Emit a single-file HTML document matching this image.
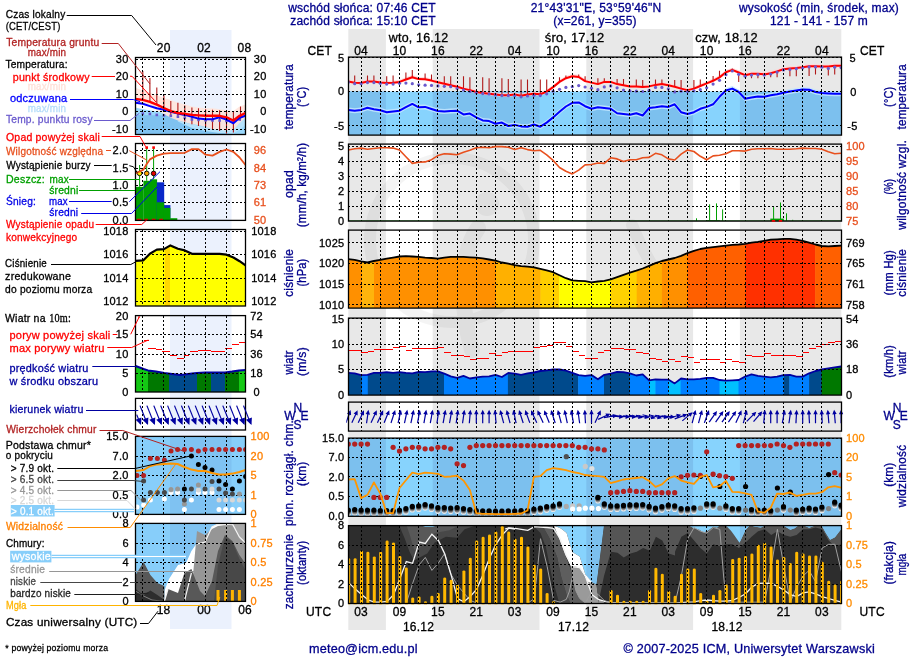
<!DOCTYPE html>
<html><head><meta charset="utf-8"><title>Meteogram</title>
<style>html,body{margin:0;padding:0;background:#fff}svg{display:block}text{font-family:"Liberation Sans",Arial,sans-serif;letter-spacing:0.2px;stroke-width:0.3px}</style>
</head><body>
<svg width="910" height="660" viewBox="0 0 910 660">
<rect width="910" height="660" fill="#fff"/>
<rect x="348.3" y="29" width="37.6" height="601" fill="#e8e8e8" />
<rect x="432.7" y="29" width="106.8" height="601" fill="#e8e8e8" />
<rect x="586.3" y="29" width="106.8" height="601" fill="#e8e8e8" />
<rect x="739.9" y="29" width="101.4" height="601" fill="#e8e8e8" />
<rect x="170" y="30" width="61.5" height="599" fill="#ebf1fd" />
<g fill="none" stroke="#000" stroke-width="12" opacity="0.04" stroke-linecap="round"><circle cx="452" cy="240" r="82"/><path d="M478 228 C462 250 458 300 472 350" stroke-width="16"/><circle cx="487" cy="204" r="12" fill="#000" stroke="none"/><path d="M632 225 C640 245 650 262 656 272"/></g>
<clipPath id="cT"><rect x="348.3" y="57" width="492.99999999999994" height="78"/></clipPath>
<g>
<rect x="348.3" y="91.5" width="493" height="43.5" fill="#87d3fd" />
<rect x="348.3" y="91.5" width="37.6" height="43.5" fill="#7cc0ee" />
<rect x="432.7" y="91.5" width="106.8" height="43.5" fill="#7cc0ee" />
<rect x="586.3" y="91.5" width="106.8" height="43.5" fill="#7cc0ee" />
<rect x="739.9" y="91.5" width="101.4" height="43.5" fill="#7cc0ee" />
</g>
<g clip-path="url(#cT)">
<polygon points="348.3,79.3 354.7,80.6 361.1,80.8 367.5,79.3 373.9,79.3 380.3,80.3 386.7,80.8 393.1,80.6 399.5,79.7 405.9,77.3 412.3,75 418.7,76.9 425.1,77.1 431.5,78.4 437.9,80.1 444.3,81.6 450.7,83.1 457.1,84.5 463.5,86.4 469.9,87.9 476.3,89.8 482.7,90.9 489.1,91.6 495.5,92.4 501.9,93.1 508.3,93.1 514.7,92.4 521.1,93.5 527.5,92.4 533.9,91.6 540.3,92 546.7,89.4 553.1,84.9 559.5,79.7 565.9,76 572.3,74.1 578.7,74.8 585.1,78.9 591.5,80.4 597.9,81.9 604.3,79.7 610.7,79.7 617.1,81.9 623.5,83.1 629.9,84.2 636.3,84.2 642.7,84.9 649.1,84.2 655.5,82.7 661.9,81.9 668.3,83.1 674.7,84.5 681.1,86.4 687.5,87.9 693.9,86.4 700.3,83.8 706.7,81.2 713.1,78.6 719.5,75.2 725.9,70 732.3,67.7 738.7,70.3 745.1,73 751.5,71.5 757.9,71.5 764.3,72.2 770.7,71.1 777.1,69.2 783.5,67 789.9,66.2 796.3,65.9 802.7,65.1 809.1,64 815.5,64 821.9,64.4 828.3,64.4 834.7,63.6 841.1,63.6 841.1,67.3 834.7,67.3 828.3,68.1 821.9,68.1 815.5,67.7 809.1,67.7 802.7,68.8 796.3,69.6 789.9,69.9 783.5,70.7 777.1,72.9 770.7,74.8 764.3,75.9 757.9,75.2 751.5,75.2 745.1,76.7 738.7,74 732.3,71.4 725.9,73.7 719.5,78.9 713.1,82.3 706.7,84.9 700.3,87.5 693.9,90.1 687.5,91.6 681.1,90.1 674.7,88.2 668.3,86.8 661.9,85.6 655.5,86.4 649.1,87.9 642.7,88.6 636.3,87.9 629.9,87.9 623.5,86.8 617.1,85.6 610.7,83.4 604.3,83.4 597.9,85.6 591.5,84.1 585.1,82.6 578.7,78.5 572.3,77.8 565.9,79.7 559.5,83.4 553.1,88.6 546.7,93.1 540.3,95.7 533.9,95.3 527.5,96.1 521.1,97.2 514.7,96.1 508.3,96.8 501.9,96.8 495.5,96.1 489.1,95.3 482.7,94.6 476.3,93.5 469.9,91.6 463.5,90.1 457.1,88.2 450.7,86.8 444.3,85.3 437.9,83.8 431.5,82.1 425.1,80.8 418.7,80.6 412.3,78.7 405.9,81 399.5,83.4 393.1,84.3 386.7,84.5 380.3,84 373.9,83 367.5,83 361.1,84.5 354.7,84.3 348.3,83" fill="#ffd6d6" opacity="0.8"/>
<polygon points="348.3,107.4 354.7,108.2 361.1,107.4 367.5,105.2 373.9,106.7 380.3,107.8 386.7,109.7 393.1,108.9 399.5,108.2 405.9,104.6 412.3,101.4 418.7,104.8 425.1,104.4 431.5,106.5 437.9,108.5 444.3,108.9 450.7,108.5 457.1,108.2 463.5,111.9 469.9,111.1 476.3,114.9 482.7,117.9 489.1,118.6 495.5,121.2 501.9,120.1 508.3,123.5 514.7,122.4 521.1,123.9 527.5,124.2 533.9,122 540.3,124.2 546.7,120.1 553.1,114.9 559.5,109.3 565.9,104 572.3,100.3 578.7,99.9 585.1,103.7 591.5,106.3 597.9,104.8 604.3,105.5 610.7,106.3 617.1,110.8 623.5,111.5 629.9,112.3 636.3,110.8 642.7,113 649.1,105.5 655.5,104.8 661.9,103.7 668.3,104.4 674.7,101.8 681.1,109.7 687.5,111.5 693.9,109.7 700.3,106.3 706.7,104.4 713.1,101.8 719.5,94.3 725.9,88 732.3,86.1 738.7,89.5 745.1,96.2 751.5,95.1 757.9,94 764.3,94.3 770.7,92.8 777.1,91.7 783.5,90.2 789.9,89.1 796.3,88 802.7,86.9 809.1,87.2 815.5,89.5 821.9,90.6 828.3,91 834.7,91.3 841.1,91.3 841.1,96.3 834.7,96.3 828.3,96 821.9,95.6 815.5,94.5 809.1,92.2 802.7,91.9 796.3,93 789.9,94.1 783.5,95.2 777.1,96.7 770.7,97.8 764.3,99.3 757.9,99 751.5,100.1 745.1,101.2 738.7,94.5 732.3,91.1 725.9,93 719.5,99.3 713.1,106.8 706.7,109.4 700.3,111.3 693.9,114.7 687.5,116.5 681.1,114.7 674.7,106.8 668.3,109.4 661.9,108.7 655.5,109.8 649.1,110.5 642.7,118 636.3,115.8 629.9,117.3 623.5,116.5 617.1,115.8 610.7,111.3 604.3,110.5 597.9,109.8 591.5,111.3 585.1,108.7 578.7,104.9 572.3,105.3 565.9,109 559.5,114.3 553.1,119.9 546.7,125.1 540.3,129.2 533.9,127 527.5,129.2 521.1,128.9 514.7,127.4 508.3,128.5 501.9,125.1 495.5,126.2 489.1,123.6 482.7,122.9 476.3,119.9 469.9,116.1 463.5,116.9 457.1,113.2 450.7,113.5 444.3,113.9 437.9,113.5 431.5,111.5 425.1,109.4 418.7,109.8 412.3,106.4 405.9,109.6 399.5,113.2 393.1,113.9 386.7,114.7 380.3,112.8 373.9,111.7 367.5,110.2 361.1,112.4 354.7,113.2 348.3,112.4" fill="#c4e6ff" opacity="0.85"/>
<line x1="348.3" y1="75.4" x2="348.3" y2="81.5" stroke="#b01818" stroke-width="1.1" />
<line x1="354.7" y1="75.4" x2="354.7" y2="82.8" stroke="#b01818" stroke-width="1.1" />
<line x1="367.5" y1="75.4" x2="367.5" y2="81.5" stroke="#b01818" stroke-width="1.1" />
<line x1="373.9" y1="75.4" x2="373.9" y2="81.5" stroke="#b01818" stroke-width="1.1" />
<line x1="386.7" y1="76.3" x2="386.7" y2="83" stroke="#b01818" stroke-width="1.1" />
<line x1="393.1" y1="75.5" x2="393.1" y2="82.8" stroke="#b01818" stroke-width="1.1" />
<line x1="405.9" y1="72.5" x2="405.9" y2="79.5" stroke="#b01818" stroke-width="1.1" />
<line x1="412.3" y1="70.1" x2="412.3" y2="77.2" stroke="#b01818" stroke-width="1.1" />
<line x1="425.1" y1="73.5" x2="425.1" y2="79.3" stroke="#b01818" stroke-width="1.1" />
<line x1="431.5" y1="74.4" x2="431.5" y2="80.6" stroke="#b01818" stroke-width="1.1" />
<line x1="444.3" y1="76.3" x2="444.3" y2="83.8" stroke="#b01818" stroke-width="1.1" />
<line x1="450.7" y1="76.3" x2="450.7" y2="85.3" stroke="#b01818" stroke-width="1.1" />
<line x1="463.5" y1="76.3" x2="463.5" y2="88.6" stroke="#b01818" stroke-width="1.1" />
<line x1="469.9" y1="77.2" x2="469.9" y2="90.1" stroke="#b01818" stroke-width="1.1" />
<line x1="482.7" y1="77.2" x2="482.7" y2="93.1" stroke="#b01818" stroke-width="1.1" />
<line x1="489.1" y1="78.2" x2="489.1" y2="93.8" stroke="#b01818" stroke-width="1.1" />
<line x1="501.9" y1="78.2" x2="501.9" y2="95.3" stroke="#b01818" stroke-width="1.1" />
<line x1="508.3" y1="79.1" x2="508.3" y2="95.3" stroke="#b01818" stroke-width="1.1" />
<line x1="521.1" y1="79.6" x2="521.1" y2="95.7" stroke="#b01818" stroke-width="1.1" />
<line x1="527.5" y1="79.6" x2="527.5" y2="94.6" stroke="#b01818" stroke-width="1.1" />
<line x1="540.3" y1="79.6" x2="540.3" y2="94.2" stroke="#b01818" stroke-width="1.1" />
<line x1="546.7" y1="79.6" x2="546.7" y2="91.6" stroke="#b01818" stroke-width="1.1" />
<line x1="559.5" y1="77.2" x2="559.5" y2="81.9" stroke="#b01818" stroke-width="1.1" />
<line x1="565.9" y1="75.4" x2="565.9" y2="78.2" stroke="#b01818" stroke-width="1.1" />
<line x1="578.7" y1="74.4" x2="578.7" y2="77" stroke="#b01818" stroke-width="1.1" />
<line x1="585.1" y1="76.3" x2="585.1" y2="81.1" stroke="#b01818" stroke-width="1.1" />
<line x1="597.9" y1="78.2" x2="597.9" y2="84.1" stroke="#b01818" stroke-width="1.1" />
<line x1="604.3" y1="78.2" x2="604.3" y2="81.9" stroke="#b01818" stroke-width="1.1" />
<line x1="617.1" y1="79.1" x2="617.1" y2="84.1" stroke="#b01818" stroke-width="1.1" />
<line x1="623.5" y1="79.1" x2="623.5" y2="85.3" stroke="#b01818" stroke-width="1.1" />
<line x1="636.3" y1="79.6" x2="636.3" y2="86.4" stroke="#b01818" stroke-width="1.1" />
<line x1="642.7" y1="80" x2="642.7" y2="87.1" stroke="#b01818" stroke-width="1.1" />
<line x1="655.5" y1="79.6" x2="655.5" y2="84.9" stroke="#b01818" stroke-width="1.1" />
<line x1="661.9" y1="79.6" x2="661.9" y2="84.1" stroke="#b01818" stroke-width="1.1" />
<line x1="674.7" y1="80" x2="674.7" y2="86.7" stroke="#b01818" stroke-width="1.1" />
<line x1="681.1" y1="80" x2="681.1" y2="88.6" stroke="#b01818" stroke-width="1.1" />
<line x1="693.9" y1="80" x2="693.9" y2="88.6" stroke="#b01818" stroke-width="1.1" />
<line x1="700.3" y1="79.6" x2="700.3" y2="86" stroke="#b01818" stroke-width="1.1" />
<line x1="713.1" y1="75.9" x2="713.1" y2="80.8" stroke="#b01818" stroke-width="1.1" />
<line x1="719.5" y1="70.7" x2="719.5" y2="77.4" stroke="#b01818" stroke-width="1.1" />
<line x1="732.3" y1="68.4" x2="732.3" y2="69.9" stroke="#b01818" stroke-width="1.1" />
<line x1="738.7" y1="81.9" x2="738.7" y2="72.5" stroke="#b01818" stroke-width="1.1" />
<line x1="751.5" y1="78.2" x2="751.5" y2="73.7" stroke="#b01818" stroke-width="1.1" />
<line x1="757.9" y1="78.2" x2="757.9" y2="73.7" stroke="#b01818" stroke-width="1.1" />
<line x1="770.7" y1="77.2" x2="770.7" y2="73.3" stroke="#b01818" stroke-width="1.1" />
<line x1="777.1" y1="77.2" x2="777.1" y2="71.4" stroke="#b01818" stroke-width="1.1" />
<line x1="789.9" y1="76.3" x2="789.9" y2="68.4" stroke="#b01818" stroke-width="1.1" />
<line x1="796.3" y1="76.3" x2="796.3" y2="68.1" stroke="#b01818" stroke-width="1.1" />
<line x1="809.1" y1="75.9" x2="809.1" y2="66.2" stroke="#b01818" stroke-width="1.1" />
<line x1="815.5" y1="74.4" x2="815.5" y2="66.2" stroke="#b01818" stroke-width="1.1" />
<line x1="828.3" y1="75.4" x2="828.3" y2="66.6" stroke="#b01818" stroke-width="1.1" />
<line x1="834.7" y1="74.4" x2="834.7" y2="65.8" stroke="#b01818" stroke-width="1.1" />
<polyline points="348.3,109.9 354.7,110.7 361.1,109.9 367.5,107.7 373.9,109.2 380.3,110.3 386.7,112.2 393.1,111.4 399.5,110.7 405.9,107.1 412.3,103.9 418.7,107.3 425.1,106.9 431.5,109 437.9,111 444.3,111.4 450.7,111 457.1,110.7 463.5,114.4 469.9,113.6 476.3,117.4 482.7,120.4 489.1,121.1 495.5,123.7 501.9,122.6 508.3,126 514.7,124.9 521.1,126.4 527.5,126.7 533.9,124.5 540.3,126.7 546.7,122.6 553.1,117.4 559.5,111.8 565.9,106.5 572.3,102.8 578.7,102.4 585.1,106.2 591.5,108.8 597.9,107.3 604.3,108 610.7,108.8 617.1,113.3 623.5,114 629.9,114.8 636.3,113.3 642.7,115.5 649.1,108 655.5,107.3 661.9,106.2 668.3,106.9 674.7,104.3 681.1,112.2 687.5,114 693.9,112.2 700.3,108.8 706.7,106.9 713.1,104.3 719.5,96.8 725.9,90.5 732.3,88.6 738.7,92 745.1,98.7 751.5,97.6 757.9,96.5 764.3,96.8 770.7,95.3 777.1,94.2 783.5,92.7 789.9,91.6 796.3,90.5 802.7,89.4 809.1,89.7 815.5,92 821.9,93.1 828.3,93.5 834.7,93.8 841.1,93.8" fill="none" stroke="#0000ff" stroke-width="2" stroke-linejoin="round"/>
<polyline points="348.3,81.5 354.7,82.8 361.1,83 367.5,81.5 373.9,81.5 380.3,82.5 386.7,83 393.1,82.8 399.5,81.9 405.9,79.5 412.3,77.2 418.7,79.1 425.1,79.3 431.5,80.6 437.9,82.3 444.3,83.8 450.7,85.3 457.1,86.7 463.5,88.6 469.9,90.1 476.3,92 482.7,93.1 489.1,93.8 495.5,94.6 501.9,95.3 508.3,95.3 514.7,94.6 521.1,95.7 527.5,94.6 533.9,93.8 540.3,94.2 546.7,91.6 553.1,87.1 559.5,81.9 565.9,78.2 572.3,76.3 578.7,77 585.1,81.1 591.5,82.6 597.9,84.1 604.3,81.9 610.7,81.9 617.1,84.1 623.5,85.3 629.9,86.4 636.3,86.4 642.7,87.1 649.1,86.4 655.5,84.9 661.9,84.1 668.3,85.3 674.7,86.7 681.1,88.6 687.5,90.1 693.9,88.6 700.3,86 706.7,83.4 713.1,80.8 719.5,77.4 725.9,72.2 732.3,69.9 738.7,72.5 745.1,75.2 751.5,73.7 757.9,73.7 764.3,74.4 770.7,73.3 777.1,71.4 783.5,69.2 789.9,68.4 796.3,68.1 802.7,67.3 809.1,66.2 815.5,66.2 821.9,66.6 828.3,66.6 834.7,65.8 841.1,65.8" fill="none" stroke="#ff0000" stroke-width="2" stroke-linejoin="round"/>
<circle cx="348.3" cy="82.2" r="1.6" fill="#6a5acd" />
<circle cx="354.7" cy="83.7" r="1.6" fill="#6a5acd" />
<circle cx="361.1" cy="83.7" r="1.6" fill="#6a5acd" />
<circle cx="367.5" cy="82.6" r="1.6" fill="#6a5acd" />
<circle cx="373.9" cy="82.6" r="1.6" fill="#6a5acd" />
<circle cx="380.3" cy="83.3" r="1.6" fill="#6a5acd" />
<circle cx="386.7" cy="84.1" r="1.6" fill="#6a5acd" />
<circle cx="393.1" cy="84.1" r="1.6" fill="#6a5acd" />
<circle cx="399.5" cy="83.3" r="1.6" fill="#6a5acd" />
<circle cx="405.9" cy="83.1" r="1.6" fill="#6a5acd" />
<circle cx="412.3" cy="83.7" r="1.6" fill="#6a5acd" />
<circle cx="418.7" cy="84.8" r="1.6" fill="#6a5acd" />
<circle cx="425.1" cy="85.2" r="1.6" fill="#6a5acd" />
<circle cx="431.5" cy="85.4" r="1.6" fill="#6a5acd" />
<circle cx="437.9" cy="85.9" r="1.6" fill="#6a5acd" />
<circle cx="444.3" cy="86.3" r="1.6" fill="#6a5acd" />
<circle cx="450.7" cy="86.7" r="1.6" fill="#6a5acd" />
<circle cx="457.1" cy="88.5" r="1.6" fill="#6a5acd" />
<circle cx="463.5" cy="90" r="1.6" fill="#6a5acd" />
<circle cx="469.9" cy="91.5" r="1.6" fill="#6a5acd" />
<circle cx="476.3" cy="92.7" r="1.6" fill="#6a5acd" />
<circle cx="482.7" cy="93.6" r="1.6" fill="#6a5acd" />
<circle cx="489.1" cy="94" r="1.6" fill="#6a5acd" />
<circle cx="495.5" cy="94.9" r="1.6" fill="#6a5acd" />
<circle cx="501.9" cy="95.6" r="1.6" fill="#6a5acd" />
<circle cx="508.3" cy="95.6" r="1.6" fill="#6a5acd" />
<circle cx="514.7" cy="95.6" r="1.6" fill="#6a5acd" />
<circle cx="521.1" cy="96.8" r="1.6" fill="#6a5acd" />
<circle cx="527.5" cy="96" r="1.6" fill="#6a5acd" />
<circle cx="533.9" cy="95.3" r="1.6" fill="#6a5acd" />
<circle cx="540.3" cy="95.6" r="1.6" fill="#6a5acd" />
<circle cx="546.7" cy="93.8" r="1.6" fill="#6a5acd" />
<circle cx="553.1" cy="91.2" r="1.6" fill="#6a5acd" />
<circle cx="559.5" cy="89.3" r="1.6" fill="#6a5acd" />
<circle cx="565.9" cy="87.4" r="1.6" fill="#6a5acd" />
<circle cx="572.3" cy="86.7" r="1.6" fill="#6a5acd" />
<circle cx="578.7" cy="85.6" r="1.6" fill="#6a5acd" />
<circle cx="585.1" cy="87" r="1.6" fill="#6a5acd" />
<circle cx="591.5" cy="88.2" r="1.6" fill="#6a5acd" />
<circle cx="597.9" cy="89.7" r="1.6" fill="#6a5acd" />
<circle cx="604.3" cy="86.9" r="1.6" fill="#6a5acd" />
<circle cx="610.7" cy="85.9" r="1.6" fill="#6a5acd" />
<circle cx="617.1" cy="87.8" r="1.6" fill="#6a5acd" />
<circle cx="623.5" cy="90" r="1.6" fill="#6a5acd" />
<circle cx="629.9" cy="90.8" r="1.6" fill="#6a5acd" />
<circle cx="636.3" cy="91.2" r="1.6" fill="#6a5acd" />
<circle cx="642.7" cy="91.5" r="1.6" fill="#6a5acd" />
<circle cx="649.1" cy="90.4" r="1.6" fill="#6a5acd" />
<circle cx="655.5" cy="87.4" r="1.6" fill="#6a5acd" />
<circle cx="661.9" cy="87.4" r="1.6" fill="#6a5acd" />
<circle cx="668.3" cy="88.9" r="1.6" fill="#6a5acd" />
<circle cx="674.7" cy="91.9" r="1.6" fill="#6a5acd" />
<circle cx="681.1" cy="91.2" r="1.6" fill="#6a5acd" />
<circle cx="687.5" cy="91.5" r="1.6" fill="#6a5acd" />
<circle cx="693.9" cy="90.8" r="1.6" fill="#6a5acd" />
<circle cx="700.3" cy="89.7" r="1.6" fill="#6a5acd" />
<circle cx="706.7" cy="87.8" r="1.6" fill="#6a5acd" />
<circle cx="713.1" cy="84.1" r="1.6" fill="#6a5acd" />
<circle cx="719.5" cy="80.3" r="1.6" fill="#6a5acd" />
<circle cx="725.9" cy="74.7" r="1.6" fill="#6a5acd" />
<circle cx="732.3" cy="71" r="1.6" fill="#6a5acd" />
<circle cx="738.7" cy="74.3" r="1.6" fill="#6a5acd" />
<circle cx="745.1" cy="76.2" r="1.6" fill="#6a5acd" />
<circle cx="751.5" cy="75.1" r="1.6" fill="#6a5acd" />
<circle cx="757.9" cy="74.7" r="1.6" fill="#6a5acd" />
<circle cx="764.3" cy="75.1" r="1.6" fill="#6a5acd" />
<circle cx="770.7" cy="74" r="1.6" fill="#6a5acd" />
<circle cx="777.1" cy="72.1" r="1.6" fill="#6a5acd" />
<circle cx="783.5" cy="69.9" r="1.6" fill="#6a5acd" />
<circle cx="789.9" cy="69.5" r="1.6" fill="#6a5acd" />
<circle cx="796.3" cy="68.7" r="1.6" fill="#6a5acd" />
<circle cx="802.7" cy="68" r="1.6" fill="#6a5acd" />
<circle cx="809.1" cy="66.9" r="1.6" fill="#6a5acd" />
<circle cx="815.5" cy="66.9" r="1.6" fill="#6a5acd" />
<circle cx="821.9" cy="67.2" r="1.6" fill="#6a5acd" />
<circle cx="828.3" cy="68.4" r="1.6" fill="#6a5acd" />
<circle cx="834.7" cy="67.2" r="1.6" fill="#6a5acd" />
<circle cx="841.1" cy="67.6" r="1.6" fill="#6a5acd" />
</g>
<g stroke="#000" stroke-width="1" stroke-dasharray="2 2" shape-rendering="crispEdges">
<line x1="361.5" y1="57" x2="361.5" y2="135" stroke="#000" stroke-width="1" />
<line x1="380.5" y1="57" x2="380.5" y2="135" stroke="#000" stroke-width="1" />
<line x1="399.5" y1="57" x2="399.5" y2="135" stroke="#000" stroke-width="1" />
<line x1="418.5" y1="57" x2="418.5" y2="135" stroke="#000" stroke-width="1" />
<line x1="437.5" y1="57" x2="437.5" y2="135" stroke="#000" stroke-width="1" />
<line x1="457.5" y1="57" x2="457.5" y2="135" stroke="#000" stroke-width="1" />
<line x1="476.5" y1="57" x2="476.5" y2="135" stroke="#000" stroke-width="1" />
<line x1="495.5" y1="57" x2="495.5" y2="135" stroke="#000" stroke-width="1" />
<line x1="514.5" y1="57" x2="514.5" y2="135" stroke="#000" stroke-width="1" />
<line x1="533.5" y1="57" x2="533.5" y2="135" stroke="#000" stroke-width="1" />
<line x1="553.5" y1="57" x2="553.5" y2="135" stroke="#000" stroke-width="1" />
<line x1="572.5" y1="57" x2="572.5" y2="135" stroke="#000" stroke-width="1" />
<line x1="591.5" y1="57" x2="591.5" y2="135" stroke="#000" stroke-width="1" />
<line x1="610.5" y1="57" x2="610.5" y2="135" stroke="#000" stroke-width="1" />
<line x1="629.5" y1="57" x2="629.5" y2="135" stroke="#000" stroke-width="1" />
<line x1="649.5" y1="57" x2="649.5" y2="135" stroke="#000" stroke-width="1" />
<line x1="668.5" y1="57" x2="668.5" y2="135" stroke="#000" stroke-width="1" />
<line x1="687.5" y1="57" x2="687.5" y2="135" stroke="#000" stroke-width="1" />
<line x1="706.5" y1="57" x2="706.5" y2="135" stroke="#000" stroke-width="1" />
<line x1="725.5" y1="57" x2="725.5" y2="135" stroke="#000" stroke-width="1" />
<line x1="745.5" y1="57" x2="745.5" y2="135" stroke="#000" stroke-width="1" />
<line x1="764.5" y1="57" x2="764.5" y2="135" stroke="#000" stroke-width="1" />
<line x1="783.5" y1="57" x2="783.5" y2="135" stroke="#000" stroke-width="1" />
<line x1="802.5" y1="57" x2="802.5" y2="135" stroke="#000" stroke-width="1" />
<line x1="821.5" y1="57" x2="821.5" y2="135" stroke="#000" stroke-width="1" />
<line x1="841.5" y1="57" x2="841.5" y2="135" stroke="#000" stroke-width="1" />
<line x1="348.3" y1="91.5" x2="841.3" y2="91.5" stroke="#000" stroke-width="1" />
<line x1="348.3" y1="125.5" x2="841.3" y2="125.5" stroke="#000" stroke-width="1" />
<line x1="348.3" y1="57.5" x2="841.3" y2="57.5" stroke="#000" stroke-width="1" />
</g>
<rect x="348.5" y="57.1" width="493" height="78" fill="none" stroke="#000" stroke-width="1.3"/>
<clipPath id="cP"><rect x="348.3" y="144" width="492.99999999999994" height="77"/></clipPath>
<g stroke="#000" stroke-width="1" stroke-dasharray="2 2" shape-rendering="crispEdges">
<line x1="361.5" y1="144" x2="361.5" y2="221" stroke="#000" stroke-width="1" />
<line x1="380.5" y1="144" x2="380.5" y2="221" stroke="#000" stroke-width="1" />
<line x1="399.5" y1="144" x2="399.5" y2="221" stroke="#000" stroke-width="1" />
<line x1="418.5" y1="144" x2="418.5" y2="221" stroke="#000" stroke-width="1" />
<line x1="437.5" y1="144" x2="437.5" y2="221" stroke="#000" stroke-width="1" />
<line x1="457.5" y1="144" x2="457.5" y2="221" stroke="#000" stroke-width="1" />
<line x1="476.5" y1="144" x2="476.5" y2="221" stroke="#000" stroke-width="1" />
<line x1="495.5" y1="144" x2="495.5" y2="221" stroke="#000" stroke-width="1" />
<line x1="514.5" y1="144" x2="514.5" y2="221" stroke="#000" stroke-width="1" />
<line x1="533.5" y1="144" x2="533.5" y2="221" stroke="#000" stroke-width="1" />
<line x1="553.5" y1="144" x2="553.5" y2="221" stroke="#000" stroke-width="1" />
<line x1="572.5" y1="144" x2="572.5" y2="221" stroke="#000" stroke-width="1" />
<line x1="591.5" y1="144" x2="591.5" y2="221" stroke="#000" stroke-width="1" />
<line x1="610.5" y1="144" x2="610.5" y2="221" stroke="#000" stroke-width="1" />
<line x1="629.5" y1="144" x2="629.5" y2="221" stroke="#000" stroke-width="1" />
<line x1="649.5" y1="144" x2="649.5" y2="221" stroke="#000" stroke-width="1" />
<line x1="668.5" y1="144" x2="668.5" y2="221" stroke="#000" stroke-width="1" />
<line x1="687.5" y1="144" x2="687.5" y2="221" stroke="#000" stroke-width="1" />
<line x1="706.5" y1="144" x2="706.5" y2="221" stroke="#000" stroke-width="1" />
<line x1="725.5" y1="144" x2="725.5" y2="221" stroke="#000" stroke-width="1" />
<line x1="745.5" y1="144" x2="745.5" y2="221" stroke="#000" stroke-width="1" />
<line x1="764.5" y1="144" x2="764.5" y2="221" stroke="#000" stroke-width="1" />
<line x1="783.5" y1="144" x2="783.5" y2="221" stroke="#000" stroke-width="1" />
<line x1="802.5" y1="144" x2="802.5" y2="221" stroke="#000" stroke-width="1" />
<line x1="821.5" y1="144" x2="821.5" y2="221" stroke="#000" stroke-width="1" />
<line x1="841.5" y1="144" x2="841.5" y2="221" stroke="#000" stroke-width="1" />
<line x1="348.3" y1="146.5" x2="841.3" y2="146.5" stroke="#000" stroke-width="1" />
<line x1="348.3" y1="161.5" x2="841.3" y2="161.5" stroke="#000" stroke-width="1" />
<line x1="348.3" y1="176.5" x2="841.3" y2="176.5" stroke="#000" stroke-width="1" />
<line x1="348.3" y1="191.5" x2="841.3" y2="191.5" stroke="#000" stroke-width="1" />
<line x1="348.3" y1="206.5" x2="841.3" y2="206.5" stroke="#000" stroke-width="1" />
</g>
<g clip-path="url(#cP)">
<line x1="696.5" y1="218.3" x2="696.5" y2="221" stroke="#00a000" stroke-width="1" />
<line x1="709.6" y1="204.3" x2="709.6" y2="221" stroke="#00a000" stroke-width="1" />
<line x1="716.5" y1="203.4" x2="716.5" y2="221" stroke="#00a000" stroke-width="1" />
<line x1="722.6" y1="209.4" x2="722.6" y2="221" stroke="#00a000" stroke-width="1" />
<line x1="773.6" y1="207.1" x2="773.6" y2="221" stroke="#00a000" stroke-width="1" />
<line x1="780.5" y1="202.5" x2="780.5" y2="221" stroke="#00a000" stroke-width="1" />
<line x1="786.5" y1="213.3" x2="786.5" y2="221" stroke="#00a000" stroke-width="1" />
<line x1="792.7" y1="219.8" x2="792.7" y2="221" stroke="#00a000" stroke-width="1" />
<rect x="706.8" y="220.2" width="13.1" height="2" fill="#00a000" />
<rect x="770.3" y="218.6" width="13.5" height="2.4" fill="#00a000" />
<line x1="348.3" y1="220.7" x2="841.3" y2="220.7" stroke="#1a7a1a" stroke-width="0.8" />
<polyline points="348.3,150 354.7,148.8 361.1,148.1 367.5,149.2 373.9,148.5 380.3,147.7 386.7,147.7 393.1,148.1 399.5,150 405.9,156.7 412.3,163.4 418.7,162.3 425.1,161.9 431.5,159.7 437.9,155.6 444.3,153.7 450.7,154.1 457.1,154.8 463.5,152.2 469.9,150.3 476.3,147.7 482.7,147.3 489.1,147.7 495.5,146.6 501.9,146.6 508.3,147.3 514.7,149.6 521.1,147.7 527.5,149.6 533.9,150.7 540.3,150.3 546.7,154.8 553.1,160.4 559.5,167.5 565.9,171.3 572.3,173.9 578.7,170.1 585.1,164.9 591.5,164.5 597.9,163 604.3,163.4 610.7,157.8 617.1,158.9 623.5,161.5 629.9,159.7 636.3,159.7 642.7,157.8 649.1,157.4 655.5,153.3 661.9,154.8 668.3,158.9 674.7,160 681.1,154.1 687.5,150 693.9,151.5 700.3,156.3 706.7,159.7 713.1,155.9 719.5,155.2 725.9,153.7 732.3,150.7 738.7,150.7 745.1,151.1 751.5,149.2 757.9,148.8 764.3,148.8 770.7,148.5 777.1,149.2 783.5,149.2 789.9,149.2 796.3,148.8 802.7,148.1 809.1,148.5 815.5,148.5 821.9,149.2 828.3,151.8 834.7,153.7 841.1,153.3" fill="none" stroke="#e8501e" stroke-width="1.6" stroke-linejoin="round"/>
</g>
<rect x="348.5" y="144.1" width="493" height="77" fill="none" stroke="#000" stroke-width="1.3"/>
<rect x="771.8" y="220" width="3.4" height="1.8" fill="#e80000" />
<rect x="778.8" y="220" width="3.4" height="1.8" fill="#e80000" />
<clipPath id="cR"><polygon points="348.3,259.1 354.7,259.9 361.1,261.4 367.5,262.5 373.9,261 380.3,259.9 386.7,258.7 393.1,257.6 399.5,256.5 405.9,256.1 412.3,256.5 418.7,256.9 425.1,257.6 431.5,258 437.9,258.7 444.3,257.6 450.7,256.9 457.1,256.9 463.5,256.9 469.9,257.3 476.3,257.6 482.7,258.4 489.1,259.5 495.5,260.6 501.9,262.5 508.3,263.6 514.7,265.1 521.1,266.2 527.5,266.6 533.9,267.3 540.3,268.8 546.7,270.3 553.1,272.2 559.5,275.2 565.9,278.2 572.3,280.4 578.7,280.8 585.1,281.2 591.5,282.3 597.9,281.5 604.3,280.8 610.7,279.3 617.1,277.1 623.5,274.8 629.9,272.6 636.3,270.7 642.7,268.5 649.1,265.8 655.5,263.2 661.9,261 668.3,259.5 674.7,258 681.1,255.8 687.5,253.1 693.9,250.9 700.3,249 706.7,247.9 713.1,247.2 719.5,246.4 725.9,245.7 732.3,244.9 738.7,244.5 745.1,243.8 751.5,242.7 757.9,241.9 764.3,240.8 770.7,239.7 777.1,239.3 783.5,238.9 789.9,238.9 796.3,239.7 802.7,240.8 809.1,242.7 815.5,244.5 821.9,246 828.3,246.4 834.7,246 841.1,245.7 841.3,308 348.3,308"/></clipPath>
<g clip-path="url(#cR)">
<rect x="349" y="230" width="13.3" height="78" fill="#ff9000" />
<rect x="361.8" y="230" width="12.6" height="78" fill="#ffb40c" />
<rect x="374" y="230" width="122.5" height="78" fill="#ff9000" />
<rect x="495.9" y="230" width="45" height="78" fill="#ffb000" />
<rect x="540.5" y="230" width="19.2" height="78" fill="#ffcf00" />
<rect x="559.2" y="230" width="52.2" height="78" fill="#ffff00" />
<rect x="610.9" y="230" width="26.3" height="78" fill="#ffd200" />
<rect x="636.7" y="230" width="25.7" height="78" fill="#ffaf00" />
<rect x="661.9" y="230" width="26.3" height="78" fill="#ff9000" />
<rect x="687.7" y="230" width="58.4" height="78" fill="#ff6000" />
<rect x="745.6" y="230" width="70" height="78" fill="#ff3000" />
<rect x="815.1" y="230" width="27.4" height="78" fill="#ff6000" />
</g>
<polyline points="348.3,259.1 354.7,259.9 361.1,261.4 367.5,262.5 373.9,261 380.3,259.9 386.7,258.7 393.1,257.6 399.5,256.5 405.9,256.1 412.3,256.5 418.7,256.9 425.1,257.6 431.5,258 437.9,258.7 444.3,257.6 450.7,256.9 457.1,256.9 463.5,256.9 469.9,257.3 476.3,257.6 482.7,258.4 489.1,259.5 495.5,260.6 501.9,262.5 508.3,263.6 514.7,265.1 521.1,266.2 527.5,266.6 533.9,267.3 540.3,268.8 546.7,270.3 553.1,272.2 559.5,275.2 565.9,278.2 572.3,280.4 578.7,280.8 585.1,281.2 591.5,282.3 597.9,281.5 604.3,280.8 610.7,279.3 617.1,277.1 623.5,274.8 629.9,272.6 636.3,270.7 642.7,268.5 649.1,265.8 655.5,263.2 661.9,261 668.3,259.5 674.7,258 681.1,255.8 687.5,253.1 693.9,250.9 700.3,249 706.7,247.9 713.1,247.2 719.5,246.4 725.9,245.7 732.3,244.9 738.7,244.5 745.1,243.8 751.5,242.7 757.9,241.9 764.3,240.8 770.7,239.7 777.1,239.3 783.5,238.9 789.9,238.9 796.3,239.7 802.7,240.8 809.1,242.7 815.5,244.5 821.9,246 828.3,246.4 834.7,246 841.1,245.7" fill="none" stroke="#000" stroke-width="1.8" stroke-linejoin="round"/>
<g stroke="#000" stroke-width="1" stroke-dasharray="2 2" shape-rendering="crispEdges">
<line x1="361.5" y1="230" x2="361.5" y2="308" stroke="#000" stroke-width="1" />
<line x1="380.5" y1="230" x2="380.5" y2="308" stroke="#000" stroke-width="1" />
<line x1="399.5" y1="230" x2="399.5" y2="308" stroke="#000" stroke-width="1" />
<line x1="418.5" y1="230" x2="418.5" y2="308" stroke="#000" stroke-width="1" />
<line x1="437.5" y1="230" x2="437.5" y2="308" stroke="#000" stroke-width="1" />
<line x1="457.5" y1="230" x2="457.5" y2="308" stroke="#000" stroke-width="1" />
<line x1="476.5" y1="230" x2="476.5" y2="308" stroke="#000" stroke-width="1" />
<line x1="495.5" y1="230" x2="495.5" y2="308" stroke="#000" stroke-width="1" />
<line x1="514.5" y1="230" x2="514.5" y2="308" stroke="#000" stroke-width="1" />
<line x1="533.5" y1="230" x2="533.5" y2="308" stroke="#000" stroke-width="1" />
<line x1="553.5" y1="230" x2="553.5" y2="308" stroke="#000" stroke-width="1" />
<line x1="572.5" y1="230" x2="572.5" y2="308" stroke="#000" stroke-width="1" />
<line x1="591.5" y1="230" x2="591.5" y2="308" stroke="#000" stroke-width="1" />
<line x1="610.5" y1="230" x2="610.5" y2="308" stroke="#000" stroke-width="1" />
<line x1="629.5" y1="230" x2="629.5" y2="308" stroke="#000" stroke-width="1" />
<line x1="649.5" y1="230" x2="649.5" y2="308" stroke="#000" stroke-width="1" />
<line x1="668.5" y1="230" x2="668.5" y2="308" stroke="#000" stroke-width="1" />
<line x1="687.5" y1="230" x2="687.5" y2="308" stroke="#000" stroke-width="1" />
<line x1="706.5" y1="230" x2="706.5" y2="308" stroke="#000" stroke-width="1" />
<line x1="725.5" y1="230" x2="725.5" y2="308" stroke="#000" stroke-width="1" />
<line x1="745.5" y1="230" x2="745.5" y2="308" stroke="#000" stroke-width="1" />
<line x1="764.5" y1="230" x2="764.5" y2="308" stroke="#000" stroke-width="1" />
<line x1="783.5" y1="230" x2="783.5" y2="308" stroke="#000" stroke-width="1" />
<line x1="802.5" y1="230" x2="802.5" y2="308" stroke="#000" stroke-width="1" />
<line x1="821.5" y1="230" x2="821.5" y2="308" stroke="#000" stroke-width="1" />
<line x1="841.5" y1="230" x2="841.5" y2="308" stroke="#000" stroke-width="1" />
<line x1="348.3" y1="242.5" x2="841.3" y2="242.5" stroke="#000" stroke-width="1" />
<line x1="348.3" y1="263.5" x2="841.3" y2="263.5" stroke="#000" stroke-width="1" />
<line x1="348.3" y1="284.5" x2="841.3" y2="284.5" stroke="#000" stroke-width="1" />
<line x1="348.3" y1="304.5" x2="841.3" y2="304.5" stroke="#000" stroke-width="1" />
</g>
<rect x="348.5" y="230.1" width="493" height="78" fill="none" stroke="#000" stroke-width="1.3"/>
<clipPath id="cW"><polygon points="348.3,372.9 354.7,373.3 361.1,375.1 367.5,374.8 373.9,372.9 380.3,372.9 386.7,372.2 393.1,372.9 399.5,372.2 405.9,372.9 412.3,373.3 418.7,371.8 425.1,372.2 431.5,371.4 437.9,371.4 444.3,373.6 450.7,376.3 457.1,377.8 463.5,375.9 469.9,378.5 476.3,377.4 482.7,376.6 489.1,376.3 495.5,374.8 501.9,377 508.3,372.9 514.7,373.6 521.1,374.8 527.5,373.3 533.9,372.5 540.3,371 546.7,370.3 553.1,369.5 559.5,369.5 565.9,370.7 572.3,372.9 578.7,375.1 585.1,375.9 591.5,375.1 597.9,379.3 604.3,374.8 610.7,373.6 617.1,371.8 623.5,372.2 629.9,373.3 636.3,375.5 642.7,374.4 649.1,380.4 655.5,379.3 661.9,379.6 668.3,379.6 674.7,383.4 681.1,378.5 687.5,379.3 693.9,379.3 700.3,378.9 706.7,377.8 713.1,377.8 719.5,380 725.9,380.7 732.3,380.4 738.7,380 745.1,376.6 751.5,374.4 757.9,375.9 764.3,376.6 770.7,377.4 777.1,376.6 783.5,375.1 789.9,374.8 796.3,376.6 802.7,376.6 809.1,373.3 815.5,371 821.9,369.5 828.3,368.4 834.7,367.3 841.1,366.5 841.3,395 348.3,395"/></clipPath>
<g clip-path="url(#cW)">
<rect x="349" y="318" width="13.3" height="77" fill="#004a8c" />
<rect x="361.8" y="318" width="6.5" height="77" fill="#0080ff" />
<rect x="367.8" y="318" width="76.7" height="77" fill="#004a8c" />
<rect x="444" y="318" width="64.4" height="77" fill="#0080ff" />
<rect x="507.9" y="318" width="70.8" height="77" fill="#004a8c" />
<rect x="578.2" y="318" width="26.3" height="77" fill="#0080ff" />
<rect x="604" y="318" width="26.3" height="77" fill="#004a8c" />
<rect x="629.8" y="318" width="20.5" height="77" fill="#0080ff" />
<rect x="649.8" y="318" width="6.1" height="77" fill="#00c0ff" />
<rect x="655.4" y="318" width="13.8" height="77" fill="#0080ff" />
<rect x="668.6" y="318" width="12.5" height="77" fill="#00c0ff" />
<rect x="680.6" y="318" width="39.4" height="77" fill="#0080ff" />
<rect x="719.5" y="318" width="19.6" height="77" fill="#00c0ff" />
<rect x="738.5" y="318" width="45.9" height="77" fill="#0080ff" />
<rect x="783.9" y="318" width="5.9" height="77" fill="#004a8c" />
<rect x="789.3" y="318" width="20.3" height="77" fill="#0080ff" />
<rect x="809.1" y="318" width="13" height="77" fill="#004a8c" />
<rect x="821.6" y="318" width="20.9" height="77" fill="#007800" />
</g>
<polyline points="348.3,372.9 354.7,373.3 361.1,375.1 367.5,374.8 373.9,372.9 380.3,372.9 386.7,372.2 393.1,372.9 399.5,372.2 405.9,372.9 412.3,373.3 418.7,371.8 425.1,372.2 431.5,371.4 437.9,371.4 444.3,373.6 450.7,376.3 457.1,377.8 463.5,375.9 469.9,378.5 476.3,377.4 482.7,376.6 489.1,376.3 495.5,374.8 501.9,377 508.3,372.9 514.7,373.6 521.1,374.8 527.5,373.3 533.9,372.5 540.3,371 546.7,370.3 553.1,369.5 559.5,369.5 565.9,370.7 572.3,372.9 578.7,375.1 585.1,375.9 591.5,375.1 597.9,379.3 604.3,374.8 610.7,373.6 617.1,371.8 623.5,372.2 629.9,373.3 636.3,375.5 642.7,374.4 649.1,380.4 655.5,379.3 661.9,379.6 668.3,379.6 674.7,383.4 681.1,378.5 687.5,379.3 693.9,379.3 700.3,378.9 706.7,377.8 713.1,377.8 719.5,380 725.9,380.7 732.3,380.4 738.7,380 745.1,376.6 751.5,374.4 757.9,375.9 764.3,376.6 770.7,377.4 777.1,376.6 783.5,375.1 789.9,374.8 796.3,376.6 802.7,376.6 809.1,373.3 815.5,371 821.9,369.5 828.3,368.4 834.7,367.3 841.1,366.5" fill="none" stroke="#0000a0" stroke-width="1.8" stroke-linejoin="round"/>
<g stroke="#ff0000" stroke-width="1" shape-rendering="crispEdges">
<line x1="348.3" y1="350.5" x2="354.7" y2="350.5" stroke="#ff0000" stroke-width="1" />
<line x1="354.7" y1="350.5" x2="361.1" y2="350.5" stroke="#ff0000" stroke-width="1" />
<line x1="361.1" y1="352.5" x2="367.5" y2="352.5" stroke="#ff0000" stroke-width="1" />
<line x1="367.5" y1="351.5" x2="373.9" y2="351.5" stroke="#ff0000" stroke-width="1" />
<line x1="373.9" y1="349.5" x2="380.3" y2="349.5" stroke="#ff0000" stroke-width="1" />
<line x1="380.3" y1="349.5" x2="386.7" y2="349.5" stroke="#ff0000" stroke-width="1" />
<line x1="386.7" y1="349.5" x2="393.1" y2="349.5" stroke="#ff0000" stroke-width="1" />
<line x1="393.1" y1="347.5" x2="399.5" y2="347.5" stroke="#ff0000" stroke-width="1" />
<line x1="399.5" y1="346.5" x2="405.9" y2="346.5" stroke="#ff0000" stroke-width="1" />
<line x1="405.9" y1="350.5" x2="412.3" y2="350.5" stroke="#ff0000" stroke-width="1" />
<line x1="412.3" y1="348.5" x2="418.7" y2="348.5" stroke="#ff0000" stroke-width="1" />
<line x1="418.7" y1="348.5" x2="425.1" y2="348.5" stroke="#ff0000" stroke-width="1" />
<line x1="425.1" y1="348.5" x2="431.5" y2="348.5" stroke="#ff0000" stroke-width="1" />
<line x1="431.5" y1="348.5" x2="437.9" y2="348.5" stroke="#ff0000" stroke-width="1" />
<line x1="437.9" y1="347.5" x2="444.3" y2="347.5" stroke="#ff0000" stroke-width="1" />
<line x1="444.3" y1="352.5" x2="450.7" y2="352.5" stroke="#ff0000" stroke-width="1" />
<line x1="450.7" y1="355.5" x2="457.1" y2="355.5" stroke="#ff0000" stroke-width="1" />
<line x1="457.1" y1="355.5" x2="463.5" y2="355.5" stroke="#ff0000" stroke-width="1" />
<line x1="463.5" y1="356.5" x2="469.9" y2="356.5" stroke="#ff0000" stroke-width="1" />
<line x1="469.9" y1="359.5" x2="476.3" y2="359.5" stroke="#ff0000" stroke-width="1" />
<line x1="476.3" y1="358.5" x2="482.7" y2="358.5" stroke="#ff0000" stroke-width="1" />
<line x1="482.7" y1="358.5" x2="489.1" y2="358.5" stroke="#ff0000" stroke-width="1" />
<line x1="489.1" y1="353.5" x2="495.5" y2="353.5" stroke="#ff0000" stroke-width="1" />
<line x1="495.5" y1="355.5" x2="501.9" y2="355.5" stroke="#ff0000" stroke-width="1" />
<line x1="501.9" y1="352.5" x2="508.3" y2="352.5" stroke="#ff0000" stroke-width="1" />
<line x1="508.3" y1="351.5" x2="514.7" y2="351.5" stroke="#ff0000" stroke-width="1" />
<line x1="514.7" y1="351.5" x2="521.1" y2="351.5" stroke="#ff0000" stroke-width="1" />
<line x1="521.1" y1="351.5" x2="527.5" y2="351.5" stroke="#ff0000" stroke-width="1" />
<line x1="527.5" y1="351.5" x2="533.9" y2="351.5" stroke="#ff0000" stroke-width="1" />
<line x1="533.9" y1="347.5" x2="540.3" y2="347.5" stroke="#ff0000" stroke-width="1" />
<line x1="540.3" y1="346.5" x2="546.7" y2="346.5" stroke="#ff0000" stroke-width="1" />
<line x1="546.7" y1="345.5" x2="553.1" y2="345.5" stroke="#ff0000" stroke-width="1" />
<line x1="553.1" y1="342.5" x2="559.5" y2="342.5" stroke="#ff0000" stroke-width="1" />
<line x1="559.5" y1="342.5" x2="565.9" y2="342.5" stroke="#ff0000" stroke-width="1" />
<line x1="565.9" y1="346.5" x2="572.3" y2="346.5" stroke="#ff0000" stroke-width="1" />
<line x1="572.3" y1="351.5" x2="578.7" y2="351.5" stroke="#ff0000" stroke-width="1" />
<line x1="578.7" y1="355.5" x2="585.1" y2="355.5" stroke="#ff0000" stroke-width="1" />
<line x1="585.1" y1="358.5" x2="591.5" y2="358.5" stroke="#ff0000" stroke-width="1" />
<line x1="591.5" y1="358.5" x2="597.9" y2="358.5" stroke="#ff0000" stroke-width="1" />
<line x1="597.9" y1="352.5" x2="604.3" y2="352.5" stroke="#ff0000" stroke-width="1" />
<line x1="604.3" y1="350.5" x2="610.7" y2="350.5" stroke="#ff0000" stroke-width="1" />
<line x1="610.7" y1="348.5" x2="617.1" y2="348.5" stroke="#ff0000" stroke-width="1" />
<line x1="617.1" y1="348.5" x2="623.5" y2="348.5" stroke="#ff0000" stroke-width="1" />
<line x1="623.5" y1="349.5" x2="629.9" y2="349.5" stroke="#ff0000" stroke-width="1" />
<line x1="629.9" y1="349.5" x2="636.3" y2="349.5" stroke="#ff0000" stroke-width="1" />
<line x1="636.3" y1="352.5" x2="642.7" y2="352.5" stroke="#ff0000" stroke-width="1" />
<line x1="642.7" y1="353.5" x2="649.1" y2="353.5" stroke="#ff0000" stroke-width="1" />
<line x1="649.1" y1="358.5" x2="655.5" y2="358.5" stroke="#ff0000" stroke-width="1" />
<line x1="655.5" y1="359.5" x2="661.9" y2="359.5" stroke="#ff0000" stroke-width="1" />
<line x1="661.9" y1="361.5" x2="668.3" y2="361.5" stroke="#ff0000" stroke-width="1" />
<line x1="668.3" y1="359.5" x2="674.7" y2="359.5" stroke="#ff0000" stroke-width="1" />
<line x1="674.7" y1="361.5" x2="681.1" y2="361.5" stroke="#ff0000" stroke-width="1" />
<line x1="681.1" y1="356.5" x2="687.5" y2="356.5" stroke="#ff0000" stroke-width="1" />
<line x1="687.5" y1="357.5" x2="693.9" y2="357.5" stroke="#ff0000" stroke-width="1" />
<line x1="693.9" y1="362.5" x2="700.3" y2="362.5" stroke="#ff0000" stroke-width="1" />
<line x1="700.3" y1="359.5" x2="706.7" y2="359.5" stroke="#ff0000" stroke-width="1" />
<line x1="706.7" y1="359.5" x2="713.1" y2="359.5" stroke="#ff0000" stroke-width="1" />
<line x1="713.1" y1="359.5" x2="719.5" y2="359.5" stroke="#ff0000" stroke-width="1" />
<line x1="719.5" y1="362.5" x2="725.9" y2="362.5" stroke="#ff0000" stroke-width="1" />
<line x1="725.9" y1="359.5" x2="732.3" y2="359.5" stroke="#ff0000" stroke-width="1" />
<line x1="732.3" y1="361.5" x2="738.7" y2="361.5" stroke="#ff0000" stroke-width="1" />
<line x1="738.7" y1="362.5" x2="745.1" y2="362.5" stroke="#ff0000" stroke-width="1" />
<line x1="745.1" y1="355.5" x2="751.5" y2="355.5" stroke="#ff0000" stroke-width="1" />
<line x1="751.5" y1="356.5" x2="757.9" y2="356.5" stroke="#ff0000" stroke-width="1" />
<line x1="757.9" y1="356.5" x2="764.3" y2="356.5" stroke="#ff0000" stroke-width="1" />
<line x1="764.3" y1="353.5" x2="770.7" y2="353.5" stroke="#ff0000" stroke-width="1" />
<line x1="770.7" y1="355.5" x2="777.1" y2="355.5" stroke="#ff0000" stroke-width="1" />
<line x1="777.1" y1="355.5" x2="783.5" y2="355.5" stroke="#ff0000" stroke-width="1" />
<line x1="783.5" y1="355.5" x2="789.9" y2="355.5" stroke="#ff0000" stroke-width="1" />
<line x1="789.9" y1="355.5" x2="796.3" y2="355.5" stroke="#ff0000" stroke-width="1" />
<line x1="796.3" y1="356.5" x2="802.7" y2="356.5" stroke="#ff0000" stroke-width="1" />
<line x1="802.7" y1="352.5" x2="809.1" y2="352.5" stroke="#ff0000" stroke-width="1" />
<line x1="809.1" y1="348.5" x2="815.5" y2="348.5" stroke="#ff0000" stroke-width="1" />
<line x1="815.5" y1="346.5" x2="821.9" y2="346.5" stroke="#ff0000" stroke-width="1" />
<line x1="821.9" y1="344.5" x2="828.3" y2="344.5" stroke="#ff0000" stroke-width="1" />
<line x1="828.3" y1="342.5" x2="834.7" y2="342.5" stroke="#ff0000" stroke-width="1" />
<line x1="834.7" y1="341.5" x2="841.1" y2="341.5" stroke="#ff0000" stroke-width="1" />
</g>
<g stroke="#000" stroke-width="1" stroke-dasharray="2 2" shape-rendering="crispEdges">
<line x1="361.5" y1="318" x2="361.5" y2="395" stroke="#000" stroke-width="1" />
<line x1="380.5" y1="318" x2="380.5" y2="395" stroke="#000" stroke-width="1" />
<line x1="399.5" y1="318" x2="399.5" y2="395" stroke="#000" stroke-width="1" />
<line x1="418.5" y1="318" x2="418.5" y2="395" stroke="#000" stroke-width="1" />
<line x1="437.5" y1="318" x2="437.5" y2="395" stroke="#000" stroke-width="1" />
<line x1="457.5" y1="318" x2="457.5" y2="395" stroke="#000" stroke-width="1" />
<line x1="476.5" y1="318" x2="476.5" y2="395" stroke="#000" stroke-width="1" />
<line x1="495.5" y1="318" x2="495.5" y2="395" stroke="#000" stroke-width="1" />
<line x1="514.5" y1="318" x2="514.5" y2="395" stroke="#000" stroke-width="1" />
<line x1="533.5" y1="318" x2="533.5" y2="395" stroke="#000" stroke-width="1" />
<line x1="553.5" y1="318" x2="553.5" y2="395" stroke="#000" stroke-width="1" />
<line x1="572.5" y1="318" x2="572.5" y2="395" stroke="#000" stroke-width="1" />
<line x1="591.5" y1="318" x2="591.5" y2="395" stroke="#000" stroke-width="1" />
<line x1="610.5" y1="318" x2="610.5" y2="395" stroke="#000" stroke-width="1" />
<line x1="629.5" y1="318" x2="629.5" y2="395" stroke="#000" stroke-width="1" />
<line x1="649.5" y1="318" x2="649.5" y2="395" stroke="#000" stroke-width="1" />
<line x1="668.5" y1="318" x2="668.5" y2="395" stroke="#000" stroke-width="1" />
<line x1="687.5" y1="318" x2="687.5" y2="395" stroke="#000" stroke-width="1" />
<line x1="706.5" y1="318" x2="706.5" y2="395" stroke="#000" stroke-width="1" />
<line x1="725.5" y1="318" x2="725.5" y2="395" stroke="#000" stroke-width="1" />
<line x1="745.5" y1="318" x2="745.5" y2="395" stroke="#000" stroke-width="1" />
<line x1="764.5" y1="318" x2="764.5" y2="395" stroke="#000" stroke-width="1" />
<line x1="783.5" y1="318" x2="783.5" y2="395" stroke="#000" stroke-width="1" />
<line x1="802.5" y1="318" x2="802.5" y2="395" stroke="#000" stroke-width="1" />
<line x1="821.5" y1="318" x2="821.5" y2="395" stroke="#000" stroke-width="1" />
<line x1="841.5" y1="318" x2="841.5" y2="395" stroke="#000" stroke-width="1" />
<line x1="348.3" y1="344.5" x2="841.3" y2="344.5" stroke="#000" stroke-width="1" />
<line x1="348.3" y1="369.5" x2="841.3" y2="369.5" stroke="#000" stroke-width="1" />
<line x1="348.3" y1="318.5" x2="841.3" y2="318.5" stroke="#000" stroke-width="1" />
</g>
<rect x="348.5" y="318.1" width="493" height="77" fill="none" stroke="#000" stroke-width="1.3"/>
<g stroke="#000" stroke-width="1" stroke-dasharray="2 2" shape-rendering="crispEdges">
<line x1="361.5" y1="402" x2="361.5" y2="431" stroke="#000" stroke-width="1" />
<line x1="380.5" y1="402" x2="380.5" y2="431" stroke="#000" stroke-width="1" />
<line x1="399.5" y1="402" x2="399.5" y2="431" stroke="#000" stroke-width="1" />
<line x1="418.5" y1="402" x2="418.5" y2="431" stroke="#000" stroke-width="1" />
<line x1="437.5" y1="402" x2="437.5" y2="431" stroke="#000" stroke-width="1" />
<line x1="457.5" y1="402" x2="457.5" y2="431" stroke="#000" stroke-width="1" />
<line x1="476.5" y1="402" x2="476.5" y2="431" stroke="#000" stroke-width="1" />
<line x1="495.5" y1="402" x2="495.5" y2="431" stroke="#000" stroke-width="1" />
<line x1="514.5" y1="402" x2="514.5" y2="431" stroke="#000" stroke-width="1" />
<line x1="533.5" y1="402" x2="533.5" y2="431" stroke="#000" stroke-width="1" />
<line x1="553.5" y1="402" x2="553.5" y2="431" stroke="#000" stroke-width="1" />
<line x1="572.5" y1="402" x2="572.5" y2="431" stroke="#000" stroke-width="1" />
<line x1="591.5" y1="402" x2="591.5" y2="431" stroke="#000" stroke-width="1" />
<line x1="610.5" y1="402" x2="610.5" y2="431" stroke="#000" stroke-width="1" />
<line x1="629.5" y1="402" x2="629.5" y2="431" stroke="#000" stroke-width="1" />
<line x1="649.5" y1="402" x2="649.5" y2="431" stroke="#000" stroke-width="1" />
<line x1="668.5" y1="402" x2="668.5" y2="431" stroke="#000" stroke-width="1" />
<line x1="687.5" y1="402" x2="687.5" y2="431" stroke="#000" stroke-width="1" />
<line x1="706.5" y1="402" x2="706.5" y2="431" stroke="#000" stroke-width="1" />
<line x1="725.5" y1="402" x2="725.5" y2="431" stroke="#000" stroke-width="1" />
<line x1="745.5" y1="402" x2="745.5" y2="431" stroke="#000" stroke-width="1" />
<line x1="764.5" y1="402" x2="764.5" y2="431" stroke="#000" stroke-width="1" />
<line x1="783.5" y1="402" x2="783.5" y2="431" stroke="#000" stroke-width="1" />
<line x1="802.5" y1="402" x2="802.5" y2="431" stroke="#000" stroke-width="1" />
<line x1="821.5" y1="402" x2="821.5" y2="431" stroke="#000" stroke-width="1" />
<line x1="841.5" y1="402" x2="841.5" y2="431" stroke="#000" stroke-width="1" />
</g>
<clipPath id="cD"><rect x="346.3" y="402" width="496.99999999999994" height="29"/></clipPath>
<g clip-path="url(#cD)">
<g transform="translate(348.3 416.5) rotate(20)"><line x1="0" y1="6.8" x2="0" y2="-4.8" stroke="#0000a0" stroke-width="1.2"/><polygon points="0,-6.8 -2.2,-2.2 2.2,-2.2" fill="#0000a0"/></g>
<g transform="translate(354.7 416.5) rotate(25)"><line x1="0" y1="6.8" x2="0" y2="-4.8" stroke="#0000a0" stroke-width="1.2"/><polygon points="0,-6.8 -2.2,-2.2 2.2,-2.2" fill="#0000a0"/></g>
<g transform="translate(361.1 416.5) rotate(25)"><line x1="0" y1="6.8" x2="0" y2="-4.8" stroke="#0000a0" stroke-width="1.2"/><polygon points="0,-6.8 -2.2,-2.2 2.2,-2.2" fill="#0000a0"/></g>
<g transform="translate(367.5 416.5) rotate(8)"><line x1="0" y1="6.8" x2="0" y2="-4.8" stroke="#0000a0" stroke-width="1.2"/><polygon points="0,-6.8 -2.2,-2.2 2.2,-2.2" fill="#0000a0"/></g>
<g transform="translate(373.9 416.5) rotate(25)"><line x1="0" y1="6.8" x2="0" y2="-4.8" stroke="#0000a0" stroke-width="1.2"/><polygon points="0,-6.8 -2.2,-2.2 2.2,-2.2" fill="#0000a0"/></g>
<g transform="translate(380.3 416.5) rotate(25)"><line x1="0" y1="6.8" x2="0" y2="-4.8" stroke="#0000a0" stroke-width="1.2"/><polygon points="0,-6.8 -2.2,-2.2 2.2,-2.2" fill="#0000a0"/></g>
<g transform="translate(386.7 416.5) rotate(22)"><line x1="0" y1="6.8" x2="0" y2="-4.8" stroke="#0000a0" stroke-width="1.2"/><polygon points="0,-6.8 -2.2,-2.2 2.2,-2.2" fill="#0000a0"/></g>
<g transform="translate(393.1 416.5) rotate(18)"><line x1="0" y1="6.8" x2="0" y2="-4.8" stroke="#0000a0" stroke-width="1.2"/><polygon points="0,-6.8 -2.2,-2.2 2.2,-2.2" fill="#0000a0"/></g>
<g transform="translate(399.5 416.5) rotate(12)"><line x1="0" y1="6.8" x2="0" y2="-4.8" stroke="#0000a0" stroke-width="1.2"/><polygon points="0,-6.8 -2.2,-2.2 2.2,-2.2" fill="#0000a0"/></g>
<g transform="translate(405.9 416.5) rotate(12)"><line x1="0" y1="6.8" x2="0" y2="-4.8" stroke="#0000a0" stroke-width="1.2"/><polygon points="0,-6.8 -2.2,-2.2 2.2,-2.2" fill="#0000a0"/></g>
<g transform="translate(412.3 416.5) rotate(12)"><line x1="0" y1="6.8" x2="0" y2="-4.8" stroke="#0000a0" stroke-width="1.2"/><polygon points="0,-6.8 -2.2,-2.2 2.2,-2.2" fill="#0000a0"/></g>
<g transform="translate(418.7 416.5) rotate(10)"><line x1="0" y1="6.8" x2="0" y2="-4.8" stroke="#0000a0" stroke-width="1.2"/><polygon points="0,-6.8 -2.2,-2.2 2.2,-2.2" fill="#0000a0"/></g>
<g transform="translate(425.1 416.5) rotate(10)"><line x1="0" y1="6.8" x2="0" y2="-4.8" stroke="#0000a0" stroke-width="1.2"/><polygon points="0,-6.8 -2.2,-2.2 2.2,-2.2" fill="#0000a0"/></g>
<g transform="translate(431.5 416.5) rotate(10)"><line x1="0" y1="6.8" x2="0" y2="-4.8" stroke="#0000a0" stroke-width="1.2"/><polygon points="0,-6.8 -2.2,-2.2 2.2,-2.2" fill="#0000a0"/></g>
<g transform="translate(437.9 416.5) rotate(8)"><line x1="0" y1="6.8" x2="0" y2="-4.8" stroke="#0000a0" stroke-width="1.2"/><polygon points="0,-6.8 -2.2,-2.2 2.2,-2.2" fill="#0000a0"/></g>
<g transform="translate(444.3 416.5) rotate(10)"><line x1="0" y1="6.8" x2="0" y2="-4.8" stroke="#0000a0" stroke-width="1.2"/><polygon points="0,-6.8 -2.2,-2.2 2.2,-2.2" fill="#0000a0"/></g>
<g transform="translate(450.7 416.5) rotate(10)"><line x1="0" y1="6.8" x2="0" y2="-4.8" stroke="#0000a0" stroke-width="1.2"/><polygon points="0,-6.8 -2.2,-2.2 2.2,-2.2" fill="#0000a0"/></g>
<g transform="translate(457.1 416.5) rotate(8)"><line x1="0" y1="6.8" x2="0" y2="-4.8" stroke="#0000a0" stroke-width="1.2"/><polygon points="0,-6.8 -2.2,-2.2 2.2,-2.2" fill="#0000a0"/></g>
<g transform="translate(463.5 416.5) rotate(8)"><line x1="0" y1="6.8" x2="0" y2="-4.8" stroke="#0000a0" stroke-width="1.2"/><polygon points="0,-6.8 -2.2,-2.2 2.2,-2.2" fill="#0000a0"/></g>
<g transform="translate(469.9 416.5) rotate(5)"><line x1="0" y1="6.8" x2="0" y2="-4.8" stroke="#0000a0" stroke-width="1.2"/><polygon points="0,-6.8 -2.2,-2.2 2.2,-2.2" fill="#0000a0"/></g>
<g transform="translate(476.3 416.5) rotate(0)"><line x1="0" y1="6.8" x2="0" y2="-4.8" stroke="#0000a0" stroke-width="1.2"/><polygon points="0,-6.8 -2.2,-2.2 2.2,-2.2" fill="#0000a0"/></g>
<g transform="translate(482.7 416.5) rotate(0)"><line x1="0" y1="6.8" x2="0" y2="-4.8" stroke="#0000a0" stroke-width="1.2"/><polygon points="0,-6.8 -2.2,-2.2 2.2,-2.2" fill="#0000a0"/></g>
<g transform="translate(489.1 416.5) rotate(0)"><line x1="0" y1="6.8" x2="0" y2="-4.8" stroke="#0000a0" stroke-width="1.2"/><polygon points="0,-6.8 -2.2,-2.2 2.2,-2.2" fill="#0000a0"/></g>
<g transform="translate(495.5 416.5) rotate(-5)"><line x1="0" y1="6.8" x2="0" y2="-4.8" stroke="#0000a0" stroke-width="1.2"/><polygon points="0,-6.8 -2.2,-2.2 2.2,-2.2" fill="#0000a0"/></g>
<g transform="translate(501.9 416.5) rotate(-15)"><line x1="0" y1="6.8" x2="0" y2="-4.8" stroke="#0000a0" stroke-width="1.2"/><polygon points="0,-6.8 -2.2,-2.2 2.2,-2.2" fill="#0000a0"/></g>
<g transform="translate(508.3 416.5) rotate(-15)"><line x1="0" y1="6.8" x2="0" y2="-4.8" stroke="#0000a0" stroke-width="1.2"/><polygon points="0,-6.8 -2.2,-2.2 2.2,-2.2" fill="#0000a0"/></g>
<g transform="translate(514.7 416.5) rotate(-12)"><line x1="0" y1="6.8" x2="0" y2="-4.8" stroke="#0000a0" stroke-width="1.2"/><polygon points="0,-6.8 -2.2,-2.2 2.2,-2.2" fill="#0000a0"/></g>
<g transform="translate(521.1 416.5) rotate(-18)"><line x1="0" y1="6.8" x2="0" y2="-4.8" stroke="#0000a0" stroke-width="1.2"/><polygon points="0,-6.8 -2.2,-2.2 2.2,-2.2" fill="#0000a0"/></g>
<g transform="translate(527.5 416.5) rotate(-20)"><line x1="0" y1="6.8" x2="0" y2="-4.8" stroke="#0000a0" stroke-width="1.2"/><polygon points="0,-6.8 -2.2,-2.2 2.2,-2.2" fill="#0000a0"/></g>
<g transform="translate(533.9 416.5) rotate(-25)"><line x1="0" y1="6.8" x2="0" y2="-4.8" stroke="#0000a0" stroke-width="1.2"/><polygon points="0,-6.8 -2.2,-2.2 2.2,-2.2" fill="#0000a0"/></g>
<g transform="translate(540.3 416.5) rotate(-25)"><line x1="0" y1="6.8" x2="0" y2="-4.8" stroke="#0000a0" stroke-width="1.2"/><polygon points="0,-6.8 -2.2,-2.2 2.2,-2.2" fill="#0000a0"/></g>
<g transform="translate(546.7 416.5) rotate(-22)"><line x1="0" y1="6.8" x2="0" y2="-4.8" stroke="#0000a0" stroke-width="1.2"/><polygon points="0,-6.8 -2.2,-2.2 2.2,-2.2" fill="#0000a0"/></g>
<g transform="translate(553.1 416.5) rotate(-18)"><line x1="0" y1="6.8" x2="0" y2="-4.8" stroke="#0000a0" stroke-width="1.2"/><polygon points="0,-6.8 -2.2,-2.2 2.2,-2.2" fill="#0000a0"/></g>
<g transform="translate(559.5 416.5) rotate(-15)"><line x1="0" y1="6.8" x2="0" y2="-4.8" stroke="#0000a0" stroke-width="1.2"/><polygon points="0,-6.8 -2.2,-2.2 2.2,-2.2" fill="#0000a0"/></g>
<g transform="translate(565.9 416.5) rotate(-12)"><line x1="0" y1="6.8" x2="0" y2="-4.8" stroke="#0000a0" stroke-width="1.2"/><polygon points="0,-6.8 -2.2,-2.2 2.2,-2.2" fill="#0000a0"/></g>
<g transform="translate(572.3 416.5) rotate(-10)"><line x1="0" y1="6.8" x2="0" y2="-4.8" stroke="#0000a0" stroke-width="1.2"/><polygon points="0,-6.8 -2.2,-2.2 2.2,-2.2" fill="#0000a0"/></g>
<g transform="translate(578.7 416.5) rotate(-8)"><line x1="0" y1="6.8" x2="0" y2="-4.8" stroke="#0000a0" stroke-width="1.2"/><polygon points="0,-6.8 -2.2,-2.2 2.2,-2.2" fill="#0000a0"/></g>
<g transform="translate(585.1 416.5) rotate(-3)"><line x1="0" y1="6.8" x2="0" y2="-4.8" stroke="#0000a0" stroke-width="1.2"/><polygon points="0,-6.8 -2.2,-2.2 2.2,-2.2" fill="#0000a0"/></g>
<g transform="translate(591.5 416.5) rotate(0)"><line x1="0" y1="6.8" x2="0" y2="-4.8" stroke="#0000a0" stroke-width="1.2"/><polygon points="0,-6.8 -2.2,-2.2 2.2,-2.2" fill="#0000a0"/></g>
<g transform="translate(597.9 416.5) rotate(25)"><line x1="0" y1="6.8" x2="0" y2="-4.8" stroke="#0000a0" stroke-width="1.2"/><polygon points="0,-6.8 -2.2,-2.2 2.2,-2.2" fill="#0000a0"/></g>
<g transform="translate(604.3 416.5) rotate(65)"><line x1="0" y1="6.8" x2="0" y2="-4.8" stroke="#0000a0" stroke-width="1.2"/><polygon points="0,-6.8 -2.2,-2.2 2.2,-2.2" fill="#0000a0"/></g>
<g transform="translate(610.7 416.5) rotate(80)"><line x1="0" y1="6.8" x2="0" y2="-4.8" stroke="#0000a0" stroke-width="1.2"/><polygon points="0,-6.8 -2.2,-2.2 2.2,-2.2" fill="#0000a0"/></g>
<g transform="translate(617.1 416.5) rotate(95)"><line x1="0" y1="6.8" x2="0" y2="-4.8" stroke="#0000a0" stroke-width="1.2"/><polygon points="0,-6.8 -2.2,-2.2 2.2,-2.2" fill="#0000a0"/></g>
<g transform="translate(623.5 416.5) rotate(95)"><line x1="0" y1="6.8" x2="0" y2="-4.8" stroke="#0000a0" stroke-width="1.2"/><polygon points="0,-6.8 -2.2,-2.2 2.2,-2.2" fill="#0000a0"/></g>
<g transform="translate(629.9 416.5) rotate(95)"><line x1="0" y1="6.8" x2="0" y2="-4.8" stroke="#0000a0" stroke-width="1.2"/><polygon points="0,-6.8 -2.2,-2.2 2.2,-2.2" fill="#0000a0"/></g>
<g transform="translate(636.3 416.5) rotate(100)"><line x1="0" y1="6.8" x2="0" y2="-4.8" stroke="#0000a0" stroke-width="1.2"/><polygon points="0,-6.8 -2.2,-2.2 2.2,-2.2" fill="#0000a0"/></g>
<g transform="translate(642.7 416.5) rotate(100)"><line x1="0" y1="6.8" x2="0" y2="-4.8" stroke="#0000a0" stroke-width="1.2"/><polygon points="0,-6.8 -2.2,-2.2 2.2,-2.2" fill="#0000a0"/></g>
<g transform="translate(649.1 416.5) rotate(105)"><line x1="0" y1="6.8" x2="0" y2="-4.8" stroke="#0000a0" stroke-width="1.2"/><polygon points="0,-6.8 -2.2,-2.2 2.2,-2.2" fill="#0000a0"/></g>
<g transform="translate(655.5 416.5) rotate(105)"><line x1="0" y1="6.8" x2="0" y2="-4.8" stroke="#0000a0" stroke-width="1.2"/><polygon points="0,-6.8 -2.2,-2.2 2.2,-2.2" fill="#0000a0"/></g>
<g transform="translate(661.9 416.5) rotate(100)"><line x1="0" y1="6.8" x2="0" y2="-4.8" stroke="#0000a0" stroke-width="1.2"/><polygon points="0,-6.8 -2.2,-2.2 2.2,-2.2" fill="#0000a0"/></g>
<g transform="translate(668.3 416.5) rotate(95)"><line x1="0" y1="6.8" x2="0" y2="-4.8" stroke="#0000a0" stroke-width="1.2"/><polygon points="0,-6.8 -2.2,-2.2 2.2,-2.2" fill="#0000a0"/></g>
<g transform="translate(674.7 416.5) rotate(75)"><line x1="0" y1="6.8" x2="0" y2="-4.8" stroke="#0000a0" stroke-width="1.2"/><polygon points="0,-6.8 -2.2,-2.2 2.2,-2.2" fill="#0000a0"/></g>
<g transform="translate(681.1 416.5) rotate(70)"><line x1="0" y1="6.8" x2="0" y2="-4.8" stroke="#0000a0" stroke-width="1.2"/><polygon points="0,-6.8 -2.2,-2.2 2.2,-2.2" fill="#0000a0"/></g>
<g transform="translate(687.5 416.5) rotate(50)"><line x1="0" y1="6.8" x2="0" y2="-4.8" stroke="#0000a0" stroke-width="1.2"/><polygon points="0,-6.8 -2.2,-2.2 2.2,-2.2" fill="#0000a0"/></g>
<g transform="translate(693.9 416.5) rotate(15)"><line x1="0" y1="6.8" x2="0" y2="-4.8" stroke="#0000a0" stroke-width="1.2"/><polygon points="0,-6.8 -2.2,-2.2 2.2,-2.2" fill="#0000a0"/></g>
<g transform="translate(700.3 416.5) rotate(15)"><line x1="0" y1="6.8" x2="0" y2="-4.8" stroke="#0000a0" stroke-width="1.2"/><polygon points="0,-6.8 -2.2,-2.2 2.2,-2.2" fill="#0000a0"/></g>
<g transform="translate(706.7 416.5) rotate(20)"><line x1="0" y1="6.8" x2="0" y2="-4.8" stroke="#0000a0" stroke-width="1.2"/><polygon points="0,-6.8 -2.2,-2.2 2.2,-2.2" fill="#0000a0"/></g>
<g transform="translate(713.1 416.5) rotate(35)"><line x1="0" y1="6.8" x2="0" y2="-4.8" stroke="#0000a0" stroke-width="1.2"/><polygon points="0,-6.8 -2.2,-2.2 2.2,-2.2" fill="#0000a0"/></g>
<g transform="translate(719.5 416.5) rotate(35)"><line x1="0" y1="6.8" x2="0" y2="-4.8" stroke="#0000a0" stroke-width="1.2"/><polygon points="0,-6.8 -2.2,-2.2 2.2,-2.2" fill="#0000a0"/></g>
<g transform="translate(725.9 416.5) rotate(35)"><line x1="0" y1="6.8" x2="0" y2="-4.8" stroke="#0000a0" stroke-width="1.2"/><polygon points="0,-6.8 -2.2,-2.2 2.2,-2.2" fill="#0000a0"/></g>
<g transform="translate(732.3 416.5) rotate(35)"><line x1="0" y1="6.8" x2="0" y2="-4.8" stroke="#0000a0" stroke-width="1.2"/><polygon points="0,-6.8 -2.2,-2.2 2.2,-2.2" fill="#0000a0"/></g>
<g transform="translate(738.7 416.5) rotate(25)"><line x1="0" y1="6.8" x2="0" y2="-4.8" stroke="#0000a0" stroke-width="1.2"/><polygon points="0,-6.8 -2.2,-2.2 2.2,-2.2" fill="#0000a0"/></g>
<g transform="translate(745.1 416.5) rotate(15)"><line x1="0" y1="6.8" x2="0" y2="-4.8" stroke="#0000a0" stroke-width="1.2"/><polygon points="0,-6.8 -2.2,-2.2 2.2,-2.2" fill="#0000a0"/></g>
<g transform="translate(751.5 416.5) rotate(45)"><line x1="0" y1="6.8" x2="0" y2="-4.8" stroke="#0000a0" stroke-width="1.2"/><polygon points="0,-6.8 -2.2,-2.2 2.2,-2.2" fill="#0000a0"/></g>
<g transform="translate(757.9 416.5) rotate(40)"><line x1="0" y1="6.8" x2="0" y2="-4.8" stroke="#0000a0" stroke-width="1.2"/><polygon points="0,-6.8 -2.2,-2.2 2.2,-2.2" fill="#0000a0"/></g>
<g transform="translate(764.3 416.5) rotate(5)"><line x1="0" y1="6.8" x2="0" y2="-4.8" stroke="#0000a0" stroke-width="1.2"/><polygon points="0,-6.8 -2.2,-2.2 2.2,-2.2" fill="#0000a0"/></g>
<g transform="translate(770.7 416.5) rotate(0)"><line x1="0" y1="6.8" x2="0" y2="-4.8" stroke="#0000a0" stroke-width="1.2"/><polygon points="0,-6.8 -2.2,-2.2 2.2,-2.2" fill="#0000a0"/></g>
<g transform="translate(777.1 416.5) rotate(0)"><line x1="0" y1="6.8" x2="0" y2="-4.8" stroke="#0000a0" stroke-width="1.2"/><polygon points="0,-6.8 -2.2,-2.2 2.2,-2.2" fill="#0000a0"/></g>
<g transform="translate(783.5 416.5) rotate(10)"><line x1="0" y1="6.8" x2="0" y2="-4.8" stroke="#0000a0" stroke-width="1.2"/><polygon points="0,-6.8 -2.2,-2.2 2.2,-2.2" fill="#0000a0"/></g>
<g transform="translate(789.9 416.5) rotate(8)"><line x1="0" y1="6.8" x2="0" y2="-4.8" stroke="#0000a0" stroke-width="1.2"/><polygon points="0,-6.8 -2.2,-2.2 2.2,-2.2" fill="#0000a0"/></g>
<g transform="translate(796.3 416.5) rotate(3)"><line x1="0" y1="6.8" x2="0" y2="-4.8" stroke="#0000a0" stroke-width="1.2"/><polygon points="0,-6.8 -2.2,-2.2 2.2,-2.2" fill="#0000a0"/></g>
<g transform="translate(802.7 416.5) rotate(0)"><line x1="0" y1="6.8" x2="0" y2="-4.8" stroke="#0000a0" stroke-width="1.2"/><polygon points="0,-6.8 -2.2,-2.2 2.2,-2.2" fill="#0000a0"/></g>
<g transform="translate(809.1 416.5) rotate(-3)"><line x1="0" y1="6.8" x2="0" y2="-4.8" stroke="#0000a0" stroke-width="1.2"/><polygon points="0,-6.8 -2.2,-2.2 2.2,-2.2" fill="#0000a0"/></g>
<g transform="translate(815.5 416.5) rotate(0)"><line x1="0" y1="6.8" x2="0" y2="-4.8" stroke="#0000a0" stroke-width="1.2"/><polygon points="0,-6.8 -2.2,-2.2 2.2,-2.2" fill="#0000a0"/></g>
<g transform="translate(821.9 416.5) rotate(-3)"><line x1="0" y1="6.8" x2="0" y2="-4.8" stroke="#0000a0" stroke-width="1.2"/><polygon points="0,-6.8 -2.2,-2.2 2.2,-2.2" fill="#0000a0"/></g>
<g transform="translate(828.3 416.5) rotate(-5)"><line x1="0" y1="6.8" x2="0" y2="-4.8" stroke="#0000a0" stroke-width="1.2"/><polygon points="0,-6.8 -2.2,-2.2 2.2,-2.2" fill="#0000a0"/></g>
<g transform="translate(834.7 416.5) rotate(-5)"><line x1="0" y1="6.8" x2="0" y2="-4.8" stroke="#0000a0" stroke-width="1.2"/><polygon points="0,-6.8 -2.2,-2.2 2.2,-2.2" fill="#0000a0"/></g>
<g transform="translate(841.1 416.5) rotate(0)"><line x1="0" y1="6.8" x2="0" y2="-4.8" stroke="#0000a0" stroke-width="1.2"/><polygon points="0,-6.8 -2.2,-2.2 2.2,-2.2" fill="#0000a0"/></g>
</g>
<rect x="348.5" y="402.1" width="493" height="29" fill="none" stroke="#000" stroke-width="1.3"/>
<g>
<rect x="348.3" y="438" width="493" height="78.2" fill="#87d3fd" />
<rect x="348.3" y="438" width="37.6" height="78.2" fill="#7cc0ee" />
<rect x="432.7" y="438" width="106.8" height="78.2" fill="#7cc0ee" />
<rect x="586.3" y="438" width="106.8" height="78.2" fill="#7cc0ee" />
<rect x="739.9" y="438" width="101.4" height="78.2" fill="#7cc0ee" />
</g>
<clipPath id="cB"><rect x="348.3" y="438" width="492.99999999999994" height="78.20000000000005"/></clipPath>
<g stroke="#000" stroke-width="1" stroke-dasharray="2 2" shape-rendering="crispEdges">
<line x1="361.5" y1="438" x2="361.5" y2="516.2" stroke="#000" stroke-width="1" />
<line x1="380.5" y1="438" x2="380.5" y2="516.2" stroke="#000" stroke-width="1" />
<line x1="399.5" y1="438" x2="399.5" y2="516.2" stroke="#000" stroke-width="1" />
<line x1="418.5" y1="438" x2="418.5" y2="516.2" stroke="#000" stroke-width="1" />
<line x1="437.5" y1="438" x2="437.5" y2="516.2" stroke="#000" stroke-width="1" />
<line x1="457.5" y1="438" x2="457.5" y2="516.2" stroke="#000" stroke-width="1" />
<line x1="476.5" y1="438" x2="476.5" y2="516.2" stroke="#000" stroke-width="1" />
<line x1="495.5" y1="438" x2="495.5" y2="516.2" stroke="#000" stroke-width="1" />
<line x1="514.5" y1="438" x2="514.5" y2="516.2" stroke="#000" stroke-width="1" />
<line x1="533.5" y1="438" x2="533.5" y2="516.2" stroke="#000" stroke-width="1" />
<line x1="553.5" y1="438" x2="553.5" y2="516.2" stroke="#000" stroke-width="1" />
<line x1="572.5" y1="438" x2="572.5" y2="516.2" stroke="#000" stroke-width="1" />
<line x1="591.5" y1="438" x2="591.5" y2="516.2" stroke="#000" stroke-width="1" />
<line x1="610.5" y1="438" x2="610.5" y2="516.2" stroke="#000" stroke-width="1" />
<line x1="629.5" y1="438" x2="629.5" y2="516.2" stroke="#000" stroke-width="1" />
<line x1="649.5" y1="438" x2="649.5" y2="516.2" stroke="#000" stroke-width="1" />
<line x1="668.5" y1="438" x2="668.5" y2="516.2" stroke="#000" stroke-width="1" />
<line x1="687.5" y1="438" x2="687.5" y2="516.2" stroke="#000" stroke-width="1" />
<line x1="706.5" y1="438" x2="706.5" y2="516.2" stroke="#000" stroke-width="1" />
<line x1="725.5" y1="438" x2="725.5" y2="516.2" stroke="#000" stroke-width="1" />
<line x1="745.5" y1="438" x2="745.5" y2="516.2" stroke="#000" stroke-width="1" />
<line x1="764.5" y1="438" x2="764.5" y2="516.2" stroke="#000" stroke-width="1" />
<line x1="783.5" y1="438" x2="783.5" y2="516.2" stroke="#000" stroke-width="1" />
<line x1="802.5" y1="438" x2="802.5" y2="516.2" stroke="#000" stroke-width="1" />
<line x1="821.5" y1="438" x2="821.5" y2="516.2" stroke="#000" stroke-width="1" />
<line x1="841.5" y1="438" x2="841.5" y2="516.2" stroke="#000" stroke-width="1" />
<line x1="348.3" y1="457.5" x2="841.3" y2="457.5" stroke="#000" stroke-width="1" />
<line x1="348.3" y1="476.5" x2="841.3" y2="476.5" stroke="#000" stroke-width="1" />
<line x1="348.3" y1="496.5" x2="841.3" y2="496.5" stroke="#000" stroke-width="1" />
<line x1="348.3" y1="438.5" x2="841.3" y2="438.5" stroke="#000" stroke-width="1" />
</g>
<g clip-path="url(#cB)">
<circle cx="348.3" cy="513.7" r="2.6" fill="#e8e8e8" />
<circle cx="348.3" cy="512.5" r="2.6" fill="#9a9a9a" />
<circle cx="348.3" cy="511.3" r="2.6" fill="#4a4a4a" />
<circle cx="348.3" cy="510.1" r="2.6" fill="#000" />
<circle cx="354.7" cy="513.1" r="2.6" fill="#e8e8e8" />
<circle cx="354.7" cy="511.9" r="2.6" fill="#9a9a9a" />
<circle cx="354.7" cy="510.7" r="2.6" fill="#4a4a4a" />
<circle cx="354.7" cy="509.5" r="2.6" fill="#000" />
<circle cx="361.1" cy="513.7" r="2.6" fill="#e8e8e8" />
<circle cx="361.1" cy="512.5" r="2.6" fill="#9a9a9a" />
<circle cx="361.1" cy="511.3" r="2.6" fill="#4a4a4a" />
<circle cx="361.1" cy="510.1" r="2.6" fill="#000" />
<circle cx="367.5" cy="513.7" r="2.6" fill="#e8e8e8" />
<circle cx="367.5" cy="512.5" r="2.6" fill="#9a9a9a" />
<circle cx="367.5" cy="511.3" r="2.6" fill="#4a4a4a" />
<circle cx="367.5" cy="510.1" r="2.6" fill="#000" />
<circle cx="373.9" cy="513.7" r="2.6" fill="#e8e8e8" />
<circle cx="373.9" cy="512.5" r="2.6" fill="#9a9a9a" />
<circle cx="373.9" cy="511.3" r="2.6" fill="#4a4a4a" />
<circle cx="373.9" cy="510.1" r="2.6" fill="#000" />
<circle cx="380.3" cy="514.1" r="2.6" fill="#e8e8e8" />
<circle cx="380.3" cy="512.9" r="2.6" fill="#9a9a9a" />
<circle cx="380.3" cy="511.7" r="2.6" fill="#4a4a4a" />
<circle cx="380.3" cy="510.5" r="2.6" fill="#000" />
<circle cx="386.7" cy="514.1" r="2.6" fill="#e8e8e8" />
<circle cx="386.7" cy="512.9" r="2.6" fill="#9a9a9a" />
<circle cx="386.7" cy="511.7" r="2.6" fill="#4a4a4a" />
<circle cx="386.7" cy="510.5" r="2.6" fill="#000" />
<circle cx="393.1" cy="514.1" r="2.6" fill="#e8e8e8" />
<circle cx="393.1" cy="512.9" r="2.6" fill="#9a9a9a" />
<circle cx="393.1" cy="511.7" r="2.6" fill="#4a4a4a" />
<circle cx="393.1" cy="510.5" r="2.6" fill="#000" />
<circle cx="399.5" cy="513.7" r="2.6" fill="#e8e8e8" />
<circle cx="399.5" cy="512.5" r="2.6" fill="#9a9a9a" />
<circle cx="399.5" cy="511.3" r="2.6" fill="#4a4a4a" />
<circle cx="399.5" cy="510.1" r="2.6" fill="#000" />
<circle cx="405.9" cy="512.2" r="2.6" fill="#e8e8e8" />
<circle cx="405.9" cy="511" r="2.6" fill="#9a9a9a" />
<circle cx="405.9" cy="509.8" r="2.6" fill="#4a4a4a" />
<circle cx="405.9" cy="508.6" r="2.6" fill="#000" />
<circle cx="412.3" cy="510" r="2.6" fill="#e8e8e8" />
<circle cx="412.3" cy="508.8" r="2.6" fill="#9a9a9a" />
<circle cx="412.3" cy="507.6" r="2.6" fill="#4a4a4a" />
<circle cx="412.3" cy="506.4" r="2.6" fill="#000" />
<circle cx="418.7" cy="509.4" r="2.6" fill="#e8e8e8" />
<circle cx="418.7" cy="508.2" r="2.6" fill="#9a9a9a" />
<circle cx="418.7" cy="507" r="2.6" fill="#4a4a4a" />
<circle cx="418.7" cy="505.8" r="2.6" fill="#000" />
<circle cx="425.1" cy="508.1" r="2.6" fill="#e8e8e8" />
<circle cx="425.1" cy="506.9" r="2.6" fill="#9a9a9a" />
<circle cx="425.1" cy="505.7" r="2.6" fill="#4a4a4a" />
<circle cx="425.1" cy="504.5" r="2.6" fill="#000" />
<circle cx="431.5" cy="509.4" r="2.6" fill="#e8e8e8" />
<circle cx="431.5" cy="508.2" r="2.6" fill="#9a9a9a" />
<circle cx="431.5" cy="507" r="2.6" fill="#4a4a4a" />
<circle cx="431.5" cy="505.8" r="2.6" fill="#000" />
<circle cx="437.9" cy="511.3" r="2.6" fill="#e8e8e8" />
<circle cx="437.9" cy="510.1" r="2.6" fill="#9a9a9a" />
<circle cx="437.9" cy="508.9" r="2.6" fill="#4a4a4a" />
<circle cx="437.9" cy="507.7" r="2.6" fill="#000" />
<circle cx="444.3" cy="511.3" r="2.6" fill="#e8e8e8" />
<circle cx="444.3" cy="510.1" r="2.6" fill="#9a9a9a" />
<circle cx="444.3" cy="508.9" r="2.6" fill="#4a4a4a" />
<circle cx="444.3" cy="507.7" r="2.6" fill="#000" />
<circle cx="450.7" cy="511.6" r="2.6" fill="#e8e8e8" />
<circle cx="450.7" cy="510.4" r="2.6" fill="#9a9a9a" />
<circle cx="450.7" cy="509.2" r="2.6" fill="#4a4a4a" />
<circle cx="450.7" cy="508" r="2.6" fill="#000" />
<circle cx="457.1" cy="511.3" r="2.6" fill="#e8e8e8" />
<circle cx="457.1" cy="510.1" r="2.6" fill="#9a9a9a" />
<circle cx="457.1" cy="508.9" r="2.6" fill="#4a4a4a" />
<circle cx="457.1" cy="507.7" r="2.6" fill="#000" />
<circle cx="463.5" cy="512.2" r="2.6" fill="#e8e8e8" />
<circle cx="463.5" cy="511" r="2.6" fill="#9a9a9a" />
<circle cx="463.5" cy="509.8" r="2.6" fill="#4a4a4a" />
<circle cx="463.5" cy="508.6" r="2.6" fill="#000" />
<circle cx="469.9" cy="513.1" r="2.6" fill="#e8e8e8" />
<circle cx="469.9" cy="511.9" r="2.6" fill="#9a9a9a" />
<circle cx="469.9" cy="510.7" r="2.6" fill="#4a4a4a" />
<circle cx="469.9" cy="509.5" r="2.6" fill="#000" />
<circle cx="476.3" cy="514.1" r="2.6" fill="#e8e8e8" />
<circle cx="476.3" cy="512.9" r="2.6" fill="#9a9a9a" />
<circle cx="476.3" cy="511.7" r="2.6" fill="#4a4a4a" />
<circle cx="476.3" cy="510.5" r="2.6" fill="#000" />
<circle cx="482.7" cy="514.4" r="2.6" fill="#e8e8e8" />
<circle cx="482.7" cy="513.2" r="2.6" fill="#9a9a9a" />
<circle cx="482.7" cy="512" r="2.6" fill="#4a4a4a" />
<circle cx="482.7" cy="510.8" r="2.6" fill="#000" />
<circle cx="489.1" cy="514.4" r="2.6" fill="#e8e8e8" />
<circle cx="489.1" cy="513.2" r="2.6" fill="#9a9a9a" />
<circle cx="489.1" cy="512" r="2.6" fill="#4a4a4a" />
<circle cx="489.1" cy="510.8" r="2.6" fill="#000" />
<circle cx="495.5" cy="514.8" r="2.6" fill="#e8e8e8" />
<circle cx="495.5" cy="513.6" r="2.6" fill="#9a9a9a" />
<circle cx="495.5" cy="512.4" r="2.6" fill="#4a4a4a" />
<circle cx="495.5" cy="511.2" r="2.6" fill="#000" />
<circle cx="501.9" cy="514.8" r="2.6" fill="#e8e8e8" />
<circle cx="501.9" cy="513.6" r="2.6" fill="#9a9a9a" />
<circle cx="501.9" cy="512.4" r="2.6" fill="#4a4a4a" />
<circle cx="501.9" cy="511.2" r="2.6" fill="#000" />
<circle cx="508.3" cy="514.4" r="2.6" fill="#e8e8e8" />
<circle cx="508.3" cy="513.2" r="2.6" fill="#9a9a9a" />
<circle cx="508.3" cy="512" r="2.6" fill="#4a4a4a" />
<circle cx="508.3" cy="510.8" r="2.6" fill="#000" />
<circle cx="514.7" cy="514.4" r="2.6" fill="#e8e8e8" />
<circle cx="514.7" cy="513.2" r="2.6" fill="#9a9a9a" />
<circle cx="514.7" cy="512" r="2.6" fill="#4a4a4a" />
<circle cx="514.7" cy="510.8" r="2.6" fill="#000" />
<circle cx="521.1" cy="514.1" r="2.6" fill="#e8e8e8" />
<circle cx="521.1" cy="512.9" r="2.6" fill="#9a9a9a" />
<circle cx="521.1" cy="511.7" r="2.6" fill="#4a4a4a" />
<circle cx="521.1" cy="510.5" r="2.6" fill="#000" />
<circle cx="527.5" cy="514.1" r="2.6" fill="#e8e8e8" />
<circle cx="527.5" cy="512.9" r="2.6" fill="#9a9a9a" />
<circle cx="527.5" cy="511.7" r="2.6" fill="#4a4a4a" />
<circle cx="527.5" cy="510.5" r="2.6" fill="#000" />
<circle cx="533.9" cy="512.6" r="2.6" fill="#e8e8e8" />
<circle cx="533.9" cy="511.4" r="2.6" fill="#9a9a9a" />
<circle cx="533.9" cy="510.2" r="2.6" fill="#4a4a4a" />
<circle cx="533.9" cy="509" r="2.6" fill="#000" />
<circle cx="540.3" cy="511.8" r="2.6" fill="#e8e8e8" />
<circle cx="540.3" cy="510.6" r="2.6" fill="#9a9a9a" />
<circle cx="540.3" cy="509.4" r="2.6" fill="#4a4a4a" />
<circle cx="540.3" cy="508.2" r="2.6" fill="#000" />
<circle cx="546.7" cy="510.3" r="2.6" fill="#e8e8e8" />
<circle cx="546.7" cy="509.1" r="2.6" fill="#9a9a9a" />
<circle cx="546.7" cy="507.9" r="2.6" fill="#4a4a4a" />
<circle cx="546.7" cy="506.7" r="2.6" fill="#000" />
<circle cx="553.1" cy="509.4" r="2.6" fill="#e8e8e8" />
<circle cx="553.1" cy="508.2" r="2.6" fill="#9a9a9a" />
<circle cx="553.1" cy="507" r="2.6" fill="#4a4a4a" />
<circle cx="553.1" cy="505.8" r="2.6" fill="#000" />
<circle cx="559.5" cy="507.5" r="2.6" fill="#e8e8e8" />
<circle cx="559.5" cy="506.3" r="2.6" fill="#9a9a9a" />
<circle cx="559.5" cy="505.1" r="2.6" fill="#4a4a4a" />
<circle cx="559.5" cy="503.9" r="2.6" fill="#000" />
<circle cx="597.9" cy="501" r="2.6" fill="#e8e8e8" />
<circle cx="597.9" cy="499.8" r="2.6" fill="#9a9a9a" />
<circle cx="597.9" cy="498.6" r="2.6" fill="#4a4a4a" />
<circle cx="597.9" cy="497.4" r="2.6" fill="#000" />
<circle cx="604.3" cy="507.5" r="2.6" fill="#e8e8e8" />
<circle cx="604.3" cy="506.3" r="2.6" fill="#9a9a9a" />
<circle cx="604.3" cy="505.1" r="2.6" fill="#4a4a4a" />
<circle cx="604.3" cy="503.9" r="2.6" fill="#000" />
<circle cx="610.7" cy="509.4" r="2.6" fill="#e8e8e8" />
<circle cx="610.7" cy="508.2" r="2.6" fill="#9a9a9a" />
<circle cx="610.7" cy="507" r="2.6" fill="#4a4a4a" />
<circle cx="610.7" cy="505.8" r="2.6" fill="#000" />
<circle cx="617.1" cy="509.4" r="2.6" fill="#e8e8e8" />
<circle cx="617.1" cy="508.2" r="2.6" fill="#9a9a9a" />
<circle cx="617.1" cy="507" r="2.6" fill="#4a4a4a" />
<circle cx="617.1" cy="505.8" r="2.6" fill="#000" />
<circle cx="623.5" cy="509" r="2.6" fill="#e8e8e8" />
<circle cx="623.5" cy="507.8" r="2.6" fill="#9a9a9a" />
<circle cx="623.5" cy="506.6" r="2.6" fill="#4a4a4a" />
<circle cx="623.5" cy="505.4" r="2.6" fill="#000" />
<circle cx="629.9" cy="508.5" r="2.6" fill="#e8e8e8" />
<circle cx="629.9" cy="507.3" r="2.6" fill="#9a9a9a" />
<circle cx="629.9" cy="506.1" r="2.6" fill="#4a4a4a" />
<circle cx="629.9" cy="504.9" r="2.6" fill="#000" />
<circle cx="636.3" cy="508.5" r="2.6" fill="#e8e8e8" />
<circle cx="636.3" cy="507.3" r="2.6" fill="#9a9a9a" />
<circle cx="636.3" cy="506.1" r="2.6" fill="#4a4a4a" />
<circle cx="636.3" cy="504.9" r="2.6" fill="#000" />
<circle cx="642.7" cy="508.1" r="2.6" fill="#e8e8e8" />
<circle cx="642.7" cy="506.9" r="2.6" fill="#9a9a9a" />
<circle cx="642.7" cy="505.7" r="2.6" fill="#4a4a4a" />
<circle cx="642.7" cy="504.5" r="2.6" fill="#000" />
<circle cx="649.1" cy="510" r="2.6" fill="#e8e8e8" />
<circle cx="649.1" cy="508.8" r="2.6" fill="#9a9a9a" />
<circle cx="649.1" cy="507.6" r="2.6" fill="#4a4a4a" />
<circle cx="649.1" cy="506.4" r="2.6" fill="#000" />
<circle cx="655.5" cy="511.8" r="2.6" fill="#e8e8e8" />
<circle cx="655.5" cy="510.6" r="2.6" fill="#9a9a9a" />
<circle cx="655.5" cy="509.4" r="2.6" fill="#4a4a4a" />
<circle cx="655.5" cy="508.2" r="2.6" fill="#000" />
<circle cx="661.9" cy="510.3" r="2.6" fill="#e8e8e8" />
<circle cx="661.9" cy="509.1" r="2.6" fill="#9a9a9a" />
<circle cx="661.9" cy="507.9" r="2.6" fill="#4a4a4a" />
<circle cx="661.9" cy="506.7" r="2.6" fill="#000" />
<circle cx="668.3" cy="508.8" r="2.6" fill="#e8e8e8" />
<circle cx="668.3" cy="507.6" r="2.6" fill="#9a9a9a" />
<circle cx="668.3" cy="506.4" r="2.6" fill="#4a4a4a" />
<circle cx="668.3" cy="505.2" r="2.6" fill="#000" />
<circle cx="674.7" cy="509.4" r="2.6" fill="#e8e8e8" />
<circle cx="674.7" cy="508.2" r="2.6" fill="#9a9a9a" />
<circle cx="674.7" cy="507" r="2.6" fill="#4a4a4a" />
<circle cx="674.7" cy="505.8" r="2.6" fill="#000" />
<circle cx="681.1" cy="512.2" r="2.6" fill="#e8e8e8" />
<circle cx="681.1" cy="511" r="2.6" fill="#9a9a9a" />
<circle cx="681.1" cy="509.8" r="2.6" fill="#4a4a4a" />
<circle cx="681.1" cy="508.6" r="2.6" fill="#000" />
<circle cx="687.5" cy="512.2" r="2.6" fill="#e8e8e8" />
<circle cx="687.5" cy="511" r="2.6" fill="#9a9a9a" />
<circle cx="687.5" cy="509.8" r="2.6" fill="#4a4a4a" />
<circle cx="687.5" cy="508.6" r="2.6" fill="#000" />
<circle cx="693.9" cy="511.4" r="2.6" fill="#e8e8e8" />
<circle cx="693.9" cy="510.2" r="2.6" fill="#9a9a9a" />
<circle cx="693.9" cy="509" r="2.6" fill="#4a4a4a" />
<circle cx="693.9" cy="507.8" r="2.6" fill="#000" />
<circle cx="706.7" cy="507.5" r="2.6" fill="#e8e8e8" />
<circle cx="706.7" cy="506.3" r="2.6" fill="#9a9a9a" />
<circle cx="706.7" cy="505.1" r="2.6" fill="#4a4a4a" />
<circle cx="706.7" cy="503.9" r="2.6" fill="#000" />
<circle cx="713.1" cy="507.5" r="2.6" fill="#e8e8e8" />
<circle cx="713.1" cy="506.3" r="2.6" fill="#9a9a9a" />
<circle cx="713.1" cy="505.1" r="2.6" fill="#4a4a4a" />
<circle cx="713.1" cy="503.9" r="2.6" fill="#000" />
<circle cx="725.9" cy="509.4" r="2.6" fill="#e8e8e8" />
<circle cx="725.9" cy="508.2" r="2.6" fill="#9a9a9a" />
<circle cx="725.9" cy="507" r="2.6" fill="#4a4a4a" />
<circle cx="725.9" cy="505.8" r="2.6" fill="#000" />
<circle cx="732.3" cy="512.2" r="2.6" fill="#e8e8e8" />
<circle cx="732.3" cy="511" r="2.6" fill="#9a9a9a" />
<circle cx="732.3" cy="509.8" r="2.6" fill="#4a4a4a" />
<circle cx="732.3" cy="508.6" r="2.6" fill="#000" />
<circle cx="738.7" cy="512.2" r="2.6" fill="#e8e8e8" />
<circle cx="738.7" cy="511" r="2.6" fill="#9a9a9a" />
<circle cx="738.7" cy="509.8" r="2.6" fill="#4a4a4a" />
<circle cx="738.7" cy="508.6" r="2.6" fill="#000" />
<circle cx="751.5" cy="513.1" r="2.6" fill="#e8e8e8" />
<circle cx="751.5" cy="511.9" r="2.6" fill="#9a9a9a" />
<circle cx="751.5" cy="510.7" r="2.6" fill="#4a4a4a" />
<circle cx="751.5" cy="509.5" r="2.6" fill="#000" />
<circle cx="757.9" cy="513.7" r="2.6" fill="#e8e8e8" />
<circle cx="757.9" cy="512.5" r="2.6" fill="#9a9a9a" />
<circle cx="757.9" cy="511.3" r="2.6" fill="#4a4a4a" />
<circle cx="757.9" cy="510.1" r="2.6" fill="#000" />
<circle cx="764.3" cy="513.7" r="2.6" fill="#e8e8e8" />
<circle cx="764.3" cy="512.5" r="2.6" fill="#9a9a9a" />
<circle cx="764.3" cy="511.3" r="2.6" fill="#4a4a4a" />
<circle cx="764.3" cy="510.1" r="2.6" fill="#000" />
<circle cx="770.7" cy="514.1" r="2.6" fill="#e8e8e8" />
<circle cx="770.7" cy="512.9" r="2.6" fill="#9a9a9a" />
<circle cx="770.7" cy="511.7" r="2.6" fill="#4a4a4a" />
<circle cx="770.7" cy="510.5" r="2.6" fill="#000" />
<circle cx="783.5" cy="510.3" r="2.6" fill="#e8e8e8" />
<circle cx="783.5" cy="509.1" r="2.6" fill="#9a9a9a" />
<circle cx="783.5" cy="507.9" r="2.6" fill="#4a4a4a" />
<circle cx="783.5" cy="506.7" r="2.6" fill="#000" />
<circle cx="796.3" cy="513.7" r="2.6" fill="#e8e8e8" />
<circle cx="796.3" cy="512.5" r="2.6" fill="#9a9a9a" />
<circle cx="796.3" cy="511.3" r="2.6" fill="#4a4a4a" />
<circle cx="796.3" cy="510.1" r="2.6" fill="#000" />
<circle cx="802.7" cy="512.6" r="2.6" fill="#e8e8e8" />
<circle cx="802.7" cy="511.4" r="2.6" fill="#9a9a9a" />
<circle cx="802.7" cy="510.2" r="2.6" fill="#4a4a4a" />
<circle cx="802.7" cy="509" r="2.6" fill="#000" />
<circle cx="809.1" cy="511.8" r="2.6" fill="#e8e8e8" />
<circle cx="809.1" cy="510.6" r="2.6" fill="#9a9a9a" />
<circle cx="809.1" cy="509.4" r="2.6" fill="#4a4a4a" />
<circle cx="809.1" cy="508.2" r="2.6" fill="#000" />
<circle cx="815.5" cy="512.6" r="2.6" fill="#e8e8e8" />
<circle cx="815.5" cy="511.4" r="2.6" fill="#9a9a9a" />
<circle cx="815.5" cy="510.2" r="2.6" fill="#4a4a4a" />
<circle cx="815.5" cy="509" r="2.6" fill="#000" />
<circle cx="821.9" cy="510.7" r="2.6" fill="#e8e8e8" />
<circle cx="821.9" cy="509.5" r="2.6" fill="#9a9a9a" />
<circle cx="821.9" cy="508.3" r="2.6" fill="#4a4a4a" />
<circle cx="821.9" cy="507.1" r="2.6" fill="#000" />
<circle cx="834.7" cy="505.8" r="2.6" fill="#e8e8e8" />
<circle cx="834.7" cy="504.6" r="2.6" fill="#9a9a9a" />
<circle cx="834.7" cy="503.4" r="2.6" fill="#4a4a4a" />
<circle cx="834.7" cy="502.2" r="2.6" fill="#000" />
<circle cx="841.1" cy="508.8" r="2.6" fill="#e8e8e8" />
<circle cx="841.1" cy="507.6" r="2.6" fill="#9a9a9a" />
<circle cx="841.1" cy="506.4" r="2.6" fill="#4a4a4a" />
<circle cx="841.1" cy="505.2" r="2.6" fill="#000" />
<circle cx="566.3" cy="456.7" r="2.6" fill="#505050" />
<circle cx="585.3" cy="466.4" r="2.6" fill="#c8c8c8" />
<circle cx="591.9" cy="468.6" r="2.6" fill="#e0e0e0" />
<circle cx="566.3" cy="506.4" r="2.6" fill="#aaaaaa" />
<circle cx="572.6" cy="505.8" r="2.6" fill="#c8c8c8" />
<circle cx="579.2" cy="505.8" r="2.6" fill="#aaaaaa" />
<circle cx="572.6" cy="509" r="2.6" fill="#ffffff" />
<circle cx="579.2" cy="509" r="2.6" fill="#ffffff" />
<circle cx="585.3" cy="508.2" r="2.6" fill="#ffffff" />
<circle cx="591.9" cy="508.2" r="2.6" fill="#ffffff" />
<circle cx="598.4" cy="508.6" r="2.6" fill="#ffffff" />
<circle cx="700.4" cy="508.2" r="2.6" fill="#808080" />
<circle cx="719.8" cy="508.2" r="2.6" fill="#808080" />
<circle cx="745.6" cy="510.1" r="2.6" fill="#707070" />
<circle cx="777.4" cy="510.1" r="2.6" fill="#707070" />
<circle cx="790.3" cy="510.1" r="2.6" fill="#808080" />
<circle cx="828.6" cy="508.6" r="2.6" fill="#808080" />
<circle cx="700.4" cy="476.5" r="2.6" fill="#000" />
<circle cx="719.8" cy="486.5" r="2.6" fill="#000" />
<circle cx="745.6" cy="486.5" r="2.6" fill="#000" />
<circle cx="777.4" cy="488" r="2.6" fill="#000" />
<circle cx="790.3" cy="492.2" r="2.6" fill="#000" />
<circle cx="828.6" cy="474.6" r="2.6" fill="#000" />
<circle cx="348.3" cy="444.1" r="2.6" fill="#b22222" />
<circle cx="354.7" cy="444.1" r="2.6" fill="#b22222" />
<circle cx="361.1" cy="444.1" r="2.6" fill="#b22222" />
<circle cx="367.5" cy="444.1" r="2.6" fill="#b22222" />
<circle cx="373.9" cy="497.4" r="2.6" fill="#b22222" />
<circle cx="380.3" cy="497.4" r="2.6" fill="#b22222" />
<circle cx="386.7" cy="497.4" r="2.6" fill="#b22222" />
<circle cx="393.1" cy="447.3" r="2.6" fill="#b22222" />
<circle cx="399.5" cy="451.1" r="2.6" fill="#b22222" />
<circle cx="405.9" cy="448.8" r="2.6" fill="#b22222" />
<circle cx="412.3" cy="447.3" r="2.6" fill="#b22222" />
<circle cx="418.7" cy="447.3" r="2.6" fill="#b22222" />
<circle cx="425.1" cy="448.8" r="2.6" fill="#b22222" />
<circle cx="431.5" cy="448.8" r="2.6" fill="#b22222" />
<circle cx="437.9" cy="447.3" r="2.6" fill="#b22222" />
<circle cx="444.3" cy="447.3" r="2.6" fill="#b22222" />
<circle cx="450.7" cy="448.8" r="2.6" fill="#b22222" />
<circle cx="457.1" cy="463.8" r="2.6" fill="#b22222" />
<circle cx="463.5" cy="465.6" r="2.6" fill="#b22222" />
<circle cx="469.9" cy="447.3" r="2.6" fill="#b22222" />
<circle cx="476.3" cy="445.6" r="2.6" fill="#b22222" />
<circle cx="482.7" cy="445.6" r="2.6" fill="#b22222" />
<circle cx="489.1" cy="445.6" r="2.6" fill="#b22222" />
<circle cx="495.5" cy="445.6" r="2.6" fill="#b22222" />
<circle cx="501.9" cy="445.6" r="2.6" fill="#b22222" />
<circle cx="508.3" cy="445.6" r="2.6" fill="#b22222" />
<circle cx="514.7" cy="445.6" r="2.6" fill="#b22222" />
<circle cx="521.1" cy="445.6" r="2.6" fill="#b22222" />
<circle cx="527.5" cy="445.6" r="2.6" fill="#b22222" />
<circle cx="533.9" cy="445.6" r="2.6" fill="#b22222" />
<circle cx="540.3" cy="445.6" r="2.6" fill="#b22222" />
<circle cx="546.7" cy="445.6" r="2.6" fill="#b22222" />
<circle cx="553.1" cy="445.6" r="2.6" fill="#b22222" />
<circle cx="559.5" cy="445.6" r="2.6" fill="#b22222" />
<circle cx="565.9" cy="445.6" r="2.6" fill="#b22222" />
<circle cx="572.3" cy="445.6" r="2.6" fill="#b22222" />
<circle cx="578.7" cy="447.3" r="2.6" fill="#b22222" />
<circle cx="585.1" cy="447.3" r="2.6" fill="#b22222" />
<circle cx="591.5" cy="448.8" r="2.6" fill="#b22222" />
<circle cx="597.9" cy="448.8" r="2.6" fill="#b22222" />
<circle cx="604.3" cy="449.9" r="2.6" fill="#b22222" />
<circle cx="610.7" cy="492.7" r="2.6" fill="#b22222" />
<circle cx="617.1" cy="492.2" r="2.6" fill="#b22222" />
<circle cx="623.5" cy="491.4" r="2.6" fill="#b22222" />
<circle cx="629.9" cy="490.7" r="2.6" fill="#b22222" />
<circle cx="636.3" cy="491.4" r="2.6" fill="#b22222" />
<circle cx="642.7" cy="491.4" r="2.6" fill="#b22222" />
<circle cx="649.1" cy="492.7" r="2.6" fill="#b22222" />
<circle cx="655.5" cy="492.7" r="2.6" fill="#b22222" />
<circle cx="661.9" cy="492.7" r="2.6" fill="#b22222" />
<circle cx="668.3" cy="492.7" r="2.6" fill="#b22222" />
<circle cx="674.7" cy="492.7" r="2.6" fill="#b22222" />
<circle cx="681.1" cy="476.8" r="2.6" fill="#b22222" />
<circle cx="687.5" cy="475.3" r="2.6" fill="#b22222" />
<circle cx="693.9" cy="475" r="2.6" fill="#b22222" />
<circle cx="700.3" cy="475.3" r="2.6" fill="#b22222" />
<circle cx="706.7" cy="451.8" r="2.6" fill="#b22222" />
<circle cx="713.1" cy="474.2" r="2.6" fill="#b22222" />
<circle cx="719.5" cy="475.7" r="2.6" fill="#b22222" />
<circle cx="725.9" cy="476.5" r="2.6" fill="#b22222" />
<circle cx="732.3" cy="478.3" r="2.6" fill="#b22222" />
<circle cx="738.7" cy="445.6" r="2.6" fill="#b22222" />
<circle cx="745.1" cy="445.6" r="2.6" fill="#b22222" />
<circle cx="751.5" cy="445.6" r="2.6" fill="#b22222" />
<circle cx="757.9" cy="445.6" r="2.6" fill="#b22222" />
<circle cx="764.3" cy="445.6" r="2.6" fill="#b22222" />
<circle cx="770.7" cy="445.6" r="2.6" fill="#b22222" />
<circle cx="777.1" cy="444" r="2.6" fill="#b22222" />
<circle cx="783.5" cy="445.6" r="2.6" fill="#b22222" />
<circle cx="789.9" cy="447.3" r="2.6" fill="#b22222" />
<circle cx="796.3" cy="444" r="2.6" fill="#b22222" />
<circle cx="802.7" cy="444" r="2.6" fill="#b22222" />
<circle cx="809.1" cy="444" r="2.6" fill="#b22222" />
<circle cx="815.5" cy="444" r="2.6" fill="#b22222" />
<circle cx="821.9" cy="444" r="2.6" fill="#b22222" />
<circle cx="828.3" cy="444" r="2.6" fill="#b22222" />
<circle cx="834.7" cy="472.7" r="2.6" fill="#b22222" />
<circle cx="841.1" cy="475" r="2.6" fill="#b22222" />
<polyline points="348.3,479.5 354.7,479.1 361.1,498.1 367.5,494.8 373.9,482.4 380.3,493.6 386.7,513.1 393.1,513.1 399.5,488 405.9,480.2 412.3,472.7 418.7,474.2 425.1,472.7 431.5,473.1 437.9,473.8 444.3,476.8 450.7,476.5 457.1,475.7 463.5,480.6 469.9,489.9 476.3,513.1 482.7,513.8 489.1,513.8 495.5,514.2 501.9,514.2 508.3,514.2 514.7,513.8 521.1,513.5 527.5,510.5 533.9,476.8 540.3,476.1 546.7,470.1 553.1,468.2 559.5,469 565.9,470.1 572.3,472 578.7,473.1 585.1,475 591.5,475.7 597.9,476.1 604.3,476.8 610.7,483.2 617.1,481.3 623.5,479.5 629.9,478.7 636.3,478 642.7,477.2 649.1,480.9 655.5,486.9 661.9,484.3 668.3,478.3 674.7,476.1 681.1,480.6 687.5,482.4 693.9,483.9 700.3,476.8 706.7,475 713.1,487.3 719.5,486.2 725.9,480.9 732.3,491.8 738.7,492.2 745.1,493.3 751.5,494.8 757.9,511.6 764.3,512.7 770.7,507.8 777.1,493.6 783.5,494 789.9,492.5 796.3,495.9 802.7,494.8 809.1,493.6 815.5,493.6 821.9,492.2 828.3,487.3 834.7,486.2 841.1,487.7" fill="none" stroke="#ff9600" stroke-width="1.8" stroke-linejoin="round"/>
</g>
<rect x="348.5" y="438.1" width="493" height="78.2" fill="none" stroke="#000" stroke-width="1.3"/>
<clipPath id="cC"><rect x="348.3" y="525.5" width="492.99999999999994" height="79.19999999999997"/></clipPath>
<g clip-path="url(#cC)">
<rect x="348.3" y="525.5" width="493" height="77.9" fill="#2d2d2d" />
<polygon points="399.2,525.6 404.8,538.7 409.5,551.8 414.1,560.2 419.7,557.4 427.2,553.6 434.7,542.4 445.9,536.8 457.1,537.7 464.6,529.3 475.8,525.6" fill="#484848" />
<polygon points="406.6,525.6 410.4,536.8 414.1,549.9 419.7,548 427.2,540.5 434.7,533.1 449.6,530.3 459,525.6" fill="#585858" />
<polygon points="533,525.6 542.4,525.6 549.8,538.7 557.3,557.4 561,576 566.6,594.7 570.4,603.1 559.2,603.1 551.7,576 546.1,548 540.5,533.1" fill="#484848" />
<polygon points="542.4,525.6 553.9,525.6 559.2,538.7 564.8,553.6 570.4,568.6 572.6,576 576,591 579.7,598.5 585.3,603.1 570.4,603.1 566.6,594.7 561,576 557.3,557.4 549.8,538.7" fill="#5e5e5e" />
<clipPath id="cS2"><polygon points="553.9,525.6 604,525.6 596.5,584.5 591.9,582 585.3,574.2 579.7,556.6 572.3,552.1 566.6,533.1 561,528.4"/></clipPath>
<g clip-path="url(#cS2)">
<rect x="553.9" y="525.5" width="50.1" height="77.9" fill="#87d3fd" />
<rect x="586.3" y="525.5" width="17.7" height="77.9" fill="#7cc0ee" />
</g>
<polygon points="553.9,525.6 561,528.4 566.6,533.1 572.3,552.1 579.7,556.6 585.3,574.2 591.9,582 592.8,584.5 587.2,581.6 579.7,567.6 570.4,565.8 564.8,553.6 559.2,538.7" fill="#ffffff" />
<polygon points="570.4,565.8 579.7,567.6 587.2,581.6 596.5,584.5 598.4,598.5 604.9,603.1 585.3,603.1 579.7,598.5 576,591 572.6,576" fill="#9a9a9a" />
<polygon points="604,525.6 675,525.6 675,555.5 668.6,553.6 662.3,540.5 655.9,536.8 649.8,550.8 643.2,548 636.7,551.8 630.5,553.6 623.8,557.4 617.5,552.7 610.9,551.8 604,576 598.4,603.1 596.5,584.5" fill="#555555" />
<polygon points="675,525.6 841.6,525.6 841.6,544.3 834.9,546.2 828.6,540.5 822.2,529.3 815.5,527.5 809.1,529.3 803,529.3 796.6,534.9 790.3,536.8 783.9,534.9 777.4,531.2 771.2,534.9 764.7,529.3 758.1,531.2 751.6,536.8 745.6,542.4 738.9,548 732.5,544.3 726.4,544.3 719.8,546.2 713.3,544.3 706.8,553.6 700.4,548 694.1,540.5 687.7,533.1 681.4,536.8 675,551.8" fill="#555555" />
<clipPath id="cS30"><polygon points="689,525.6 719.8,525.6 717,527.8 713.3,526.7 706.8,531.6 703,532.3 699.3,529.7 694.1,528.2"/></clipPath>
<g clip-path="url(#cS30)">
<rect x="689" y="525.5" width="30.8" height="77.9" fill="#87d3fd" />
<rect x="689" y="525.5" width="4.1" height="77.9" fill="#7cc0ee" />
</g>
<clipPath id="cS31"><polygon points="725.8,525.6 749.7,525.6 745.6,529.7 739.5,542.8 734.8,535.9 731,530.8"/></clipPath>
<g clip-path="url(#cS31)">
<rect x="725.8" y="525.5" width="23.9" height="77.9" fill="#87d3fd" />
<rect x="739.9" y="525.5" width="9.9" height="77.9" fill="#7cc0ee" />
</g>
<clipPath id="cS32"><polygon points="750.7,525.6 764.7,525.6 760.9,527.5 755.3,526.7"/></clipPath>
<g clip-path="url(#cS32)">
<rect x="750.7" y="525.5" width="14" height="77.9" fill="#87d3fd" />
<rect x="750.7" y="525.5" width="14" height="77.9" fill="#7cc0ee" />
</g>
<clipPath id="cS33"><polygon points="783.4,525.6 798.3,525.6 794.6,528.2 790.3,529.7"/></clipPath>
<g clip-path="url(#cS33)">
<rect x="783.4" y="525.5" width="14.9" height="77.9" fill="#87d3fd" />
<rect x="783.4" y="525.5" width="14.9" height="77.9" fill="#7cc0ee" />
</g>
<clipPath id="cS34"><polygon points="803.9,525.6 815.1,525.6 809.1,527.8"/></clipPath>
<g clip-path="url(#cS34)">
<rect x="803.9" y="525.5" width="11.2" height="77.9" fill="#87d3fd" />
<rect x="803.9" y="525.5" width="11.2" height="77.9" fill="#7cc0ee" />
</g>
<clipPath id="cS35"><polygon points="821.6,525.6 841.6,525.6 841.6,528.4 834.9,537.2 830.1,539.8 825.9,533.1"/></clipPath>
<g clip-path="url(#cS35)">
<rect x="821.6" y="525.5" width="20" height="77.9" fill="#87d3fd" />
<rect x="821.6" y="525.5" width="19.7" height="77.9" fill="#7cc0ee" />
</g>
<polygon points="421.6,525.6 436.5,525.6 432.8,527.1 425.3,527.1" fill="#87d3fd" />
<polyline points="406.3,603.1 412.6,583.5 419.2,564.8 425.3,557.4 431.9,570.4 438.4,563 444.6,553.6 450.9,574.2 457.5,585.4 463.8,592.9 470.2,600.3 476.7,603.1" fill="none" stroke="#a0a0a0" stroke-width="1" />
<polyline points="349.1,583.1 355.3,589.1 361.8,594.7 368.4,600 374.3,602.2 380.9,602.2 387.2,601.5 393.6,594.7 400.1,577.9 406.3,561.5 412.6,563.3 419.2,542 425.3,543.5 431.9,534.2 438.4,540.5 444.6,553.6 450.9,574.2 457.5,598.5 463.8,601.8 470.2,596.6 476.7,589.1 483.2,574.2 489.8,557.4 495.9,544.3 502.3,534.9 508.6,528.2 515,529" fill="none" stroke="#f4f4f4" stroke-width="1.3" />
<polyline points="505,529 508.7,527.8 515.3,528.4 521.4,529.3 527.8,530.3 534.5,526.7 540.5,527.1 547.2,527.5 553.6,528.4 560.1,538.7 566.3,555.5 572.6,566.7 579.7,567.6 585.3,576 591.9,594.7 598.4,599.4 604.6,601.3 610.9,602.6 675,603.1" fill="none" stroke="#f4f4f4" stroke-width="1.3" />
<polyline points="527.8,603.1 534.5,598.5 540.5,538.7 547.2,566.7 553.6,600.3 560.1,602.2 566.3,599.4 569.5,591 572.6,576 576,591 579.7,598.5 585.3,603.1 591.9,591 598.4,594.7 604,600.3 610.9,603.1" fill="none" stroke="#a0a0a0" stroke-width="1" />
<polyline points="675,603.1 681.4,576 687.7,538.7 694.1,527.5 700.4,531.2 706.8,533.1 713.3,527.5 719.8,529.3 723.6,576 726.4,602.2 764.7,602.2 771.2,566.7 777.4,529.3 783.9,566.7 790.3,602.2 796.6,587.3 803,576 809.1,570.4 815.5,581.6 822.2,548 828.6,544.3 834.9,544.3 841.6,572.3" fill="none" stroke="#a0a0a0" stroke-width="1" />
<polyline points="675,603.1 687.7,602.2 694.1,601.8 700.4,600.7 706.8,600 713.3,600.7 719.8,601.1 726.4,601.1 732.5,600.3 738.9,597.5 745.6,593.8 751.6,587.3 758.1,583.5 764.7,583.1 771.2,583.5 777.4,586.3 783.9,590.1 790.3,594.7 796.6,596.6 803,592.9 809.1,591.9 815.5,593.8 822.2,596.6 828.6,598.5 834.9,600.3 841.6,602.2" fill="none" stroke="#f4f4f4" stroke-width="1.3" />
<path d="M347.2 604.6 V559.5 a1.5 1.2 0 0 1 3 0 V604.6 z" fill="#ffb800"/>
<path d="M353.6 604.6 V559.5 a1.5 1.2 0 0 1 3 0 V604.6 z" fill="#ffb800"/>
<path d="M360 604.6 V552 a1.5 1.2 0 0 1 3 0 V604.6 z" fill="#ffb800"/>
<path d="M366.4 604.6 V553 a1.5 1.2 0 0 1 3 0 V604.6 z" fill="#ffb800"/>
<path d="M372.8 604.6 V557.6 a1.5 1.2 0 0 1 3 0 V604.6 z" fill="#ffb800"/>
<path d="M379.2 604.6 V553 a1.5 1.2 0 0 1 3 0 V604.6 z" fill="#ffb800"/>
<path d="M385.6 604.6 V541.7 a1.5 1.2 0 0 1 3 0 V604.6 z" fill="#ffb800"/>
<path d="M392 604.6 V543.6 a1.5 1.2 0 0 1 3 0 V604.6 z" fill="#ffb800"/>
<path d="M398.4 604.6 V557.1 a1.5 1.2 0 0 1 3 0 V604.6 z" fill="#ffb800"/>
<path d="M404.8 604.6 V568.8 a1.5 1.2 0 0 1 3 0 V604.6 z" fill="#ffb800"/>
<path d="M411.2 604.6 V598.7 a1.5 1.2 0 0 1 3 0 V604.6 z" fill="#ffb800"/>
<path d="M417.6 604.6 V597.8 a1.5 1.2 0 0 1 3 0 V604.6 z" fill="#ffb800"/>
<path d="M424 604.6 V602.5 a1.5 1.2 0 0 1 3 0 V604.6 z" fill="#ffb800"/>
<path d="M430.4 604.6 V596.9 a1.5 1.2 0 0 1 3 0 V604.6 z" fill="#ffb800"/>
<path d="M436.8 604.6 V594.1 a1.5 1.2 0 0 1 3 0 V604.6 z" fill="#ffb800"/>
<path d="M443.2 604.6 V578.7 a1.5 1.2 0 0 1 3 0 V604.6 z" fill="#ffb800"/>
<path d="M449.6 604.6 V581 a1.5 1.2 0 0 1 3 0 V604.6 z" fill="#ffb800"/>
<path d="M456 604.6 V585.7 a1.5 1.2 0 0 1 3 0 V604.6 z" fill="#ffb800"/>
<path d="M462.4 604.6 V571.6 a1.5 1.2 0 0 1 3 0 V604.6 z" fill="#ffb800"/>
<path d="M468.8 604.6 V558.9 a1.5 1.2 0 0 1 3 0 V604.6 z" fill="#ffb800"/>
<path d="M475.2 604.6 V541.7 a1.5 1.2 0 0 1 3 0 V604.6 z" fill="#ffb800"/>
<path d="M481.6 604.6 V538 a1.5 1.2 0 0 1 3 0 V604.6 z" fill="#ffb800"/>
<path d="M488 604.6 V535.8 a1.5 1.2 0 0 1 3 0 V604.6 z" fill="#ffb800"/>
<path d="M494.4 604.6 V532.8 a1.5 1.2 0 0 1 3 0 V604.6 z" fill="#ffb800"/>
<path d="M500.8 604.6 V527.2 a1.5 1.2 0 0 1 3 0 V604.6 z" fill="#ffb800"/>
<path d="M507.2 604.6 V532.8 a1.5 1.2 0 0 1 3 0 V604.6 z" fill="#ffb800"/>
<path d="M513.6 604.6 V539.9 a1.5 1.2 0 0 1 3 0 V604.6 z" fill="#ffb800"/>
<path d="M520 604.6 V538 a1.5 1.2 0 0 1 3 0 V604.6 z" fill="#ffb800"/>
<path d="M526.4 604.6 V547.7 a1.5 1.2 0 0 1 3 0 V604.6 z" fill="#ffb800"/>
<path d="M532.8 604.6 V566 a1.5 1.2 0 0 1 3 0 V604.6 z" fill="#ffb800"/>
<path d="M539.2 604.6 V569.8 a1.5 1.2 0 0 1 3 0 V604.6 z" fill="#ffb800"/>
<path d="M545.6 604.6 V594.1 a1.5 1.2 0 0 1 3 0 V604.6 z" fill="#ffb800"/>
<path d="M552 604.6 V602.5 a1.5 1.2 0 0 1 3 0 V604.6 z" fill="#ffb800"/>
<path d="M609.6 604.6 V591.3 a1.5 1.2 0 0 1 3 0 V604.6 z" fill="#ffb800"/>
<path d="M616 604.6 V595.9 a1.5 1.2 0 0 1 3 0 V604.6 z" fill="#ffb800"/>
<path d="M622.4 604.6 V601.9 a1.5 1.2 0 0 1 3 0 V604.6 z" fill="#ffb800"/>
<path d="M628.8 604.6 V601.9 a1.5 1.2 0 0 1 3 0 V604.6 z" fill="#ffb800"/>
<path d="M635.2 604.6 V601.9 a1.5 1.2 0 0 1 3 0 V604.6 z" fill="#ffb800"/>
<path d="M641.6 604.6 V601.9 a1.5 1.2 0 0 1 3 0 V604.6 z" fill="#ffb800"/>
<path d="M648 604.6 V591.3 a1.5 1.2 0 0 1 3 0 V604.6 z" fill="#ffb800"/>
<path d="M654.4 604.6 V569 a1.5 1.2 0 0 1 3 0 V604.6 z" fill="#ffb800"/>
<path d="M660.8 604.6 V575 a1.5 1.2 0 0 1 3 0 V604.6 z" fill="#ffb800"/>
<path d="M667.2 604.6 V592.2 a1.5 1.2 0 0 1 3 0 V604.6 z" fill="#ffb800"/>
<path d="M673.6 604.6 V596.9 a1.5 1.2 0 0 1 3 0 V604.6 z" fill="#ffb800"/>
<path d="M680 604.6 V575 a1.5 1.2 0 0 1 3 0 V604.6 z" fill="#ffb800"/>
<path d="M686.4 604.6 V569.8 a1.5 1.2 0 0 1 3 0 V604.6 z" fill="#ffb800"/>
<path d="M692.8 604.6 V569.8 a1.5 1.2 0 0 1 3 0 V604.6 z" fill="#ffb800"/>
<path d="M699.2 604.6 V594.1 a1.5 1.2 0 0 1 3 0 V604.6 z" fill="#ffb800"/>
<path d="M705.6 604.6 V601.9 a1.5 1.2 0 0 1 3 0 V604.6 z" fill="#ffb800"/>
<path d="M712 604.6 V595.9 a1.5 1.2 0 0 1 3 0 V604.6 z" fill="#ffb800"/>
<path d="M718.4 604.6 V591.3 a1.5 1.2 0 0 1 3 0 V604.6 z" fill="#ffb800"/>
<path d="M724.8 604.6 V585.7 a1.5 1.2 0 0 1 3 0 V604.6 z" fill="#ffb800"/>
<path d="M731.2 604.6 V560.1 a1.5 1.2 0 0 1 3 0 V604.6 z" fill="#ffb800"/>
<path d="M737.6 604.6 V558.9 a1.5 1.2 0 0 1 3 0 V604.6 z" fill="#ffb800"/>
<path d="M744 604.6 V557.1 a1.5 1.2 0 0 1 3 0 V604.6 z" fill="#ffb800"/>
<path d="M750.4 604.6 V554.8 a1.5 1.2 0 0 1 3 0 V604.6 z" fill="#ffb800"/>
<path d="M756.8 604.6 V545.9 a1.5 1.2 0 0 1 3 0 V604.6 z" fill="#ffb800"/>
<path d="M763.2 604.6 V544 a1.5 1.2 0 0 1 3 0 V604.6 z" fill="#ffb800"/>
<path d="M769.6 604.6 V547.7 a1.5 1.2 0 0 1 3 0 V604.6 z" fill="#ffb800"/>
<path d="M776 604.6 V560.8 a1.5 1.2 0 0 1 3 0 V604.6 z" fill="#ffb800"/>
<path d="M782.4 604.6 V558.2 a1.5 1.2 0 0 1 3 0 V604.6 z" fill="#ffb800"/>
<path d="M788.8 604.6 V564.2 a1.5 1.2 0 0 1 3 0 V604.6 z" fill="#ffb800"/>
<path d="M795.2 604.6 V553 a1.5 1.2 0 0 1 3 0 V604.6 z" fill="#ffb800"/>
<path d="M801.6 604.6 V554.8 a1.5 1.2 0 0 1 3 0 V604.6 z" fill="#ffb800"/>
<path d="M808 604.6 V556.7 a1.5 1.2 0 0 1 3 0 V604.6 z" fill="#ffb800"/>
<path d="M814.4 604.6 V556.7 a1.5 1.2 0 0 1 3 0 V604.6 z" fill="#ffb800"/>
<path d="M820.8 604.6 V563 a1.5 1.2 0 0 1 3 0 V604.6 z" fill="#ffb800"/>
<path d="M827.2 604.6 V581.9 a1.5 1.2 0 0 1 3 0 V604.6 z" fill="#ffb800"/>
<path d="M833.6 604.6 V585.7 a1.5 1.2 0 0 1 3 0 V604.6 z" fill="#ffb800"/>
<path d="M840 604.6 V581.9 a1.5 1.2 0 0 1 3 0 V604.6 z" fill="#ffb800"/>
</g>
<g stroke="#000" stroke-width="1" stroke-dasharray="2 2" shape-rendering="crispEdges">
<line x1="361.5" y1="525.5" x2="361.5" y2="603.4" stroke="#000" stroke-width="1" />
<line x1="380.5" y1="525.5" x2="380.5" y2="603.4" stroke="#000" stroke-width="1" />
<line x1="399.5" y1="525.5" x2="399.5" y2="603.4" stroke="#000" stroke-width="1" />
<line x1="418.5" y1="525.5" x2="418.5" y2="603.4" stroke="#000" stroke-width="1" />
<line x1="437.5" y1="525.5" x2="437.5" y2="603.4" stroke="#000" stroke-width="1" />
<line x1="457.5" y1="525.5" x2="457.5" y2="603.4" stroke="#000" stroke-width="1" />
<line x1="476.5" y1="525.5" x2="476.5" y2="603.4" stroke="#000" stroke-width="1" />
<line x1="495.5" y1="525.5" x2="495.5" y2="603.4" stroke="#000" stroke-width="1" />
<line x1="514.5" y1="525.5" x2="514.5" y2="603.4" stroke="#000" stroke-width="1" />
<line x1="533.5" y1="525.5" x2="533.5" y2="603.4" stroke="#000" stroke-width="1" />
<line x1="553.5" y1="525.5" x2="553.5" y2="603.4" stroke="#000" stroke-width="1" />
<line x1="572.5" y1="525.5" x2="572.5" y2="603.4" stroke="#000" stroke-width="1" />
<line x1="591.5" y1="525.5" x2="591.5" y2="603.4" stroke="#000" stroke-width="1" />
<line x1="610.5" y1="525.5" x2="610.5" y2="603.4" stroke="#000" stroke-width="1" />
<line x1="629.5" y1="525.5" x2="629.5" y2="603.4" stroke="#000" stroke-width="1" />
<line x1="649.5" y1="525.5" x2="649.5" y2="603.4" stroke="#000" stroke-width="1" />
<line x1="668.5" y1="525.5" x2="668.5" y2="603.4" stroke="#000" stroke-width="1" />
<line x1="687.5" y1="525.5" x2="687.5" y2="603.4" stroke="#000" stroke-width="1" />
<line x1="706.5" y1="525.5" x2="706.5" y2="603.4" stroke="#000" stroke-width="1" />
<line x1="725.5" y1="525.5" x2="725.5" y2="603.4" stroke="#000" stroke-width="1" />
<line x1="745.5" y1="525.5" x2="745.5" y2="603.4" stroke="#000" stroke-width="1" />
<line x1="764.5" y1="525.5" x2="764.5" y2="603.4" stroke="#000" stroke-width="1" />
<line x1="783.5" y1="525.5" x2="783.5" y2="603.4" stroke="#000" stroke-width="1" />
<line x1="802.5" y1="525.5" x2="802.5" y2="603.4" stroke="#000" stroke-width="1" />
<line x1="821.5" y1="525.5" x2="821.5" y2="603.4" stroke="#000" stroke-width="1" />
<line x1="841.5" y1="525.5" x2="841.5" y2="603.4" stroke="#000" stroke-width="1" />
<line x1="348.3" y1="545.5" x2="841.3" y2="545.5" stroke="#000" stroke-width="1" />
<line x1="348.3" y1="564.5" x2="841.3" y2="564.5" stroke="#000" stroke-width="1" />
<line x1="348.3" y1="584.5" x2="841.3" y2="584.5" stroke="#000" stroke-width="1" />
<line x1="348.3" y1="525.5" x2="841.3" y2="525.5" stroke="#000" stroke-width="1" />
</g>
<rect x="348.5" y="525.6" width="493" height="77.9" fill="none" stroke="#000" stroke-width="1.3"/>
<g font-family="'Liberation Sans',Arial,sans-serif">
<text x="344.3" y="62.4" fill="#000" stroke="#000" text-anchor="end" font-size="11" letter-spacing="-0.45">5</text>
<text x="344.3" y="95.4" fill="#000" stroke="#000" text-anchor="end" font-size="11" letter-spacing="-0.45">0</text>
<text x="344.3" y="129.5" fill="#000" stroke="#000" text-anchor="end" font-size="11" letter-spacing="-0.45">-5</text>
<text x="849.6" y="62.3" fill="#000" stroke="#000" text-anchor="start" font-size="11" >5</text>
<text x="850.3" y="96.3" fill="#000" stroke="#000" text-anchor="start" font-size="11" >0</text>
<text x="847.3" y="129.8" fill="#000" stroke="#000" text-anchor="start" font-size="11" >-5</text>
<text x="344.3" y="150.2" fill="#000" stroke="#000" text-anchor="end" font-size="11" letter-spacing="-0.45">5</text>
<text x="344.3" y="165.4" fill="#000" stroke="#000" text-anchor="end" font-size="11" letter-spacing="-0.45">4</text>
<text x="344.3" y="180.4" fill="#000" stroke="#000" text-anchor="end" font-size="11" letter-spacing="-0.45">3</text>
<text x="344.3" y="195.4" fill="#000" stroke="#000" text-anchor="end" font-size="11" letter-spacing="-0.45">2</text>
<text x="344.3" y="210.4" fill="#000" stroke="#000" text-anchor="end" font-size="11" letter-spacing="-0.45">1</text>
<text x="344.3" y="225.4" fill="#000" stroke="#000" text-anchor="end" font-size="11" letter-spacing="-0.45">0</text>
<text x="845.9" y="150.2" fill="#e8501e" stroke="#e8501e" text-anchor="start" font-size="11" letter-spacing="-0.45">100</text>
<text x="845.9" y="165.4" fill="#e8501e" stroke="#e8501e" text-anchor="start" font-size="11" letter-spacing="-0.45">95</text>
<text x="845.9" y="180.4" fill="#e8501e" stroke="#e8501e" text-anchor="start" font-size="11" letter-spacing="-0.45">90</text>
<text x="845.9" y="195.4" fill="#e8501e" stroke="#e8501e" text-anchor="start" font-size="11" letter-spacing="-0.45">85</text>
<text x="845.9" y="210.4" fill="#e8501e" stroke="#e8501e" text-anchor="start" font-size="11" letter-spacing="-0.45">80</text>
<text x="845.9" y="225.4" fill="#e8501e" stroke="#e8501e" text-anchor="start" font-size="11" letter-spacing="-0.45">75</text>
<text x="344.3" y="246.6" fill="#000" stroke="#000" text-anchor="end" font-size="11" letter-spacing="-0.45">1025</text>
<text x="344.3" y="267.2" fill="#000" stroke="#000" text-anchor="end" font-size="11" letter-spacing="-0.45">1020</text>
<text x="344.3" y="287.9" fill="#000" stroke="#000" text-anchor="end" font-size="11" letter-spacing="-0.45">1015</text>
<text x="344.3" y="308.6" fill="#000" stroke="#000" text-anchor="end" font-size="11" letter-spacing="-0.45">1010</text>
<text x="845.9" y="246.6" fill="#000" stroke="#000" text-anchor="start" font-size="11" letter-spacing="-0.45">769</text>
<text x="845.9" y="267.2" fill="#000" stroke="#000" text-anchor="start" font-size="11" letter-spacing="-0.45">765</text>
<text x="845.9" y="287.9" fill="#000" stroke="#000" text-anchor="start" font-size="11" letter-spacing="-0.45">761</text>
<text x="845.9" y="308.6" fill="#000" stroke="#000" text-anchor="start" font-size="11" letter-spacing="-0.45">758</text>
<text x="344.3" y="322.5" fill="#000" stroke="#000" text-anchor="end" font-size="11" letter-spacing="-0.45">15</text>
<text x="344.3" y="347.9" fill="#000" stroke="#000" text-anchor="end" font-size="11" letter-spacing="-0.45">10</text>
<text x="344.3" y="373.4" fill="#000" stroke="#000" text-anchor="end" font-size="11" letter-spacing="-0.45">5</text>
<text x="344.3" y="398.9" fill="#000" stroke="#000" text-anchor="end" font-size="11" letter-spacing="-0.45">0</text>
<text x="845.9" y="322.5" fill="#000" stroke="#000" text-anchor="start" font-size="11" letter-spacing="-0.45">54</text>
<text x="845.9" y="347.9" fill="#000" stroke="#000" text-anchor="start" font-size="11" letter-spacing="-0.45">36</text>
<text x="845.9" y="373.4" fill="#000" stroke="#000" text-anchor="start" font-size="11" letter-spacing="-0.45">18</text>
<text x="845.9" y="398.9" fill="#000" stroke="#000" text-anchor="start" font-size="11" letter-spacing="-0.45">0</text>
<text x="344.3" y="442.3" fill="#000" stroke="#000" text-anchor="end" font-size="11" letter-spacing="-0.45">15.0</text>
<text x="344.3" y="461.2" fill="#000" stroke="#000" text-anchor="end" font-size="11" letter-spacing="-0.45">7.0</text>
<text x="344.3" y="480.7" fill="#000" stroke="#000" text-anchor="end" font-size="11" letter-spacing="-0.45">2.0</text>
<text x="344.3" y="500.3" fill="#000" stroke="#000" text-anchor="end" font-size="11" letter-spacing="-0.45">0.5</text>
<text x="344.3" y="519.9" fill="#000" stroke="#000" text-anchor="end" font-size="11" letter-spacing="-0.45">0.0</text>
<text x="845.9" y="442.3" fill="#ff8c00" stroke="#ff8c00" text-anchor="start" font-size="11" letter-spacing="-0.45">100</text>
<text x="845.9" y="461.2" fill="#ff8c00" stroke="#ff8c00" text-anchor="start" font-size="11" letter-spacing="-0.45">20</text>
<text x="845.9" y="480.7" fill="#ff8c00" stroke="#ff8c00" text-anchor="start" font-size="11" letter-spacing="-0.45">5</text>
<text x="845.9" y="500.3" fill="#ff8c00" stroke="#ff8c00" text-anchor="start" font-size="11" letter-spacing="-0.45">1</text>
<text x="845.9" y="519.9" fill="#ff8c00" stroke="#ff8c00" text-anchor="start" font-size="11" letter-spacing="-0.45">0</text>
<text x="344.3" y="529.4" fill="#000" stroke="#000" text-anchor="end" font-size="11" letter-spacing="-0.45">8</text>
<text x="344.3" y="549.1" fill="#000" stroke="#000" text-anchor="end" font-size="11" letter-spacing="-0.45">6</text>
<text x="344.3" y="568.4" fill="#000" stroke="#000" text-anchor="end" font-size="11" letter-spacing="-0.45">4</text>
<text x="344.3" y="587.9" fill="#000" stroke="#000" text-anchor="end" font-size="11" letter-spacing="-0.45">2</text>
<text x="344.3" y="607.2" fill="#000" stroke="#000" text-anchor="end" font-size="11" letter-spacing="-0.45">0</text>
<text x="845.9" y="529.4" fill="#ff8c00" stroke="#ff8c00" text-anchor="start" font-size="11" letter-spacing="-0.45">1</text>
<text x="845.9" y="549.1" fill="#ff8c00" stroke="#ff8c00" text-anchor="start" font-size="11" letter-spacing="-0.45">0.75</text>
<text x="845.9" y="568.4" fill="#ff8c00" stroke="#ff8c00" text-anchor="start" font-size="11" letter-spacing="-0.45">0.5</text>
<text x="845.9" y="587.9" fill="#ff8c00" stroke="#ff8c00" text-anchor="start" font-size="11" letter-spacing="-0.45">0.25</text>
<text x="845.9" y="607.2" fill="#ff8c00" stroke="#ff8c00" text-anchor="start" font-size="11" letter-spacing="-0.45">0</text>
<text x="361.1" y="55" fill="#000" stroke="#000" text-anchor="middle" font-size="12" >04</text>
<text x="361.1" y="616.3" fill="#000" stroke="#000" text-anchor="middle" font-size="12" >03</text>
<text x="399.5" y="55" fill="#000" stroke="#000" text-anchor="middle" font-size="12" >10</text>
<text x="399.5" y="616.3" fill="#000" stroke="#000" text-anchor="middle" font-size="12" >09</text>
<text x="437.9" y="55" fill="#000" stroke="#000" text-anchor="middle" font-size="12" >16</text>
<text x="437.9" y="616.3" fill="#000" stroke="#000" text-anchor="middle" font-size="12" >15</text>
<text x="476.3" y="55" fill="#000" stroke="#000" text-anchor="middle" font-size="12" >22</text>
<text x="476.3" y="616.3" fill="#000" stroke="#000" text-anchor="middle" font-size="12" >21</text>
<text x="514.7" y="55" fill="#000" stroke="#000" text-anchor="middle" font-size="12" >04</text>
<text x="514.7" y="616.3" fill="#000" stroke="#000" text-anchor="middle" font-size="12" >03</text>
<text x="553.1" y="55" fill="#000" stroke="#000" text-anchor="middle" font-size="12" >10</text>
<text x="553.1" y="616.3" fill="#000" stroke="#000" text-anchor="middle" font-size="12" >09</text>
<text x="591.5" y="55" fill="#000" stroke="#000" text-anchor="middle" font-size="12" >16</text>
<text x="591.5" y="616.3" fill="#000" stroke="#000" text-anchor="middle" font-size="12" >15</text>
<text x="629.9" y="55" fill="#000" stroke="#000" text-anchor="middle" font-size="12" >22</text>
<text x="629.9" y="616.3" fill="#000" stroke="#000" text-anchor="middle" font-size="12" >21</text>
<text x="668.3" y="55" fill="#000" stroke="#000" text-anchor="middle" font-size="12" >04</text>
<text x="668.3" y="616.3" fill="#000" stroke="#000" text-anchor="middle" font-size="12" >03</text>
<text x="706.7" y="55" fill="#000" stroke="#000" text-anchor="middle" font-size="12" >10</text>
<text x="706.7" y="616.3" fill="#000" stroke="#000" text-anchor="middle" font-size="12" >09</text>
<text x="745.1" y="55" fill="#000" stroke="#000" text-anchor="middle" font-size="12" >16</text>
<text x="745.1" y="616.3" fill="#000" stroke="#000" text-anchor="middle" font-size="12" >15</text>
<text x="783.5" y="55" fill="#000" stroke="#000" text-anchor="middle" font-size="12" >22</text>
<text x="783.5" y="616.3" fill="#000" stroke="#000" text-anchor="middle" font-size="12" >21</text>
<text x="821.9" y="55" fill="#000" stroke="#000" text-anchor="middle" font-size="12" >04</text>
<text x="821.9" y="616.3" fill="#000" stroke="#000" text-anchor="middle" font-size="12" >03</text>
<text x="307.5" y="55" fill="#000" stroke="#000" text-anchor="start" font-size="12" >CET</text>
<text x="860" y="54.5" fill="#000" stroke="#000" text-anchor="start" font-size="12" >CET</text>
<text x="306" y="616.3" fill="#000" stroke="#000" text-anchor="start" font-size="12" >UTC</text>
<text x="859.5" y="616.3" fill="#000" stroke="#000" text-anchor="start" font-size="12" >UTC</text>
<text x="388.8" y="41.6" fill="#000" stroke="#000" text-anchor="start" font-size="12" letter-spacing="0" textLength="59.5" lengthAdjust="spacingAndGlyphs">wto, 16.12</text>
<text x="544.8" y="41.6" fill="#000" stroke="#000" text-anchor="start" font-size="12" letter-spacing="0" textLength="59.5" lengthAdjust="spacingAndGlyphs">śro, 17.12</text>
<text x="695.2" y="41.6" fill="#000" stroke="#000" text-anchor="start" font-size="12" letter-spacing="0" textLength="62.6" lengthAdjust="spacingAndGlyphs">czw, 18.12</text>
<text x="418.5" y="630.5" fill="#000" stroke="#000" text-anchor="middle" font-size="12" letter-spacing="0.45">16.12</text>
<text x="573.5" y="630.5" fill="#000" stroke="#000" text-anchor="middle" font-size="12" letter-spacing="0.45">17.12</text>
<text x="727" y="630.5" fill="#000" stroke="#000" text-anchor="middle" font-size="12" letter-spacing="0.45">18.12</text>
<text x="362" y="11.5" fill="#00008b" stroke="#00008b" text-anchor="middle" font-size="12" >wschód słońca: 07:46 CET</text>
<text x="363" y="24.7" fill="#00008b" stroke="#00008b" text-anchor="middle" font-size="12" >zachód słońca: 15:10 CET</text>
<text x="596" y="11.5" fill="#00008b" stroke="#00008b" text-anchor="middle" font-size="12" >21°43'31"E, 53°59'46"N</text>
<text x="595" y="24.5" fill="#00008b" stroke="#00008b" text-anchor="middle" font-size="12" >(x=261,  y=355)</text>
<text x="819" y="11.5" fill="#00008b" stroke="#00008b" text-anchor="middle" font-size="12" >wysokość (min, środek, max)</text>
<text x="819" y="24.5" fill="#00008b" stroke="#00008b" text-anchor="middle" font-size="12" >121 - 141 - 157 m</text>
<text x="309" y="652.5" fill="#00008b" stroke="#00008b" text-anchor="start" font-size="13" letter-spacing="0" textLength="108.7" lengthAdjust="spacingAndGlyphs">meteo@icm.edu.pl</text>
<text x="623.5" y="652.5" fill="#00008b" stroke="#00008b" text-anchor="start" font-size="13" letter-spacing="0" textLength="251.5" lengthAdjust="spacingAndGlyphs">© 2007-2025 ICM, Uniwersytet Warszawski</text>
<text transform="translate(293.2 96.8) rotate(-90)" fill="#00008b" stroke="#00008b" text-anchor="middle" font-size="12" letter-spacing="0" textLength="65.5" lengthAdjust="spacingAndGlyphs">temperatura</text>
<text transform="translate(305.6 96.8) rotate(-90)" fill="#00008b" stroke="#00008b" text-anchor="middle" font-size="12" letter-spacing="0" textLength="20.2" lengthAdjust="spacingAndGlyphs">(°C)</text>
<text transform="translate(293.2 184) rotate(-90)" fill="#00008b" stroke="#00008b" text-anchor="middle" font-size="12" letter-spacing="0" textLength="28" lengthAdjust="spacingAndGlyphs">opad</text>
<text transform="translate(305.6 185) rotate(-90)" fill="#00008b" stroke="#00008b" text-anchor="middle" font-size="12" letter-spacing="0" textLength="84.4" lengthAdjust="spacingAndGlyphs">(mm/h, kg/m²/h)</text>
<text transform="translate(293.2 272.9) rotate(-90)" fill="#00008b" stroke="#00008b" text-anchor="middle" font-size="12" letter-spacing="0" textLength="47.8" lengthAdjust="spacingAndGlyphs">ciśnienie</text>
<text transform="translate(305.6 272.6) rotate(-90)" fill="#00008b" stroke="#00008b" text-anchor="middle" font-size="12" letter-spacing="0" textLength="27.8" lengthAdjust="spacingAndGlyphs">(hPa)</text>
<text transform="translate(293.2 362.5) rotate(-90)" fill="#00008b" stroke="#00008b" text-anchor="middle" font-size="12" letter-spacing="0" textLength="24" lengthAdjust="spacingAndGlyphs">wiatr</text>
<text transform="translate(305.6 361.5) rotate(-90)" fill="#00008b" stroke="#00008b" text-anchor="middle" font-size="12" letter-spacing="0" textLength="29" lengthAdjust="spacingAndGlyphs">(m/s)</text>
<text transform="translate(293.2 473) rotate(-90)" fill="#00008b" stroke="#00008b" text-anchor="middle" font-size="12" letter-spacing="0" textLength="106" lengthAdjust="spacingAndGlyphs">pion. rozciągł. chm.</text>
<text transform="translate(305.6 473.8) rotate(-90)" fill="#00008b" stroke="#00008b" text-anchor="middle" font-size="12" letter-spacing="0" textLength="24.3" lengthAdjust="spacingAndGlyphs">(km)</text>
<text transform="translate(293.2 571.7) rotate(-90)" fill="#00008b" stroke="#00008b" text-anchor="middle" font-size="12" letter-spacing="0" textLength="75.3" lengthAdjust="spacingAndGlyphs">zachmurzenie</text>
<text transform="translate(305.6 562.8) rotate(-90)" fill="#00008b" stroke="#00008b" text-anchor="middle" font-size="12" letter-spacing="0" textLength="44.3" lengthAdjust="spacingAndGlyphs">(oktanty)</text>
<text transform="translate(892.8 96.8) rotate(-90)" fill="#00008b" stroke="#00008b" text-anchor="middle" font-size="12" letter-spacing="0" textLength="20.2" lengthAdjust="spacingAndGlyphs">(°C)</text>
<text transform="translate(906.1 96.8) rotate(-90)" fill="#00008b" stroke="#00008b" text-anchor="middle" font-size="12" letter-spacing="0" textLength="65.5" lengthAdjust="spacingAndGlyphs">temperatura</text>
<text transform="translate(892.8 186.6) rotate(-90)" fill="#00008b" stroke="#00008b" text-anchor="middle" font-size="12" letter-spacing="0" textLength="15.6" lengthAdjust="spacingAndGlyphs">(%)</text>
<text transform="translate(906.1 184.8) rotate(-90)" fill="#00008b" stroke="#00008b" text-anchor="middle" font-size="12" letter-spacing="0" textLength="89.7" lengthAdjust="spacingAndGlyphs">wilgotność wzgl.</text>
<text transform="translate(892.8 272.7) rotate(-90)" fill="#00008b" stroke="#00008b" text-anchor="middle" font-size="12" letter-spacing="0" textLength="45.4" lengthAdjust="spacingAndGlyphs">(mm Hg)</text>
<text transform="translate(906.1 272.9) rotate(-90)" fill="#00008b" stroke="#00008b" text-anchor="middle" font-size="12" letter-spacing="0" textLength="47.8" lengthAdjust="spacingAndGlyphs">ciśnienie</text>
<text transform="translate(892.8 361.4) rotate(-90)" fill="#00008b" stroke="#00008b" text-anchor="middle" font-size="12" letter-spacing="0" textLength="32.7" lengthAdjust="spacingAndGlyphs">(km/h)</text>
<text transform="translate(906.1 362.5) rotate(-90)" fill="#00008b" stroke="#00008b" text-anchor="middle" font-size="12" letter-spacing="0" textLength="24" lengthAdjust="spacingAndGlyphs">wiatr</text>
<text transform="translate(892.8 474.7) rotate(-90)" fill="#00008b" stroke="#00008b" text-anchor="middle" font-size="12" letter-spacing="0" textLength="24.3" lengthAdjust="spacingAndGlyphs">(km)</text>
<text transform="translate(906.1 476) rotate(-90)" fill="#00008b" stroke="#00008b" text-anchor="middle" font-size="12" letter-spacing="0" textLength="62.5" lengthAdjust="spacingAndGlyphs">widzialność</text>
<text transform="translate(892.8 562.8) rotate(-90)" fill="#00008b" stroke="#00008b" text-anchor="middle" font-size="12" letter-spacing="0" textLength="43.6" lengthAdjust="spacingAndGlyphs">(frakcja)</text>
<text transform="translate(906.1 564.6) rotate(-90)" fill="#00008b" stroke="#00008b" text-anchor="middle" font-size="12" letter-spacing="0" textLength="22" lengthAdjust="spacingAndGlyphs">mgła</text>
<text x="284.3" y="420.3" fill="#00008b" stroke="#00008b" text-anchor="start" font-size="12" letter-spacing="0">W</text>
<text x="293.5" y="411.6" fill="#00008b" stroke="#00008b" text-anchor="start" font-size="12" letter-spacing="0">N</text>
<text x="300.5" y="420.3" fill="#00008b" stroke="#00008b" text-anchor="start" font-size="12" letter-spacing="0">E</text>
<text x="293.5" y="428.8" fill="#00008b" stroke="#00008b" text-anchor="start" font-size="12" letter-spacing="0">S</text>
<text x="883.6" y="420.3" fill="#00008b" stroke="#00008b" text-anchor="start" font-size="12" letter-spacing="0">W</text>
<text x="892.8" y="411.6" fill="#00008b" stroke="#00008b" text-anchor="start" font-size="12" letter-spacing="0">N</text>
<text x="899.8" y="420.3" fill="#00008b" stroke="#00008b" text-anchor="start" font-size="12" letter-spacing="0">E</text>
<text x="892.8" y="428.8" fill="#00008b" stroke="#00008b" text-anchor="start" font-size="12" letter-spacing="0">S</text>
</g>
<clipPath id="lT"><rect x="135.5" y="57.5" width="110" height="77"/></clipPath>
<g clip-path="url(#lT)">
<polygon points="135.3,107.4 142.8,109.3 156.8,111.5 245.5,111.5 245.5,134.5 135.3,134.5" fill="#9ad8fc" />
<polygon points="135.3,114.9 170.4,115.4 185.4,121 198.5,125.5 217.1,130.7 232.1,134.5 135.3,134.5" fill="#7fc2f0" />
<polygon points="177.9,120.5 191.9,124.2 205.6,127 219.6,129.8 233.4,129.8 239.6,123.3 245.5,117.7 245.5,125.1 239.6,129.8 233.4,133.5 219.6,133 205.6,131.1 191.9,127.9 177.9,121.4" fill="#b6e2fb" />
<polygon points="135.3,87.8 142.8,90.6 149.9,92.5 156.8,95.3 163.9,98.1 170.8,99.9 177.9,102.7 184.8,104.6 191.9,106.5 198.5,107.4 205.6,108.3 212.5,108.3 219.6,109.3 226.5,110.2 233.4,111.1 239.6,106.5 245.5,104.6 245.5,117.7 239.6,123.3 233.4,129.8 226.5,130.7 219.6,129.8 212.5,128.9 205.6,127 198.5,125.1 191.9,124.2 184.8,122.3 177.9,120.5 170.8,117.7 163.9,113.9 156.8,110.2 149.9,107.4 142.8,104.6 135.3,102.7" fill="#ffe4dc" opacity="0.9"/>
<line x1="142.8" y1="71" x2="142.8" y2="99.9" stroke="#b01818" stroke-width="1.1" />
<line x1="149.9" y1="78.1" x2="149.9" y2="101.8" stroke="#b01818" stroke-width="1.1" />
<line x1="156.8" y1="87.4" x2="156.8" y2="104.6" stroke="#b01818" stroke-width="1.1" />
<line x1="163.9" y1="95.3" x2="163.9" y2="110.2" stroke="#b01818" stroke-width="1.1" />
<line x1="170.8" y1="100.9" x2="170.8" y2="114.9" stroke="#b01818" stroke-width="1.1" />
<line x1="177.9" y1="102.7" x2="177.9" y2="117.7" stroke="#b01818" stroke-width="1.1" />
<line x1="184.8" y1="105.5" x2="184.8" y2="121.4" stroke="#b01818" stroke-width="1.1" />
<line x1="191.9" y1="107.4" x2="191.9" y2="124.2" stroke="#b01818" stroke-width="1.1" />
<line x1="198.5" y1="108.3" x2="198.5" y2="126.1" stroke="#b01818" stroke-width="1.1" />
<line x1="205.6" y1="109.3" x2="205.6" y2="127" stroke="#b01818" stroke-width="1.1" />
<line x1="212.5" y1="109.8" x2="212.5" y2="129.8" stroke="#b01818" stroke-width="1.1" />
<line x1="219.6" y1="110.2" x2="219.6" y2="131.1" stroke="#b01818" stroke-width="1.1" />
<line x1="226.5" y1="111.1" x2="226.5" y2="133.5" stroke="#b01818" stroke-width="1.1" />
<line x1="233.4" y1="111.1" x2="233.4" y2="132.6" stroke="#b01818" stroke-width="1.1" />
<line x1="240.5" y1="106.5" x2="240.5" y2="120.5" stroke="#b01818" stroke-width="1.1" />
<rect x="141.5" y="112.3" width="2.6" height="2.6" fill="#6a5acd" />
<rect x="148.6" y="112.6" width="2.6" height="2.6" fill="#6a5acd" />
<rect x="155.5" y="113.6" width="2.6" height="2.6" fill="#6a5acd" />
<rect x="162.6" y="114.1" width="2.6" height="2.6" fill="#6a5acd" />
<rect x="169.5" y="114.5" width="2.6" height="2.6" fill="#6a5acd" />
<rect x="176.6" y="115.4" width="2.6" height="2.6" fill="#6a5acd" />
<rect x="183.5" y="116.4" width="2.6" height="2.6" fill="#6a5acd" />
<rect x="190.6" y="118.2" width="2.6" height="2.6" fill="#6a5acd" />
<rect x="197.2" y="118.6" width="2.6" height="2.6" fill="#6a5acd" />
<rect x="204.3" y="119" width="2.6" height="2.6" fill="#6a5acd" />
<rect x="211.2" y="119.2" width="2.6" height="2.6" fill="#6a5acd" />
<rect x="218.3" y="119.2" width="2.6" height="2.6" fill="#6a5acd" />
<rect x="225.2" y="119.7" width="2.6" height="2.6" fill="#6a5acd" />
<rect x="232.1" y="120.1" width="2.6" height="2.6" fill="#6a5acd" />
<rect x="238.3" y="118.2" width="2.6" height="2.6" fill="#6a5acd" />
<polyline points="135.3,102.7 142.8,103.7 149.9,106.1 156.8,108.3 163.9,109.8 170.8,111.7 177.9,113.6 184.8,114.9 191.9,116.7 198.5,118.6 205.6,119.2 212.5,119.2 219.6,117.3 226.5,119.5 233.4,123.3 239.6,117.7 245.5,115.8" fill="none" stroke="#0000ff" stroke-width="2" stroke-linejoin="round"/>
<polyline points="135.3,99 142.8,99.9 149.9,101.8 156.8,104.6 163.9,108 170.8,111.1 177.9,113 184.8,113.9 191.9,114.9 198.5,115.4 205.6,115.8 212.5,115.8 219.6,115.8 226.5,117.3 233.4,120.5 239.6,115.8 245.5,113" fill="none" stroke="#ff0000" stroke-width="2.4" stroke-linejoin="round"/>
</g>
<g stroke="#000" stroke-width="1" stroke-dasharray="2 2" shape-rendering="crispEdges">
<line x1="142.5" y1="57.5" x2="142.5" y2="134.5" stroke="#000" stroke-width="1" />
<line x1="163.5" y1="57.5" x2="163.5" y2="134.5" stroke="#000" stroke-width="1" />
<line x1="184.5" y1="57.5" x2="184.5" y2="134.5" stroke="#000" stroke-width="1" />
<line x1="205.5" y1="57.5" x2="205.5" y2="134.5" stroke="#000" stroke-width="1" />
<line x1="226.5" y1="57.5" x2="226.5" y2="134.5" stroke="#000" stroke-width="1" />
<line x1="135.5" y1="59.5" x2="245.5" y2="59.5" stroke="#000" stroke-width="1" />
<line x1="135.5" y1="76.5" x2="245.5" y2="76.5" stroke="#000" stroke-width="1" />
<line x1="135.5" y1="94.5" x2="245.5" y2="94.5" stroke="#000" stroke-width="1" />
<line x1="135.5" y1="111.5" x2="245.5" y2="111.5" stroke="#000" stroke-width="1" />
<line x1="135.5" y1="129.5" x2="245.5" y2="129.5" stroke="#000" stroke-width="1" />
</g>
<rect x="135.5" y="57.5" width="110" height="77" fill="none" stroke="#000" stroke-width="1.3"/>
<clipPath id="lP"><rect x="135.5" y="143.5" width="110" height="76.9"/></clipPath>
<g stroke="#000" stroke-width="1" stroke-dasharray="2 2" shape-rendering="crispEdges">
<line x1="142.5" y1="143.5" x2="142.5" y2="220.4" stroke="#000" stroke-width="1" />
<line x1="163.5" y1="143.5" x2="163.5" y2="220.4" stroke="#000" stroke-width="1" />
<line x1="184.5" y1="143.5" x2="184.5" y2="220.4" stroke="#000" stroke-width="1" />
<line x1="205.5" y1="143.5" x2="205.5" y2="220.4" stroke="#000" stroke-width="1" />
<line x1="226.5" y1="143.5" x2="226.5" y2="220.4" stroke="#000" stroke-width="1" />
<line x1="135.5" y1="150.5" x2="245.5" y2="150.5" stroke="#000" stroke-width="1" />
<line x1="135.5" y1="168.5" x2="245.5" y2="168.5" stroke="#000" stroke-width="1" />
<line x1="135.5" y1="185.5" x2="245.5" y2="185.5" stroke="#000" stroke-width="1" />
<line x1="135.5" y1="202.5" x2="245.5" y2="202.5" stroke="#000" stroke-width="1" />
</g>
<g clip-path="url(#lP)">
<rect x="135.3" y="186.8" width="8.3" height="33.6" fill="#00a000" />
<rect x="143.4" y="180.8" width="6.8" height="39.6" fill="#00a000" />
<rect x="149.9" y="179.3" width="7.2" height="41.1" fill="#00a000" />
<rect x="156.8" y="182.3" width="7.4" height="38.1" fill="#0a28c8" />
<rect x="163.9" y="205.1" width="6.5" height="15.3" fill="#0a28c8" />
<rect x="156.8" y="202.3" width="7.4" height="18.1" fill="#00a000" />
<rect x="163.9" y="207.9" width="6.5" height="12.5" fill="#00a000" />
<rect x="170.1" y="218.2" width="7.2" height="2.2" fill="#00a000" />
<line x1="139.6" y1="165" x2="139.6" y2="186.8" stroke="#00a000" stroke-width="1" />
<line x1="146.7" y1="147.2" x2="146.7" y2="180.8" stroke="#00a000" stroke-width="1" />
<line x1="153.6" y1="147.2" x2="153.6" y2="179.3" stroke="#00a000" stroke-width="1" />
<rect x="145.4" y="146.3" width="2.6" height="2.6" fill="#ff0000" />
<rect x="152.3" y="146.3" width="2.6" height="2.6" fill="#ff0000" />
<circle cx="139.6" cy="173.4" r="2.3" fill="#ffeb00" stroke="#000" stroke-width="0.9"/>
<circle cx="146.7" cy="173.4" r="2.3" fill="#ffa500" stroke="#000" stroke-width="0.9"/>
<circle cx="153.6" cy="173.4" r="2.3" fill="#e60000" stroke="#000" stroke-width="0.9"/>
<line x1="136.8" y1="219.4" x2="141.5" y2="219.4" stroke="#ff0000" stroke-width="1.2" />
<line x1="144.3" y1="219.4" x2="148" y2="219.4" stroke="#ff0000" stroke-width="1.2" />
<line x1="151.8" y1="219.4" x2="155.5" y2="219.4" stroke="#ff0000" stroke-width="1.2" />
<line x1="159.2" y1="219.4" x2="163" y2="219.4" stroke="#ff0000" stroke-width="1.2" />
</g>
<polyline points="135.3,173.4 139.6,171.5 143.4,169.6 146.7,164 149.9,159.4 156.8,155.6 163.9,153.7 170.8,153.2 177.9,153.2 184.8,152.8 191.9,149.1 198.5,149.1 205.6,154.7 212.5,155.6 219.6,151.9 226.5,149.5 233.4,151.9 239.6,157.5 245.5,165" fill="none" stroke="#e8501e" stroke-width="1.8" stroke-linejoin="round"/>
<rect x="135.5" y="143.5" width="110" height="76.9" fill="none" stroke="#000" stroke-width="1.3"/>
<clipPath id="lR"><polygon points="135.3,260.9 143.4,260.3 149.9,253.8 156.8,249.6 163.9,249.1 170.4,245.4 177.9,248.7 184.8,250.4 191.9,253.8 198.5,253.8 205.6,253.8 212.5,253.8 219.6,253.8 226.5,254.7 233.4,257.5 239.6,261.2 245.5,265.3 245.5,306 135.5,306"/></clipPath>
<g clip-path="url(#lR)">
<rect x="135.5" y="229.5" width="110" height="76.5" fill="#ffff00" />
<rect x="164.8" y="229.5" width="5.2" height="76.5" fill="#ffd800" />
</g>
<polyline points="135.3,260.9 143.4,260.3 149.9,253.8 156.8,249.6 163.9,249.1 170.4,245.4 177.9,248.7 184.8,250.4 191.9,253.8 198.5,253.8 205.6,253.8 212.5,253.8 219.6,253.8 226.5,254.7 233.4,257.5 239.6,261.2 245.5,265.3" fill="none" stroke="#000" stroke-width="2.2" stroke-linejoin="round"/>
<g stroke="#000" stroke-width="1" stroke-dasharray="2 2" shape-rendering="crispEdges">
<line x1="142.5" y1="229.5" x2="142.5" y2="306" stroke="#000" stroke-width="1" />
<line x1="163.5" y1="229.5" x2="163.5" y2="306" stroke="#000" stroke-width="1" />
<line x1="184.5" y1="229.5" x2="184.5" y2="306" stroke="#000" stroke-width="1" />
<line x1="205.5" y1="229.5" x2="205.5" y2="306" stroke="#000" stroke-width="1" />
<line x1="226.5" y1="229.5" x2="226.5" y2="306" stroke="#000" stroke-width="1" />
<line x1="135.5" y1="231.5" x2="245.5" y2="231.5" stroke="#000" stroke-width="1" />
<line x1="135.5" y1="254.5" x2="245.5" y2="254.5" stroke="#000" stroke-width="1" />
<line x1="135.5" y1="278.5" x2="245.5" y2="278.5" stroke="#000" stroke-width="1" />
<line x1="135.5" y1="301.5" x2="245.5" y2="301.5" stroke="#000" stroke-width="1" />
</g>
<rect x="135.5" y="229.5" width="110" height="76.5" fill="none" stroke="#000" stroke-width="1.3"/>
<clipPath id="lW"><polygon points="135.6,366 143.6,369 148,370.4 156,371.6 164.4,373 172,374 180,375 184.4,374.6 192,373.6 197,373 205,372.6 211,372.6 218,372.6 225,372.6 232,371.6 239,370.4 245.6,370 245.5,392 135.5,392"/></clipPath>
<g clip-path="url(#lW)">
<rect x="135.6" y="315.6" width="12.7" height="76.4" fill="#14c814" />
<rect x="148" y="315.6" width="21.3" height="76.4" fill="#007800" />
<rect x="169" y="315.6" width="28.3" height="76.4" fill="#004a8c" />
<rect x="197" y="315.6" width="14.3" height="76.4" fill="#007800" />
<rect x="211" y="315.6" width="14.3" height="76.4" fill="#004a8c" />
<rect x="225" y="315.6" width="14.3" height="76.4" fill="#007800" />
<rect x="239" y="315.6" width="7.3" height="76.4" fill="#14c814" />
</g>
<polyline points="135.6,366 143.6,369 148,370.4 156,371.6 164.4,373 172,374 180,375 184.4,374.6 192,373.6 197,373 205,372.6 211,372.6 218,372.6 225,372.6 232,371.6 239,370.4 245.6,370" fill="none" stroke="#0000a0" stroke-width="2" stroke-linejoin="round"/>
<g shape-rendering="crispEdges">
<line x1="143.6" y1="340.5" x2="149" y2="340.5" stroke="#ff0000" stroke-width="1" />
<line x1="148" y1="348.5" x2="156" y2="348.5" stroke="#ff0000" stroke-width="1" />
<line x1="156" y1="349.5" x2="162" y2="349.5" stroke="#ff0000" stroke-width="1" />
<line x1="162" y1="351.5" x2="170" y2="351.5" stroke="#ff0000" stroke-width="1" />
<line x1="170" y1="355.5" x2="177" y2="355.5" stroke="#ff0000" stroke-width="1" />
<line x1="177" y1="358.5" x2="184.4" y2="358.5" stroke="#ff0000" stroke-width="1" />
<line x1="184.4" y1="355.5" x2="189" y2="355.5" stroke="#ff0000" stroke-width="1" />
<line x1="190" y1="351.5" x2="198" y2="351.5" stroke="#ff0000" stroke-width="1" />
<line x1="198" y1="350.5" x2="205" y2="350.5" stroke="#ff0000" stroke-width="1" />
<line x1="205" y1="350.5" x2="211" y2="350.5" stroke="#ff0000" stroke-width="1" />
<line x1="211" y1="351.5" x2="218" y2="351.5" stroke="#ff0000" stroke-width="1" />
<line x1="218" y1="351.5" x2="225" y2="351.5" stroke="#ff0000" stroke-width="1" />
<line x1="225" y1="348.5" x2="232" y2="348.5" stroke="#ff0000" stroke-width="1" />
<line x1="232" y1="344.5" x2="239" y2="344.5" stroke="#ff0000" stroke-width="1" />
<line x1="239" y1="342.5" x2="245.6" y2="342.5" stroke="#ff0000" stroke-width="1" />
</g>
<polygon points="138,316.4 140,316.4 139,318.4" fill="#ff0000" />
<g stroke="#000" stroke-width="1" stroke-dasharray="2 2" shape-rendering="crispEdges">
<line x1="142.5" y1="315.6" x2="142.5" y2="392" stroke="#000" stroke-width="1" />
<line x1="163.5" y1="315.6" x2="163.5" y2="392" stroke="#000" stroke-width="1" />
<line x1="184.5" y1="315.6" x2="184.5" y2="392" stroke="#000" stroke-width="1" />
<line x1="205.5" y1="315.6" x2="205.5" y2="392" stroke="#000" stroke-width="1" />
<line x1="226.5" y1="315.6" x2="226.5" y2="392" stroke="#000" stroke-width="1" />
<line x1="135.5" y1="334.5" x2="245.5" y2="334.5" stroke="#000" stroke-width="1" />
<line x1="135.5" y1="354.5" x2="245.5" y2="354.5" stroke="#000" stroke-width="1" />
<line x1="135.5" y1="373.5" x2="245.5" y2="373.5" stroke="#000" stroke-width="1" />
</g>
<rect x="135.5" y="315.6" width="110" height="76.4" fill="none" stroke="#000" stroke-width="1.3"/>
<g stroke="#000" stroke-width="1" stroke-dasharray="2 2" shape-rendering="crispEdges">
<line x1="142.5" y1="398.4" x2="142.5" y2="430" stroke="#000" stroke-width="1" />
<line x1="163.5" y1="398.4" x2="163.5" y2="430" stroke="#000" stroke-width="1" />
<line x1="184.5" y1="398.4" x2="184.5" y2="430" stroke="#000" stroke-width="1" />
<line x1="205.5" y1="398.4" x2="205.5" y2="430" stroke="#000" stroke-width="1" />
<line x1="226.5" y1="398.4" x2="226.5" y2="430" stroke="#000" stroke-width="1" />
</g>
<rect x="135.5" y="398.4" width="110" height="31.6" fill="none" stroke="#000" stroke-width="1.3"/>
<line x1="136.7" y1="414.6" x2="140.3" y2="423.6" stroke="#0000a0" stroke-width="1.2" />
<polygon points="0,0 -7,-3.2 -7,3.2" fill="#0000a0" transform="translate(141.1 425.1) rotate(68.2)"/>
<line x1="140" y1="405.6" x2="147.2" y2="423.6" stroke="#0000a0" stroke-width="1.2" />
<polygon points="0,0 -7,-3.2 -7,3.2" fill="#0000a0" transform="translate(148 425.1) rotate(68.2)"/>
<line x1="146.9" y1="405.6" x2="154.1" y2="423.6" stroke="#0000a0" stroke-width="1.2" />
<polygon points="0,0 -7,-3.2 -7,3.2" fill="#0000a0" transform="translate(154.9 425.1) rotate(68.2)"/>
<line x1="153.8" y1="405.6" x2="161" y2="423.6" stroke="#0000a0" stroke-width="1.2" />
<polygon points="0,0 -7,-3.2 -7,3.2" fill="#0000a0" transform="translate(161.8 425.1) rotate(68.2)"/>
<line x1="160.7" y1="405.6" x2="167.9" y2="423.6" stroke="#0000a0" stroke-width="1.2" />
<polygon points="0,0 -7,-3.2 -7,3.2" fill="#0000a0" transform="translate(168.7 425.1) rotate(68.2)"/>
<line x1="167.6" y1="405.6" x2="174.8" y2="423.6" stroke="#0000a0" stroke-width="1.2" />
<polygon points="0,0 -7,-3.2 -7,3.2" fill="#0000a0" transform="translate(175.6 425.1) rotate(68.2)"/>
<line x1="174.5" y1="405.6" x2="181.7" y2="423.6" stroke="#0000a0" stroke-width="1.2" />
<polygon points="0,0 -7,-3.2 -7,3.2" fill="#0000a0" transform="translate(182.5 425.1) rotate(68.2)"/>
<line x1="181.4" y1="405.6" x2="188.6" y2="423.6" stroke="#0000a0" stroke-width="1.2" />
<polygon points="0,0 -7,-3.2 -7,3.2" fill="#0000a0" transform="translate(189.4 425.1) rotate(68.2)"/>
<line x1="188.3" y1="405.6" x2="195.5" y2="423.6" stroke="#0000a0" stroke-width="1.2" />
<polygon points="0,0 -7,-3.2 -7,3.2" fill="#0000a0" transform="translate(196.3 425.1) rotate(68.2)"/>
<line x1="195.2" y1="405.6" x2="202.4" y2="423.6" stroke="#0000a0" stroke-width="1.2" />
<polygon points="0,0 -7,-3.2 -7,3.2" fill="#0000a0" transform="translate(203.2 425.1) rotate(68.2)"/>
<line x1="202.1" y1="405.6" x2="209.3" y2="423.6" stroke="#0000a0" stroke-width="1.2" />
<polygon points="0,0 -7,-3.2 -7,3.2" fill="#0000a0" transform="translate(210.1 425.1) rotate(68.2)"/>
<line x1="209" y1="405.6" x2="216.2" y2="423.6" stroke="#0000a0" stroke-width="1.2" />
<polygon points="0,0 -7,-3.2 -7,3.2" fill="#0000a0" transform="translate(217 425.1) rotate(68.2)"/>
<line x1="215.9" y1="405.6" x2="223.1" y2="423.6" stroke="#0000a0" stroke-width="1.2" />
<polygon points="0,0 -7,-3.2 -7,3.2" fill="#0000a0" transform="translate(223.9 425.1) rotate(68.2)"/>
<line x1="222.8" y1="405.6" x2="230" y2="423.6" stroke="#0000a0" stroke-width="1.2" />
<polygon points="0,0 -7,-3.2 -7,3.2" fill="#0000a0" transform="translate(230.8 425.1) rotate(68.2)"/>
<line x1="229.7" y1="405.6" x2="236.9" y2="423.6" stroke="#0000a0" stroke-width="1.2" />
<polygon points="0,0 -7,-3.2 -7,3.2" fill="#0000a0" transform="translate(237.7 425.1) rotate(68.2)"/>
<line x1="236.6" y1="405.6" x2="243.8" y2="423.6" stroke="#0000a0" stroke-width="1.2" />
<polygon points="0,0 -7,-3.2 -7,3.2" fill="#0000a0" transform="translate(244.6 425.1) rotate(68.2)"/>
<line x1="243.5" y1="405.6" x2="250.7" y2="423.6" stroke="#0000a0" stroke-width="1.2" />
<polygon points="0,0 -7,-3.2 -7,3.2" fill="#0000a0" transform="translate(251.5 425.1) rotate(68.2)"/>
<rect x="135.5" y="436.4" width="110" height="78" fill="#87cefa" />
<rect x="170" y="436.4" width="61.5" height="78" fill="#7fc2f2" />
<g stroke="#000" stroke-width="1" stroke-dasharray="2 2" shape-rendering="crispEdges">
<line x1="142.5" y1="436.4" x2="142.5" y2="514.4" stroke="#000" stroke-width="1" />
<line x1="163.5" y1="436.4" x2="163.5" y2="514.4" stroke="#000" stroke-width="1" />
<line x1="184.5" y1="436.4" x2="184.5" y2="514.4" stroke="#000" stroke-width="1" />
<line x1="205.5" y1="436.4" x2="205.5" y2="514.4" stroke="#000" stroke-width="1" />
<line x1="226.5" y1="436.4" x2="226.5" y2="514.4" stroke="#000" stroke-width="1" />
<line x1="135.5" y1="456.5" x2="245.5" y2="456.5" stroke="#000" stroke-width="1" />
<line x1="135.5" y1="475.5" x2="245.5" y2="475.5" stroke="#000" stroke-width="1" />
<line x1="135.5" y1="495.5" x2="245.5" y2="495.5" stroke="#000" stroke-width="1" />
</g>
<clipPath id="lB"><rect x="135.5" y="436.4" width="110" height="78"/></clipPath>
<g clip-path="url(#lB)">
<circle cx="137" cy="507" r="2.5" fill="#ffffff" />
<circle cx="143.6" cy="505" r="2.5" fill="#ffffff" />
<circle cx="150.4" cy="500" r="2.5" fill="#ffffff" />
<circle cx="164.4" cy="499" r="2.5" fill="#ffffff" />
<circle cx="191.4" cy="500" r="2.5" fill="#ffffff" />
<circle cx="184.4" cy="509.6" r="2.5" fill="#ffffff" />
<circle cx="171" cy="492.4" r="2.5" fill="#ffffff" />
<circle cx="177.6" cy="492.4" r="2.5" fill="#ffffff" />
<circle cx="198.4" cy="492.4" r="2.5" fill="#ffffff" />
<circle cx="205" cy="492.4" r="2.5" fill="#ffffff" />
<circle cx="212" cy="492.4" r="2.5" fill="#ffffff" />
<circle cx="219" cy="509.6" r="2.5" fill="#ffffff" />
<circle cx="225.6" cy="509.6" r="2.5" fill="#ffffff" />
<circle cx="232.4" cy="509.6" r="2.5" fill="#ffffff" />
<circle cx="239.4" cy="509.6" r="2.5" fill="#ffffff" />
<circle cx="171" cy="490" r="2.5" fill="#d7d7d7" />
<circle cx="198.4" cy="490" r="2.5" fill="#d7d7d7" />
<circle cx="212" cy="489" r="2.5" fill="#d7d7d7" />
<circle cx="219" cy="500" r="2.5" fill="#d7d7d7" />
<circle cx="225.6" cy="500" r="2.5" fill="#d7d7d7" />
<circle cx="232.4" cy="500" r="2.5" fill="#d7d7d7" />
<circle cx="239.4" cy="500" r="2.5" fill="#d7d7d7" />
<circle cx="245.6" cy="500" r="2.5" fill="#d7d7d7" />
<circle cx="171" cy="489.6" r="2.5" fill="#969696" />
<circle cx="177.6" cy="489" r="2.5" fill="#969696" />
<circle cx="198.4" cy="485" r="2.5" fill="#969696" />
<circle cx="239.4" cy="494" r="2.5" fill="#969696" />
<circle cx="184.4" cy="504" r="2.5" fill="#969696" />
<circle cx="143.6" cy="481" r="2.5" fill="#484848" />
<circle cx="150.4" cy="492.4" r="2.5" fill="#484848" />
<circle cx="157.4" cy="492.4" r="2.5" fill="#484848" />
<circle cx="164.4" cy="492.4" r="2.5" fill="#484848" />
<circle cx="191.4" cy="489" r="2.5" fill="#484848" />
<circle cx="212" cy="481.6" r="2.5" fill="#484848" />
<circle cx="219" cy="489" r="2.5" fill="#484848" />
<circle cx="225.6" cy="493" r="2.5" fill="#484848" />
<circle cx="232.4" cy="494" r="2.5" fill="#484848" />
<circle cx="143.6" cy="500" r="2.5" fill="#484848" />
<circle cx="184.4" cy="500" r="2.5" fill="#484848" />
<circle cx="205" cy="489" r="2.5" fill="#484848" />
<circle cx="191.4" cy="456" r="2.5" fill="#000000" />
<circle cx="198.4" cy="464.4" r="2.5" fill="#000000" />
<circle cx="205" cy="467.6" r="2.5" fill="#000000" />
<circle cx="212" cy="470" r="2.5" fill="#000000" />
<circle cx="219" cy="481" r="2.5" fill="#000000" />
<circle cx="225.6" cy="484.4" r="2.5" fill="#000000" />
<circle cx="232.4" cy="489" r="2.5" fill="#000000" />
<circle cx="239.4" cy="481" r="2.5" fill="#000000" />
<circle cx="245.6" cy="476.4" r="2.5" fill="#000000" />
<circle cx="184.4" cy="489" r="2.5" fill="#000000" />
<circle cx="137" cy="475.6" r="2.5" fill="#b22222" />
<circle cx="143.6" cy="475.6" r="2.5" fill="#b22222" />
<circle cx="150.4" cy="458.4" r="2.5" fill="#b22222" />
<circle cx="157.4" cy="458.4" r="2.5" fill="#b22222" />
<circle cx="164.4" cy="460" r="2.5" fill="#b22222" />
<circle cx="171" cy="451" r="2.5" fill="#b22222" />
<circle cx="177.6" cy="449.6" r="2.5" fill="#b22222" />
<circle cx="184.4" cy="449.6" r="2.5" fill="#b22222" />
<circle cx="191.4" cy="449.6" r="2.5" fill="#b22222" />
<circle cx="198.4" cy="451" r="2.5" fill="#b22222" />
<circle cx="205" cy="449.6" r="2.5" fill="#b22222" />
<circle cx="212" cy="449.6" r="2.5" fill="#b22222" />
<circle cx="219" cy="449.6" r="2.5" fill="#b22222" />
<circle cx="225.6" cy="449.6" r="2.5" fill="#b22222" />
<circle cx="232.4" cy="449.6" r="2.5" fill="#b22222" />
<circle cx="239.4" cy="449.6" r="2.5" fill="#b22222" />
<circle cx="245.6" cy="449.6" r="2.5" fill="#b22222" />
<polyline points="135.6,471 143.6,470 150.4,466 157.4,464.4 164.4,464 171,463.6 177.6,464 184.4,467 191.4,469.6 198.4,471 205,471 212,473 219,474.4 225.6,474.4 232.4,473.6 239.4,472 245.6,470" fill="none" stroke="#ff9600" stroke-width="2" stroke-linejoin="round"/>
</g>
<rect x="135.5" y="436.4" width="110" height="78" fill="none" stroke="#000" stroke-width="1.3"/>
<clipPath id="lC"><rect x="135.5" y="523.4" width="110" height="78"/></clipPath>
<g clip-path="url(#lC)">
<rect x="135.5" y="523.4" width="110" height="78" fill="#87cefa" />
<rect x="170" y="523.4" width="61.5" height="78" fill="#7fc2f2" />
<polygon points="164.4,591 169,579 178,565 186,563 191.4,551 197,543 205,542 212,527 218,523.4 248,523.4 248,601.4 164.4,601.4" fill="#ffffff" />
<polygon points="193,575 197,531 205,535 212,529 218,526 226,525 232,523.4 248,523.4 248,601.4 186,601.4 188,575" fill="#969696" />
<polygon points="226,523.4 248,523.4 248,545 239.4,539 234,527" fill="#a8a8a8" />
<polygon points="135.6,575 143.6,562 150.4,575 157.4,583 164.4,586 164.4,601.4 135.6,601.4" fill="#585858" />
<polygon points="135.6,589 143.6,595 150.4,590.6 157.4,595 164.4,600 164.4,601.4 135.6,601.4" fill="#2d2d2d" />
<polygon points="164.4,601.4 168,589 178,593 184.4,573 191.4,569 200,591 205,596 212,581 218,551 225,535 232.4,541 239.4,555 248,567 248,601.4" fill="#585858" />
<polygon points="214,601.4 218,565 225,537 232.4,542 239.4,559 248,575 248,601.4" fill="#484848" />
<polyline points="164.4,601.4 168,589" fill="none" stroke="#f4f4f4" stroke-width="1.2" />
<polyline points="184.4,601.4 191.4,573" fill="none" stroke="#f4f4f4" stroke-width="1.2" />
<polyline points="197,544 205,542 212,527 218,524 226,524.6 232.4,524 239.4,537 245.6,543" fill="none" stroke="#f4f4f4" stroke-width="1.2" />
<polyline points="135.6,591 143.6,596 152,600 164.4,601.4" fill="none" stroke="#808080" stroke-width="1" />
<rect x="216.5" y="590" width="3" height="11.4" fill="#ffb400" />
<rect x="224.1" y="590" width="3" height="11.4" fill="#ffb400" />
<rect x="230.9" y="590" width="3" height="11.4" fill="#ffb400" />
<rect x="237.9" y="590" width="3" height="11.4" fill="#ffb400" />
</g>
<g stroke="#000" stroke-width="1" stroke-dasharray="2 2" shape-rendering="crispEdges">
<line x1="142.5" y1="523.4" x2="142.5" y2="601.4" stroke="#000" stroke-width="1" />
<line x1="163.5" y1="523.4" x2="163.5" y2="601.4" stroke="#000" stroke-width="1" />
<line x1="184.5" y1="523.4" x2="184.5" y2="601.4" stroke="#000" stroke-width="1" />
<line x1="205.5" y1="523.4" x2="205.5" y2="601.4" stroke="#000" stroke-width="1" />
<line x1="226.5" y1="523.4" x2="226.5" y2="601.4" stroke="#000" stroke-width="1" />
<line x1="135.5" y1="543.5" x2="245.5" y2="543.5" stroke="#000" stroke-width="1" />
<line x1="135.5" y1="562.5" x2="245.5" y2="562.5" stroke="#000" stroke-width="1" />
<line x1="135.5" y1="582.5" x2="245.5" y2="582.5" stroke="#000" stroke-width="1" />
</g>
<rect x="135.5" y="523.4" width="110" height="78" fill="none" stroke="#000" stroke-width="1.3"/>
<text x="128.5" y="63" fill="#000" stroke="#000" text-anchor="end" font-size="11" letter-spacing="-0.5">30</text>
<text x="266.5" y="63" fill="#000" stroke="#000" text-anchor="end" font-size="11" letter-spacing="-0.5">30</text>
<text x="128.5" y="80" fill="#000" stroke="#000" text-anchor="end" font-size="11" letter-spacing="-0.5">20</text>
<text x="266.5" y="80" fill="#000" stroke="#000" text-anchor="end" font-size="11" letter-spacing="-0.5">20</text>
<text x="128.5" y="98" fill="#000" stroke="#000" text-anchor="end" font-size="11" letter-spacing="-0.5">10</text>
<text x="266.5" y="98" fill="#000" stroke="#000" text-anchor="end" font-size="11" letter-spacing="-0.5">10</text>
<text x="128.5" y="115" fill="#000" stroke="#000" text-anchor="end" font-size="11" letter-spacing="-0.5">0</text>
<text x="266.5" y="115" fill="#000" stroke="#000" text-anchor="end" font-size="11" letter-spacing="-0.5">0</text>
<text x="128.5" y="133" fill="#000" stroke="#000" text-anchor="end" font-size="11" letter-spacing="-0.5">-10</text>
<text x="266.5" y="133" fill="#000" stroke="#000" text-anchor="end" font-size="11" letter-spacing="-0.5">-10</text>
<text x="128.5" y="154" fill="#000" stroke="#000" text-anchor="end" font-size="11" letter-spacing="-0.5">2.0</text>
<text x="128.5" y="172" fill="#000" stroke="#000" text-anchor="end" font-size="11" letter-spacing="-0.5">1.5</text>
<text x="128.5" y="189" fill="#000" stroke="#000" text-anchor="end" font-size="11" letter-spacing="-0.5">1.0</text>
<text x="128.5" y="206" fill="#000" stroke="#000" text-anchor="end" font-size="11" letter-spacing="-0.5">0.5</text>
<text x="128.5" y="224" fill="#000" stroke="#000" text-anchor="end" font-size="11" letter-spacing="-0.5">0.0</text>
<text x="253.7" y="154" fill="#e8501e" stroke="#e8501e" text-anchor="start" font-size="11" letter-spacing="-0.5">96</text>
<text x="253.7" y="172" fill="#e8501e" stroke="#e8501e" text-anchor="start" font-size="11" letter-spacing="-0.5">84</text>
<text x="253.7" y="189" fill="#e8501e" stroke="#e8501e" text-anchor="start" font-size="11" letter-spacing="-0.5">73</text>
<text x="253.7" y="206" fill="#e8501e" stroke="#e8501e" text-anchor="start" font-size="11" letter-spacing="-0.5">61</text>
<text x="253.7" y="224" fill="#e8501e" stroke="#e8501e" text-anchor="start" font-size="11" letter-spacing="-0.5">50</text>
<text x="128.5" y="235" fill="#000" stroke="#000" text-anchor="end" font-size="11" letter-spacing="-0.5">1018</text>
<text x="251.2" y="235" fill="#000" stroke="#000" text-anchor="start" font-size="11" letter-spacing="-0.5">1018</text>
<text x="128.5" y="258" fill="#000" stroke="#000" text-anchor="end" font-size="11" letter-spacing="-0.5">1016</text>
<text x="251.2" y="258" fill="#000" stroke="#000" text-anchor="start" font-size="11" letter-spacing="-0.5">1016</text>
<text x="128.5" y="282" fill="#000" stroke="#000" text-anchor="end" font-size="11" letter-spacing="-0.5">1014</text>
<text x="251.2" y="282" fill="#000" stroke="#000" text-anchor="start" font-size="11" letter-spacing="-0.5">1014</text>
<text x="128.5" y="305" fill="#000" stroke="#000" text-anchor="end" font-size="11" letter-spacing="-0.5">1012</text>
<text x="251.2" y="305" fill="#000" stroke="#000" text-anchor="start" font-size="11" letter-spacing="-0.5">1012</text>
<text x="128.5" y="320" fill="#000" stroke="#000" text-anchor="end" font-size="11" letter-spacing="-0.5">20</text>
<text x="128.5" y="338" fill="#000" stroke="#000" text-anchor="end" font-size="11" letter-spacing="-0.5">15</text>
<text x="128.5" y="358" fill="#000" stroke="#000" text-anchor="end" font-size="11" letter-spacing="-0.5">10</text>
<text x="128.5" y="377" fill="#000" stroke="#000" text-anchor="end" font-size="11" letter-spacing="-0.5">5</text>
<text x="128.5" y="396" fill="#000" stroke="#000" text-anchor="end" font-size="11" letter-spacing="-0.5">0</text>
<text x="256.6" y="320" fill="#000" stroke="#000" text-anchor="middle" font-size="11" letter-spacing="-0.5">72</text>
<text x="256.6" y="338" fill="#000" stroke="#000" text-anchor="middle" font-size="11" letter-spacing="-0.5">54</text>
<text x="256.6" y="358" fill="#000" stroke="#000" text-anchor="middle" font-size="11" letter-spacing="-0.5">36</text>
<text x="256.6" y="377" fill="#000" stroke="#000" text-anchor="middle" font-size="11" letter-spacing="-0.5">18</text>
<text x="256.6" y="396" fill="#000" stroke="#000" text-anchor="middle" font-size="11" letter-spacing="-0.5">0</text>
<text x="128.5" y="440" fill="#000" stroke="#000" text-anchor="end" font-size="11" letter-spacing="-0.5">15.0</text>
<text x="128.5" y="460" fill="#000" stroke="#000" text-anchor="end" font-size="11" letter-spacing="-0.5">7.0</text>
<text x="128.5" y="479" fill="#000" stroke="#000" text-anchor="end" font-size="11" letter-spacing="-0.5">2.0</text>
<text x="128.5" y="499" fill="#000" stroke="#000" text-anchor="end" font-size="11" letter-spacing="-0.5">0.5</text>
<text x="128.5" y="518" fill="#000" stroke="#000" text-anchor="end" font-size="11" letter-spacing="-0.5">0.0</text>
<text x="250.6" y="440" fill="#ff8000" stroke="#ff8000" text-anchor="start" font-size="11" letter-spacing="-0.5">100</text>
<text x="250.6" y="460" fill="#ff8000" stroke="#ff8000" text-anchor="start" font-size="11" letter-spacing="-0.5">20</text>
<text x="250.6" y="479" fill="#ff8000" stroke="#ff8000" text-anchor="start" font-size="11" letter-spacing="-0.5">5</text>
<text x="250.6" y="499" fill="#ff8000" stroke="#ff8000" text-anchor="start" font-size="11" letter-spacing="-0.5">1</text>
<text x="250.6" y="518" fill="#ff8000" stroke="#ff8000" text-anchor="start" font-size="11" letter-spacing="-0.5">0</text>
<text x="128.8" y="527" fill="#000" stroke="#000" text-anchor="end" font-size="11" letter-spacing="-0.5">8</text>
<text x="128.8" y="547" fill="#000" stroke="#000" text-anchor="end" font-size="11" letter-spacing="-0.5">6</text>
<text x="128.8" y="566" fill="#000" stroke="#000" text-anchor="end" font-size="11" letter-spacing="-0.5">4</text>
<text x="128.8" y="586" fill="#000" stroke="#000" text-anchor="end" font-size="11" letter-spacing="-0.5">2</text>
<text x="128.8" y="605" fill="#000" stroke="#000" text-anchor="end" font-size="11" letter-spacing="-0.5">0</text>
<text x="250.6" y="527" fill="#ff8000" stroke="#ff8000" text-anchor="start" font-size="11" letter-spacing="-0.5">1</text>
<text x="250.6" y="547" fill="#ff8000" stroke="#ff8000" text-anchor="start" font-size="11" letter-spacing="-0.5">0.75</text>
<text x="250.6" y="566" fill="#ff8000" stroke="#ff8000" text-anchor="start" font-size="11" letter-spacing="-0.5">0.5</text>
<text x="250.6" y="586" fill="#ff8000" stroke="#ff8000" text-anchor="start" font-size="11" letter-spacing="-0.5">0.25</text>
<text x="250.6" y="605" fill="#ff8000" stroke="#ff8000" text-anchor="start" font-size="11" letter-spacing="-0.5">0</text>
<text x="163.7" y="51.5" fill="#000" stroke="#000" text-anchor="middle" font-size="12" letter-spacing="0">20</text>
<text x="204" y="51.5" fill="#000" stroke="#000" text-anchor="middle" font-size="12" letter-spacing="0">02</text>
<text x="244.4" y="51.5" fill="#000" stroke="#000" text-anchor="middle" font-size="12" letter-spacing="0">08</text>
<text x="163.5" y="614" fill="#000" stroke="#000" text-anchor="middle" font-size="12" letter-spacing="0">18</text>
<text x="204" y="614" fill="#000" stroke="#000" text-anchor="middle" font-size="12" letter-spacing="0">00</text>
<text x="245" y="614" fill="#000" stroke="#000" text-anchor="middle" font-size="12" letter-spacing="0">06</text>
<text x="5.8" y="18" fill="#000" stroke="#000" text-anchor="start" font-size="11" letter-spacing="0" textLength="59.6" lengthAdjust="spacingAndGlyphs">Czas lokalny</text>
<text x="5.8" y="30" fill="#000" stroke="#000" text-anchor="start" font-size="11" letter-spacing="0" textLength="54.7" lengthAdjust="spacingAndGlyphs">(CET/CEST)</text>
<text x="6.2" y="46.4" fill="#b22222" stroke="#b22222" text-anchor="start" font-size="11" letter-spacing="0" textLength="93.3" lengthAdjust="spacingAndGlyphs">Temperatura gruntu</text>
<text x="27.7" y="56.2" fill="#b22222" stroke="#b22222" text-anchor="start" font-size="11" letter-spacing="0" textLength="38.5" lengthAdjust="spacingAndGlyphs">max/min</text>
<text x="5.4" y="68.4" fill="#000" stroke="#000" text-anchor="start" font-size="11" letter-spacing="0" textLength="62.3" lengthAdjust="spacingAndGlyphs">Temperatura:</text>
<text x="12.8" y="80.7" fill="#ff0000" stroke="#ff0000" text-anchor="start" font-size="11" letter-spacing="0" textLength="76.9" lengthAdjust="spacingAndGlyphs">punkt środkowy</text>
<text x="27.7" y="90.2" fill="#ffe0d8" stroke="#ffe0d8" text-anchor="start" font-size="11" letter-spacing="0" textLength="38.5" lengthAdjust="spacingAndGlyphs">max/min</text>
<text x="10" y="101.7" fill="#0000ff" stroke="#0000ff" text-anchor="start" font-size="11" letter-spacing="0" textLength="57.4" lengthAdjust="spacingAndGlyphs">odczuwana</text>
<text x="27.7" y="111.7" fill="#b4dcfa" stroke="#b4dcfa" text-anchor="start" font-size="11" letter-spacing="0" textLength="38.5" lengthAdjust="spacingAndGlyphs">max/min</text>
<text x="6" y="123.4" fill="#6a5acd" stroke="#6a5acd" text-anchor="start" font-size="11" letter-spacing="0" textLength="86.7" lengthAdjust="spacingAndGlyphs">Temp. punktu rosy</text>
<text x="6" y="140.7" fill="#ff0000" stroke="#ff0000" text-anchor="start" font-size="11" letter-spacing="0" textLength="94" lengthAdjust="spacingAndGlyphs">Opad powyżej skali</text>
<text x="6" y="154.7" fill="#e8501e" stroke="#e8501e" text-anchor="start" font-size="11" letter-spacing="0" textLength="97.3" lengthAdjust="spacingAndGlyphs">Wilgotność względna</text>
<text x="6.2" y="168.6" fill="#000" stroke="#000" text-anchor="start" font-size="11" letter-spacing="0" textLength="84.6" lengthAdjust="spacingAndGlyphs">Wystąpienie burzy</text>
<text x="6" y="182.7" fill="#00a000" stroke="#00a000" text-anchor="start" font-size="11" letter-spacing="0" textLength="39" lengthAdjust="spacingAndGlyphs">Deszcz:</text>
<text x="49.5" y="182.9" fill="#00a000" stroke="#00a000" text-anchor="start" font-size="11" letter-spacing="0" textLength="19.4" lengthAdjust="spacingAndGlyphs">max</text>
<text x="49.2" y="193.7" fill="#00a000" stroke="#00a000" text-anchor="start" font-size="11" letter-spacing="0" textLength="29.3" lengthAdjust="spacingAndGlyphs">średni</text>
<text x="6" y="205" fill="#0000e6" stroke="#0000e6" text-anchor="start" font-size="11" letter-spacing="0" textLength="30" lengthAdjust="spacingAndGlyphs">Śnieg:</text>
<text x="49" y="204.7" fill="#0000e6" stroke="#0000e6" text-anchor="start" font-size="11" letter-spacing="0" textLength="18.8" lengthAdjust="spacingAndGlyphs">max</text>
<text x="49.3" y="215.7" fill="#0000e6" stroke="#0000e6" text-anchor="start" font-size="11" letter-spacing="0" textLength="29" lengthAdjust="spacingAndGlyphs">średni</text>
<text x="6" y="228" fill="#ff0000" stroke="#ff0000" text-anchor="start" font-size="11" letter-spacing="0" textLength="88.3" lengthAdjust="spacingAndGlyphs">Wystąpienie opadu</text>
<text x="6" y="240.7" fill="#ff0000" stroke="#ff0000" text-anchor="start" font-size="11" letter-spacing="0" textLength="71.3" lengthAdjust="spacingAndGlyphs">konwekcyjnego</text>
<text x="5.1" y="267" fill="#000" stroke="#000" text-anchor="start" font-size="11" letter-spacing="0" textLength="41.8" lengthAdjust="spacingAndGlyphs">Ciśnienie</text>
<text x="5.1" y="280.1" fill="#000" stroke="#000" text-anchor="start" font-size="11" letter-spacing="0" textLength="66" lengthAdjust="spacingAndGlyphs">zredukowane</text>
<text x="5.1" y="292.7" fill="#000" stroke="#000" text-anchor="start" font-size="11" letter-spacing="0" textLength="87.2" lengthAdjust="spacingAndGlyphs">do poziomu morza</text>
<text x="9.5" y="338.6" fill="#ff0000" stroke="#ff0000" text-anchor="start" font-size="11" letter-spacing="0" textLength="101" lengthAdjust="spacingAndGlyphs">poryw powyżej skali</text>
<text x="9.5" y="352.4" fill="#ff0000" stroke="#ff0000" text-anchor="start" font-size="11" letter-spacing="0" textLength="95" lengthAdjust="spacingAndGlyphs">max porywy wiatru</text>
<text x="9.5" y="371.9" fill="#0000a0" stroke="#0000a0" text-anchor="start" font-size="11" letter-spacing="0" textLength="79" lengthAdjust="spacingAndGlyphs">prędkość wiatru</text>
<text x="9.5" y="385.1" fill="#0000a0" stroke="#0000a0" text-anchor="start" font-size="11" letter-spacing="0" textLength="88.7" lengthAdjust="spacingAndGlyphs">w środku obszaru</text>
<text x="9.5" y="412.8" fill="#0000a0" stroke="#0000a0" text-anchor="start" font-size="11" letter-spacing="0" textLength="74.1" lengthAdjust="spacingAndGlyphs">kierunek wiatru</text>
<text x="6.2" y="433" fill="#b22222" stroke="#b22222" text-anchor="start" font-size="11" letter-spacing="0" textLength="90.4" lengthAdjust="spacingAndGlyphs">Wierzchołek chmur</text>
<text x="5.8" y="448.6" fill="#000" stroke="#000" text-anchor="start" font-size="11" letter-spacing="0" textLength="85.2" lengthAdjust="spacingAndGlyphs">Podstawa chmur*</text>
<text x="5.8" y="459.3" fill="#000" stroke="#000" text-anchor="start" font-size="11" letter-spacing="0" textLength="47.3" lengthAdjust="spacingAndGlyphs">o pokryciu</text>
<text x="10.8" y="471.7" fill="#000" stroke="#000" text-anchor="start" font-size="11" letter-spacing="0" textLength="43.4" lengthAdjust="spacingAndGlyphs">&gt; 7.9 okt.</text>
<text x="10.8" y="482.7" fill="#404040" stroke="#404040" text-anchor="start" font-size="11" letter-spacing="0" textLength="43.4" lengthAdjust="spacingAndGlyphs">&gt; 6.5 okt.</text>
<text x="10.8" y="493.5" fill="#969696" stroke="#969696" text-anchor="start" font-size="11" letter-spacing="0" textLength="43.4" lengthAdjust="spacingAndGlyphs">&gt; 4.5 okt.</text>
<text x="10.8" y="503.7" fill="#d7d7d7" stroke="#d7d7d7" text-anchor="start" font-size="11" letter-spacing="0" textLength="43.4" lengthAdjust="spacingAndGlyphs">&gt; 2.5 okt.</text>
<text x="5.9" y="530" fill="#ff8000" stroke="#ff8000" text-anchor="start" font-size="11" letter-spacing="0" textLength="57.3" lengthAdjust="spacingAndGlyphs">Widzialność</text>
<text x="5.9" y="547" fill="#000" stroke="#000" text-anchor="start" font-size="11" letter-spacing="0" textLength="38.7" lengthAdjust="spacingAndGlyphs">Chmury:</text>
<text x="10.2" y="572.9" fill="#969696" stroke="#969696" text-anchor="start" font-size="11" letter-spacing="0" textLength="35" lengthAdjust="spacingAndGlyphs">średnie</text>
<text x="10.2" y="584.8" fill="#464646" stroke="#464646" text-anchor="start" font-size="11" letter-spacing="0" textLength="25.9" lengthAdjust="spacingAndGlyphs">niskie</text>
<text x="10.2" y="596.5" fill="#1e1e1e" stroke="#1e1e1e" text-anchor="start" font-size="11" letter-spacing="0" textLength="60.9" lengthAdjust="spacingAndGlyphs">bardzo niskie</text>
<text x="5.9" y="608.5" fill="#ffb400" stroke="#ffb400" text-anchor="start" font-size="11" letter-spacing="0" textLength="20.6" lengthAdjust="spacingAndGlyphs">Mgła</text>
<text x="5" y="322.4" fill="#000" stroke="#000" text-anchor="start" font-size="11" letter-spacing="0" textLength="40.7" lengthAdjust="spacingAndGlyphs">Wiatr na</text>
<text x="49.3" y="322.4" fill="#000" stroke="#000" text-anchor="start" font-size="12" style="font-family:'Liberation Serif',serif" letter-spacing="0" textLength="21.7" lengthAdjust="spacingAndGlyphs">10m:</text>
<rect x="10.8" y="505" width="43.8" height="11.5" fill="#87cefa" />
<text x="11" y="515" fill="#fff" stroke="#fff" text-anchor="start" font-size="11" letter-spacing="0" textLength="43" lengthAdjust="spacingAndGlyphs">&gt; 0.1 okt.</text>
<rect x="10.2" y="550.8" width="41.2" height="11.6" fill="#87cefa" />
<text x="11.7" y="560.4" fill="#fff" stroke="#fff" text-anchor="start" font-size="11" letter-spacing="0" textLength="39.2" lengthAdjust="spacingAndGlyphs">wysokie</text>
<text x="5.9" y="626" fill="#000" stroke="#000" text-anchor="start" font-size="11" letter-spacing="0" textLength="131.6" lengthAdjust="spacingAndGlyphs">Czas uniwersalny (UTC)</text>
<text x="5.3" y="651" fill="#000" stroke="#000" text-anchor="start" font-size="9.5" letter-spacing="0" textLength="102.9" lengthAdjust="spacingAndGlyphs" stroke-width="0.5">* powyżej poziomu morza</text>
<polyline points="66.7,15.5 131.7,15.5 156,45" fill="none" stroke="#000" stroke-width="1" shape-rendering="auto"/>
<polyline points="101.7,43.5 118.3,43.5 150,84" fill="none" stroke="#b22222" stroke-width="1" shape-rendering="auto"/>
<polyline points="91.7,76.5 115,76.5" fill="none" stroke="#ff0000" stroke-width="1" shape-rendering="auto"/>
<polyline points="130,76.2 132.2,76.4 156,102" fill="none" stroke="#ff0000" stroke-width="1" shape-rendering="auto"/>
<polyline points="70,99.5 133.3,99.5 140,101.7" fill="none" stroke="#0000ff" stroke-width="1" shape-rendering="auto"/>
<polyline points="94,120.5 130,120.5 139.3,113.3" fill="none" stroke="#6a5acd" stroke-width="1" shape-rendering="auto"/>
<polyline points="101.7,136.5 140,136.5 145.7,146.7" fill="none" stroke="#ff0000" stroke-width="1" shape-rendering="auto"/>
<polyline points="106,150.5 111,150.5" fill="none" stroke="#e8501e" stroke-width="1" shape-rendering="auto"/>
<polyline points="129.3,150.7 146.7,160" fill="none" stroke="#e8501e" stroke-width="1" shape-rendering="auto"/>
<polyline points="94,165.5 111.7,165.5" fill="none" stroke="#000" stroke-width="1" shape-rendering="auto"/>
<polyline points="129.3,165.7 133.3,166.7 137.3,172.7" fill="none" stroke="#000" stroke-width="1" shape-rendering="auto"/>
<polyline points="69,179.5 139.3,179.5" fill="none" stroke="#00a000" stroke-width="1" shape-rendering="auto"/>
<polyline points="79,190.5 135,190.5" fill="none" stroke="#00a000" stroke-width="1" shape-rendering="auto"/>
<polyline points="69,201.5 111.7,201.5" fill="none" stroke="#0000e6" stroke-width="1" shape-rendering="auto"/>
<polyline points="129.3,201.7 160,171.7" fill="none" stroke="#0000e6" stroke-width="1" shape-rendering="auto"/>
<polyline points="81.2,213.5 131.5,213.5 157,187" fill="none" stroke="#0000e6" stroke-width="1" shape-rendering="auto"/>
<polyline points="95.7,224.5 141.7,224.5 146.7,220" fill="none" stroke="#ff0000" stroke-width="1" shape-rendering="auto"/>
<polyline points="51,264.5 130.8,264.5 135.4,262" fill="none" stroke="#000" stroke-width="1" shape-rendering="auto"/>
<polyline points="112.7,334.5 117.3,334.5" fill="none" stroke="#ff0000" stroke-width="1" shape-rendering="auto"/>
<polyline points="130.7,334.3 139.3,316.7" fill="none" stroke="#ff0000" stroke-width="1" shape-rendering="auto"/>
<polyline points="107.3,347.5 131.7,347.5 148.3,340" fill="none" stroke="#ff0000" stroke-width="1" shape-rendering="auto"/>
<polyline points="92.3,366.5 136,366.5" fill="none" stroke="#0000a0" stroke-width="1" shape-rendering="auto"/>
<polyline points="86,410.5 138.3,410.5" fill="none" stroke="#0000a0" stroke-width="1" shape-rendering="auto"/>
<polyline points="99.5,430.5 122.8,430.5 182.2,450.6" fill="none" stroke="#b22222" stroke-width="1" shape-rendering="auto"/>
<polyline points="57.3,468.5 135,468.5 192.4,455.5" fill="none" stroke="#000" stroke-width="1" shape-rendering="auto"/>
<polyline points="57.3,480.5 133,480.5 143,481.5" fill="none" stroke="#404040" stroke-width="1" shape-rendering="auto"/>
<polyline points="57.3,490.5 131,490.5 141.2,500.5" fill="none" stroke="#969696" stroke-width="1" shape-rendering="auto"/>
<polyline points="57.3,500.5 127,500.5 135,508.7" fill="none" stroke="#d7d7d7" stroke-width="1" shape-rendering="auto"/>
<polyline points="54.4,510.5 134,510.5" fill="none" stroke="#87cefa" stroke-width="3.4" shape-rendering="auto"/>
<polyline points="54.4,510.5 134,510.5" fill="none" stroke="#fff" stroke-width="1" shape-rendering="auto"/>
<polyline points="67.5,527.5 130.2,527.5 176,463.7" fill="none" stroke="#ff8c00" stroke-width="1" shape-rendering="auto"/>
<polyline points="51.5,556.5 186,556.5" fill="none" stroke="#87cefa" stroke-width="3.4" shape-rendering="auto"/>
<polyline points="51.5,556.5 186,556.5" fill="none" stroke="#fff" stroke-width="1" shape-rendering="auto"/>
<polyline points="49.2,571.5 204.7,571.5" fill="none" stroke="#969696" stroke-width="1" shape-rendering="auto"/>
<polyline points="40.3,582.5 122,582.5" fill="none" stroke="#464646" stroke-width="1" shape-rendering="auto"/>
<polyline points="130,582.5 136,582.5" fill="none" stroke="#464646" stroke-width="1" shape-rendering="auto"/>
<polyline points="74.3,594.5 136,594.5 148.5,593" fill="none" stroke="#1e1e1e" stroke-width="1" shape-rendering="auto"/>
<polyline points="30.3,605.5 217,605.5 219.8,597" fill="none" stroke="#ffb400" stroke-width="1" shape-rendering="auto"/>
<polyline points="140,623.5 148.5,623.5 158,611.2" fill="none" stroke="#000" stroke-width="1" shape-rendering="auto"/>
</svg>
</body></html>
